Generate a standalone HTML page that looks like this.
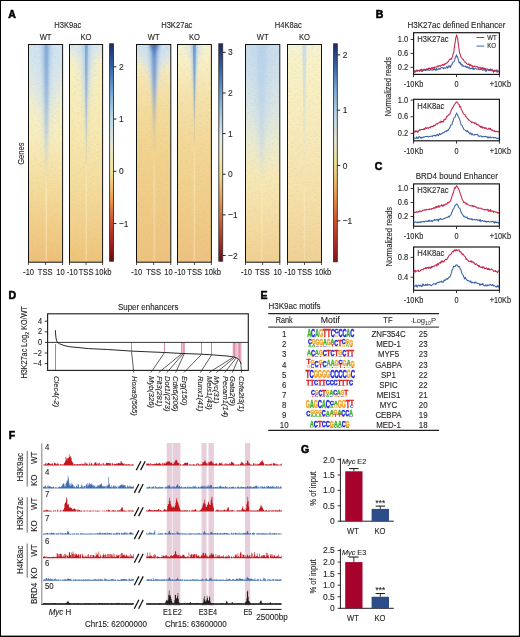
<!DOCTYPE html><html><head><meta charset="utf-8"><style>html,body{margin:0;padding:0;background:#fff;}svg{display:block;will-change:transform;} text{font-family:"Liberation Sans", sans-serif;}</style></head><body><svg width="520" height="637" viewBox="0 0 520 637" font-family='"Liberation Sans", sans-serif' fill="#231f20"><defs><filter id="noise" x="0" y="0" width="100%" height="100%"><feTurbulence type="fractalNoise" baseFrequency="0.35 0.9" numOctaves="2" seed="3" result="t"/><feColorMatrix type="matrix" values="0 0 0 0 0.5  0 0 0 0 0.4  0 0 0 0 0.3  1.6 0 0 0 -0.8" /></filter><filter id="b1" x="-50%" y="-10%" width="200%" height="120%"><feGaussianBlur stdDeviation="1.2"/></filter><filter id="b2" x="-50%" y="-10%" width="200%" height="120%"><feGaussianBlur stdDeviation="2.5"/></filter><filter id="b4" x="-50%" y="-10%" width="200%" height="120%"><feGaussianBlur stdDeviation="5"/></filter><linearGradient id="g_h9wt" gradientUnits="userSpaceOnUse" x1="0" y1="44.5" x2="0" y2="262.2"><stop offset="0" stop-color="#eef0d8" stop-opacity="1"/><stop offset="0.2" stop-color="#f5f1cc" stop-opacity="1"/><stop offset="0.42" stop-color="#f8eebe" stop-opacity="1"/><stop offset="0.62" stop-color="#f5dfa2" stop-opacity="1"/><stop offset="0.82" stop-color="#f2cf8a" stop-opacity="1"/><stop offset="1" stop-color="#eec079" stop-opacity="1"/></linearGradient><linearGradient id="bd_h9wt_0" gradientUnits="userSpaceOnUse" x1="0" y1="44.5" x2="0" y2="118"><stop offset="0" stop-color="#d2e4f2" stop-opacity="1.0"/><stop offset="1" stop-color="#d2e4f2" stop-opacity="0"/></linearGradient><linearGradient id="w_h9wt_1" gradientUnits="userSpaceOnUse" x1="0" y1="42.5" x2="0" y2="180"><stop offset="0" stop-color="#d0e3f1" stop-opacity="0.9"/><stop offset="0.7" stop-color="#d0e3f1" stop-opacity="0.27"/><stop offset="1" stop-color="#d0e3f1" stop-opacity="0.0"/></linearGradient><filter id="f_h9wt_1" x="-100%" y="-10%" width="300%" height="120%"><feGaussianBlur stdDeviation="3"/></filter><linearGradient id="w_h9wt_2" gradientUnits="userSpaceOnUse" x1="0" y1="42.5" x2="0" y2="190"><stop offset="0" stop-color="#abc9e7" stop-opacity="0.8"/><stop offset="0.7" stop-color="#abc9e7" stop-opacity="0.24"/><stop offset="1" stop-color="#abc9e7" stop-opacity="0.0"/></linearGradient><filter id="f_h9wt_2" x="-100%" y="-10%" width="300%" height="120%"><feGaussianBlur stdDeviation="1.6"/></filter><linearGradient id="w_h9wt_3" gradientUnits="userSpaceOnUse" x1="0" y1="42.5" x2="0" y2="175"><stop offset="0" stop-color="#6d9bd0" stop-opacity="0.85"/><stop offset="0.7" stop-color="#6d9bd0" stop-opacity="0.325"/><stop offset="1" stop-color="#6d9bd0" stop-opacity="0.1"/></linearGradient><filter id="f_h9wt_3" x="-100%" y="-10%" width="300%" height="120%"><feGaussianBlur stdDeviation="0.9"/></filter><linearGradient id="cl_h9wt" gradientUnits="userSpaceOnUse" x1="0" y1="170" x2="0" y2="262.2"><stop offset="0" stop-color="#fff8d8" stop-opacity="0"/><stop offset="0.3" stop-color="#fff8d8" stop-opacity="0.45"/><stop offset="1" stop-color="#fff8d8" stop-opacity="0.36000000000000004"/></linearGradient><linearGradient id="g_h9ko" gradientUnits="userSpaceOnUse" x1="0" y1="44.5" x2="0" y2="262.2"><stop offset="0" stop-color="#f3f2d2" stop-opacity="1"/><stop offset="0.1" stop-color="#f8f1c2" stop-opacity="1"/><stop offset="0.42" stop-color="#f7e8b0" stop-opacity="1"/><stop offset="0.65" stop-color="#f4dc9c" stop-opacity="1"/><stop offset="0.85" stop-color="#f1cf8a" stop-opacity="1"/><stop offset="1" stop-color="#eec37a" stop-opacity="1"/></linearGradient><linearGradient id="bd_h9ko_0" gradientUnits="userSpaceOnUse" x1="0" y1="44.5" x2="0" y2="62"><stop offset="0" stop-color="#d8e8f0" stop-opacity="0.9"/><stop offset="1" stop-color="#d8e8f0" stop-opacity="0"/></linearGradient><linearGradient id="w_h9ko_1" gradientUnits="userSpaceOnUse" x1="0" y1="42.5" x2="0" y2="140"><stop offset="0" stop-color="#d4e5f0" stop-opacity="0.85"/><stop offset="0.7" stop-color="#d4e5f0" stop-opacity="0.255"/><stop offset="1" stop-color="#d4e5f0" stop-opacity="0.0"/></linearGradient><filter id="f_h9ko_1" x="-100%" y="-10%" width="300%" height="120%"><feGaussianBlur stdDeviation="3"/></filter><linearGradient id="w_h9ko_2" gradientUnits="userSpaceOnUse" x1="0" y1="42.5" x2="0" y2="180"><stop offset="0" stop-color="#a8c8e6" stop-opacity="0.75"/><stop offset="0.7" stop-color="#a8c8e6" stop-opacity="0.22499999999999998"/><stop offset="1" stop-color="#a8c8e6" stop-opacity="0.0"/></linearGradient><filter id="f_h9ko_2" x="-100%" y="-10%" width="300%" height="120%"><feGaussianBlur stdDeviation="1.5"/></filter><linearGradient id="w_h9ko_3" gradientUnits="userSpaceOnUse" x1="0" y1="42.5" x2="0" y2="165"><stop offset="0" stop-color="#779fd2" stop-opacity="0.85"/><stop offset="0.7" stop-color="#779fd2" stop-opacity="0.325"/><stop offset="1" stop-color="#779fd2" stop-opacity="0.1"/></linearGradient><filter id="f_h9ko_3" x="-100%" y="-10%" width="300%" height="120%"><feGaussianBlur stdDeviation="0.7"/></filter><linearGradient id="cl_h9ko" gradientUnits="userSpaceOnUse" x1="0" y1="160" x2="0" y2="262.2"><stop offset="0" stop-color="#fff8d8" stop-opacity="0"/><stop offset="0.3" stop-color="#fff8d8" stop-opacity="0.4"/><stop offset="1" stop-color="#fff8d8" stop-opacity="0.32000000000000006"/></linearGradient><linearGradient id="g_h27wt" gradientUnits="userSpaceOnUse" x1="0" y1="44.5" x2="0" y2="262.2"><stop offset="0" stop-color="#e6ecdc" stop-opacity="1"/><stop offset="0.06" stop-color="#f2efcc" stop-opacity="1"/><stop offset="0.15" stop-color="#f6e6b4" stop-opacity="1"/><stop offset="0.3" stop-color="#f4dc9c" stop-opacity="1"/><stop offset="0.5" stop-color="#f2d38e" stop-opacity="1"/><stop offset="0.75" stop-color="#f0cb86" stop-opacity="1"/><stop offset="1" stop-color="#eec27c" stop-opacity="1"/></linearGradient><linearGradient id="bd_h27wt_0" gradientUnits="userSpaceOnUse" x1="0" y1="44.5" x2="0" y2="68"><stop offset="0" stop-color="#cde0f0" stop-opacity="1.0"/><stop offset="1" stop-color="#cde0f0" stop-opacity="0"/></linearGradient><linearGradient id="w_h27wt_1" gradientUnits="userSpaceOnUse" x1="0" y1="42.5" x2="0" y2="115"><stop offset="0" stop-color="#cfe2f0" stop-opacity="0.95"/><stop offset="0.7" stop-color="#cfe2f0" stop-opacity="0.285"/><stop offset="1" stop-color="#cfe2f0" stop-opacity="0.0"/></linearGradient><filter id="f_h27wt_1" x="-100%" y="-10%" width="300%" height="120%"><feGaussianBlur stdDeviation="2.5"/></filter><linearGradient id="w_h27wt_2" gradientUnits="userSpaceOnUse" x1="0" y1="42.5" x2="0" y2="140"><stop offset="0" stop-color="#9cbfe3" stop-opacity="0.9"/><stop offset="0.7" stop-color="#9cbfe3" stop-opacity="0.27"/><stop offset="1" stop-color="#9cbfe3" stop-opacity="0.0"/></linearGradient><filter id="f_h27wt_2" x="-100%" y="-10%" width="300%" height="120%"><feGaussianBlur stdDeviation="1.8"/></filter><linearGradient id="w_h27wt_3" gradientUnits="userSpaceOnUse" x1="0" y1="42.5" x2="0" y2="150"><stop offset="0" stop-color="#5a84c4" stop-opacity="0.85"/><stop offset="0.7" stop-color="#5a84c4" stop-opacity="0.36"/><stop offset="1" stop-color="#5a84c4" stop-opacity="0.15"/></linearGradient><filter id="f_h27wt_3" x="-100%" y="-10%" width="300%" height="120%"><feGaussianBlur stdDeviation="1.0"/></filter><linearGradient id="w_h27wt_4" gradientUnits="userSpaceOnUse" x1="0" y1="42.5" x2="0" y2="58"><stop offset="0" stop-color="#3d62a8" stop-opacity="0.9"/><stop offset="0.7" stop-color="#3d62a8" stop-opacity="0.27"/><stop offset="1" stop-color="#3d62a8" stop-opacity="0.0"/></linearGradient><filter id="f_h27wt_4" x="-100%" y="-10%" width="300%" height="120%"><feGaussianBlur stdDeviation="1.5"/></filter><linearGradient id="cl_h27wt" gradientUnits="userSpaceOnUse" x1="0" y1="150" x2="0" y2="262.2"><stop offset="0" stop-color="#fff8d8" stop-opacity="0"/><stop offset="0.3" stop-color="#fff8d8" stop-opacity="0.4"/><stop offset="1" stop-color="#fff8d8" stop-opacity="0.32000000000000006"/></linearGradient><linearGradient id="g_h27ko" gradientUnits="userSpaceOnUse" x1="0" y1="44.5" x2="0" y2="262.2"><stop offset="0" stop-color="#f4f1d2" stop-opacity="1"/><stop offset="0.08" stop-color="#f8f0c6" stop-opacity="1"/><stop offset="0.25" stop-color="#f5e2aa" stop-opacity="1"/><stop offset="0.45" stop-color="#f3d898" stop-opacity="1"/><stop offset="0.75" stop-color="#f1cd88" stop-opacity="1"/><stop offset="1" stop-color="#eec280" stop-opacity="1"/></linearGradient><linearGradient id="w_h27ko_0" gradientUnits="userSpaceOnUse" x1="0" y1="42.5" x2="0" y2="90"><stop offset="0" stop-color="#d4e4ee" stop-opacity="0.8"/><stop offset="0.7" stop-color="#d4e4ee" stop-opacity="0.24"/><stop offset="1" stop-color="#d4e4ee" stop-opacity="0.0"/></linearGradient><filter id="f_h27ko_0" x="-100%" y="-10%" width="300%" height="120%"><feGaussianBlur stdDeviation="2.5"/></filter><linearGradient id="w_h27ko_1" gradientUnits="userSpaceOnUse" x1="0" y1="42.5" x2="0" y2="140"><stop offset="0" stop-color="#a3c4e6" stop-opacity="0.85"/><stop offset="0.7" stop-color="#a3c4e6" stop-opacity="0.255"/><stop offset="1" stop-color="#a3c4e6" stop-opacity="0.0"/></linearGradient><filter id="f_h27ko_1" x="-100%" y="-10%" width="300%" height="120%"><feGaussianBlur stdDeviation="1.0"/></filter><linearGradient id="w_h27ko_2" gradientUnits="userSpaceOnUse" x1="0" y1="42.5" x2="0" y2="145"><stop offset="0" stop-color="#6593cc" stop-opacity="0.95"/><stop offset="0.7" stop-color="#6593cc" stop-opacity="0.355"/><stop offset="1" stop-color="#6593cc" stop-opacity="0.1"/></linearGradient><filter id="f_h27ko_2" x="-100%" y="-10%" width="300%" height="120%"><feGaussianBlur stdDeviation="0.5"/></filter><linearGradient id="cl_h27ko" gradientUnits="userSpaceOnUse" x1="0" y1="140" x2="0" y2="262.2"><stop offset="0" stop-color="#fff8d8" stop-opacity="0"/><stop offset="0.3" stop-color="#fff8d8" stop-opacity="0.4"/><stop offset="1" stop-color="#fff8d8" stop-opacity="0.32000000000000006"/></linearGradient><linearGradient id="g_h8wt" gradientUnits="userSpaceOnUse" x1="0" y1="44.5" x2="0" y2="262.2"><stop offset="0" stop-color="#e4ecdc" stop-opacity="1"/><stop offset="0.3" stop-color="#eeefd6" stop-opacity="1"/><stop offset="0.45" stop-color="#f6efc6" stop-opacity="1"/><stop offset="0.62" stop-color="#f6e8b6" stop-opacity="1"/><stop offset="0.82" stop-color="#f4dca2" stop-opacity="1"/><stop offset="1" stop-color="#f0d092" stop-opacity="1"/></linearGradient><linearGradient id="bd_h8wt_0" gradientUnits="userSpaceOnUse" x1="0" y1="44.5" x2="0" y2="175"><stop offset="0" stop-color="#c9ddf0" stop-opacity="1.0"/><stop offset="1" stop-color="#c9ddf0" stop-opacity="0"/></linearGradient><linearGradient id="w_h8wt_1" gradientUnits="userSpaceOnUse" x1="0" y1="42.5" x2="0" y2="178"><stop offset="0" stop-color="#c4dbef" stop-opacity="0.6"/><stop offset="0.7" stop-color="#c4dbef" stop-opacity="0.39"/><stop offset="1" stop-color="#c4dbef" stop-opacity="0.3"/></linearGradient><filter id="f_h8wt_1" x="-100%" y="-10%" width="300%" height="120%"><feGaussianBlur stdDeviation="3"/></filter><linearGradient id="w_h8wt_2" gradientUnits="userSpaceOnUse" x1="0" y1="42.5" x2="0" y2="178"><stop offset="0" stop-color="#b2cfe9" stop-opacity="0.7"/><stop offset="0.7" stop-color="#b2cfe9" stop-opacity="0.35"/><stop offset="1" stop-color="#b2cfe9" stop-opacity="0.2"/></linearGradient><filter id="f_h8wt_2" x="-100%" y="-10%" width="300%" height="120%"><feGaussianBlur stdDeviation="1.5"/></filter><linearGradient id="cl_h8wt" gradientUnits="userSpaceOnUse" x1="0" y1="178" x2="0" y2="262.2"><stop offset="0" stop-color="#fff8d8" stop-opacity="0"/><stop offset="0.3" stop-color="#fff8d8" stop-opacity="0.3"/><stop offset="1" stop-color="#fff8d8" stop-opacity="0.24"/></linearGradient><linearGradient id="g_h8ko" gradientUnits="userSpaceOnUse" x1="0" y1="44.5" x2="0" y2="262.2"><stop offset="0" stop-color="#f5f3d8" stop-opacity="1"/><stop offset="0.08" stop-color="#f8f2c8" stop-opacity="1"/><stop offset="0.45" stop-color="#f7e9b8" stop-opacity="1"/><stop offset="0.75" stop-color="#f4dea6" stop-opacity="1"/><stop offset="1" stop-color="#f0d194" stop-opacity="1"/></linearGradient><linearGradient id="w_h8ko_0" gradientUnits="userSpaceOnUse" x1="0" y1="42.5" x2="0" y2="175"><stop offset="0" stop-color="#c2dbef" stop-opacity="0.9"/><stop offset="0.7" stop-color="#c2dbef" stop-opacity="0.27"/><stop offset="1" stop-color="#c2dbef" stop-opacity="0.0"/></linearGradient><filter id="f_h8ko_0" x="-100%" y="-10%" width="300%" height="120%"><feGaussianBlur stdDeviation="0.6"/></filter><linearGradient id="cl_h8ko" gradientUnits="userSpaceOnUse" x1="0" y1="175" x2="0" y2="262.2"><stop offset="0" stop-color="#fff8d8" stop-opacity="0"/><stop offset="0.3" stop-color="#fff8d8" stop-opacity="0.3"/><stop offset="1" stop-color="#fff8d8" stop-opacity="0.24"/></linearGradient><linearGradient id="cb1" gradientUnits="userSpaceOnUse" x1="0" y1="43.8" x2="0" y2="261.2"><stop offset="0.0" stop-color="#1b2a6b" stop-opacity="1"/><stop offset="0.1058" stop-color="#3563ab" stop-opacity="1"/><stop offset="0.226" stop-color="#74a9d8" stop-opacity="1"/><stop offset="0.3462" stop-color="#bcdbe8" stop-opacity="1"/><stop offset="0.4663" stop-color="#e4e7d2" stop-opacity="1"/><stop offset="0.5865" stop-color="#f3e39a" stop-opacity="1"/><stop offset="0.7067" stop-color="#eba553" stop-opacity="1"/><stop offset="0.8269" stop-color="#c8482c" stop-opacity="1"/><stop offset="0.9231" stop-color="#a01c1c" stop-opacity="1"/><stop offset="1.0" stop-color="#680812" stop-opacity="1"/></linearGradient><linearGradient id="cb2" gradientUnits="userSpaceOnUse" x1="0" y1="43.8" x2="0" y2="261.2"><stop offset="0.0019" stop-color="#1b2a6b" stop-opacity="1"/><stop offset="0.114" stop-color="#3563ab" stop-opacity="1"/><stop offset="0.2262" stop-color="#6d9fd2" stop-opacity="1"/><stop offset="0.3383" stop-color="#a8cde6" stop-opacity="1"/><stop offset="0.4318" stop-color="#e2ecec" stop-opacity="1"/><stop offset="0.5252" stop-color="#f0eab0" stop-opacity="1"/><stop offset="0.6" stop-color="#efd986" stop-opacity="1"/><stop offset="0.7121" stop-color="#e8a050" stop-opacity="1"/><stop offset="0.8243" stop-color="#d05a30" stop-opacity="1"/><stop offset="0.9178" stop-color="#b02a20" stop-opacity="1"/><stop offset="1" stop-color="#6a0a14" stop-opacity="1"/></linearGradient><linearGradient id="cb3" gradientUnits="userSpaceOnUse" x1="0" y1="43.8" x2="0" y2="261.8"><stop offset="0.0" stop-color="#1b2a6b" stop-opacity="1"/><stop offset="0.1015" stop-color="#3563ab" stop-opacity="1"/><stop offset="0.203" stop-color="#74a9d8" stop-opacity="1"/><stop offset="0.3299" stop-color="#bcdbe8" stop-opacity="1"/><stop offset="0.4442" stop-color="#e4e7d2" stop-opacity="1"/><stop offset="0.5584" stop-color="#f1de90" stop-opacity="1"/><stop offset="0.6853" stop-color="#eba04e" stop-opacity="1"/><stop offset="0.8122" stop-color="#d4502c" stop-opacity="1"/><stop offset="0.9137" stop-color="#b42a22" stop-opacity="1"/><stop offset="1.0" stop-color="#84101c" stop-opacity="1"/></linearGradient></defs><rect x="0" y="0" width="520" height="637" fill="#000"/>
<rect x="1" y="1" width="517.9" height="634.6" fill="#fff"/>
<text x="8.20" y="17.90" font-size="10.50" font-weight="bold" fill="#000" stroke="#000" stroke-width="0.55" >A</text>
<clipPath id="c_h9wt"><rect x="28.5" y="44.5" width="34.1" height="217.7"/></clipPath>
<g clip-path="url(#c_h9wt)">
<rect x="28.50" y="44.50" width="34.10" height="217.70" fill="url(#g_h9wt)" />
<rect x="28.50" y="44.50" width="34.10" height="73.50" fill="url(#bd_h9wt_0)" />
<path d="M29.30,42.50 L30.15,48.23 L30.99,53.96 L31.82,59.69 L32.64,65.42 L33.46,71.15 L34.26,76.88 L35.06,82.60 L35.85,88.33 L36.63,94.06 L37.40,99.79 L38.15,105.52 L38.90,111.25 L39.63,116.98 L40.35,122.71 L41.06,128.44 L41.75,134.17 L42.42,139.90 L43.08,145.62 L43.71,151.35 L44.32,157.08 L44.90,162.81 L45.44,168.54 L45.92,174.27 L45.95,180.00 L46.65,180.00 L46.68,174.27 L47.16,168.54 L47.70,162.81 L48.28,157.08 L48.89,151.35 L49.52,145.62 L50.18,139.90 L50.85,134.17 L51.54,128.44 L52.25,122.71 L52.97,116.98 L53.70,111.25 L54.45,105.52 L55.20,99.79 L55.97,94.06 L56.75,88.33 L57.54,82.60 L58.34,76.88 L59.14,71.15 L59.96,65.42 L60.78,59.69 L61.61,53.96 L62.45,48.23 L63.30,42.50 Z" fill="url(#w_h9wt_1)" filter="url(#f_h9wt_1)"/>
<path d="M40.80,42.50 L41.03,48.65 L41.26,54.79 L41.49,60.94 L41.72,67.08 L41.95,73.23 L42.17,79.38 L42.40,85.52 L42.63,91.67 L42.86,97.81 L43.09,103.96 L43.32,110.10 L43.55,116.25 L43.78,122.40 L44.01,128.54 L44.24,134.69 L44.47,140.83 L44.70,146.98 L44.92,153.12 L45.15,159.27 L45.38,165.42 L45.61,171.56 L45.84,177.71 L45.95,183.85 L45.95,190.00 L46.65,190.00 L46.65,183.85 L46.76,177.71 L46.99,171.56 L47.22,165.42 L47.45,159.27 L47.67,153.12 L47.90,146.98 L48.13,140.83 L48.36,134.69 L48.59,128.54 L48.82,122.40 L49.05,116.25 L49.28,110.10 L49.51,103.96 L49.74,97.81 L49.97,91.67 L50.20,85.52 L50.42,79.38 L50.65,73.23 L50.88,67.08 L51.11,60.94 L51.34,54.79 L51.57,48.65 L51.80,42.50 Z" fill="url(#w_h9wt_2)" filter="url(#f_h9wt_2)"/>
<path d="M44.40,42.50 L44.45,48.02 L44.50,53.54 L44.55,59.06 L44.60,64.58 L44.65,70.10 L44.70,75.62 L44.76,81.15 L44.81,86.67 L44.87,92.19 L44.92,97.71 L44.98,103.23 L45.05,108.75 L45.11,114.27 L45.18,119.79 L45.25,125.31 L45.32,130.83 L45.39,136.35 L45.47,141.88 L45.56,147.40 L45.65,152.92 L45.75,158.44 L45.87,163.96 L45.95,169.48 L45.95,175.00 L46.65,175.00 L46.65,169.48 L46.73,163.96 L46.85,158.44 L46.95,152.92 L47.04,147.40 L47.13,141.88 L47.21,136.35 L47.28,130.83 L47.35,125.31 L47.42,119.79 L47.49,114.27 L47.55,108.75 L47.62,103.23 L47.68,97.71 L47.73,92.19 L47.79,86.67 L47.84,81.15 L47.90,75.62 L47.95,70.10 L48.00,64.58 L48.05,59.06 L48.10,53.54 L48.15,48.02 L48.20,42.50 Z" fill="url(#w_h9wt_3)" filter="url(#f_h9wt_3)"/>
<rect x="28.5" y="44.5" width="34.1" height="217.7" filter="url(#noise)" opacity="0.3"/>
<rect x="45.60" y="170.00" width="1.40" height="92.20" fill="url(#cl_h9wt)" />
</g>
<rect x="28.50" y="44.50" width="34.10" height="217.70" fill="none" stroke="#111" stroke-width="1" />
<clipPath id="c_h9ko"><rect x="69.5" y="44.5" width="33.099999999999994" height="217.7"/></clipPath>
<g clip-path="url(#c_h9ko)">
<rect x="69.50" y="44.50" width="33.10" height="217.70" fill="url(#g_h9ko)" />
<rect x="69.50" y="44.50" width="33.10" height="17.50" fill="url(#bd_h9ko_0)" />
<path d="M74.30,42.50 L74.95,46.56 L75.58,50.62 L76.21,54.69 L76.83,58.75 L77.44,62.81 L78.04,66.88 L78.64,70.94 L79.22,75.00 L79.79,79.06 L80.35,83.12 L80.89,87.19 L81.43,91.25 L81.95,95.31 L82.45,99.38 L82.95,103.44 L83.42,107.50 L83.88,111.56 L84.32,115.62 L84.74,119.69 L85.13,123.75 L85.50,127.81 L85.83,131.88 L85.95,135.94 L85.95,140.00 L86.65,140.00 L86.65,135.94 L86.77,131.88 L87.10,127.81 L87.47,123.75 L87.86,119.69 L88.28,115.62 L88.72,111.56 L89.18,107.50 L89.65,103.44 L90.15,99.38 L90.65,95.31 L91.17,91.25 L91.71,87.19 L92.25,83.12 L92.81,79.06 L93.38,75.00 L93.96,70.94 L94.56,66.88 L95.16,62.81 L95.77,58.75 L96.39,54.69 L97.02,50.62 L97.65,46.56 L98.30,42.50 Z" fill="url(#w_h9ko_1)" filter="url(#f_h9ko_1)"/>
<path d="M82.10,42.50 L82.27,48.23 L82.45,53.96 L82.62,59.69 L82.80,65.42 L82.97,71.15 L83.15,76.88 L83.33,82.60 L83.50,88.33 L83.67,94.06 L83.85,99.79 L84.02,105.52 L84.20,111.25 L84.38,116.98 L84.55,122.71 L84.72,128.44 L84.90,134.17 L85.08,139.90 L85.25,145.62 L85.42,151.35 L85.60,157.08 L85.77,162.81 L85.95,168.54 L85.95,174.27 L85.95,180.00 L86.65,180.00 L86.65,174.27 L86.65,168.54 L86.83,162.81 L87.00,157.08 L87.17,151.35 L87.35,145.62 L87.52,139.90 L87.70,134.17 L87.88,128.44 L88.05,122.71 L88.22,116.98 L88.40,111.25 L88.58,105.52 L88.75,99.79 L88.92,94.06 L89.10,88.33 L89.27,82.60 L89.45,76.88 L89.62,71.15 L89.80,65.42 L89.97,59.69 L90.15,53.96 L90.33,48.23 L90.50,42.50 Z" fill="url(#w_h9ko_2)" filter="url(#f_h9ko_2)"/>
<path d="M84.90,42.50 L84.94,47.60 L84.97,52.71 L85.01,57.81 L85.05,62.92 L85.08,68.02 L85.12,73.12 L85.16,78.23 L85.20,83.33 L85.24,88.44 L85.29,93.54 L85.33,98.65 L85.38,103.75 L85.42,108.85 L85.47,113.96 L85.52,119.06 L85.58,124.17 L85.63,129.27 L85.69,134.38 L85.75,139.48 L85.82,144.58 L85.90,149.69 L85.95,154.79 L85.95,159.90 L85.95,165.00 L86.65,165.00 L86.65,159.90 L86.65,154.79 L86.70,149.69 L86.78,144.58 L86.85,139.48 L86.91,134.38 L86.97,129.27 L87.02,124.17 L87.08,119.06 L87.13,113.96 L87.18,108.85 L87.22,103.75 L87.27,98.65 L87.31,93.54 L87.36,88.44 L87.40,83.33 L87.44,78.23 L87.48,73.12 L87.52,68.02 L87.55,62.92 L87.59,57.81 L87.63,52.71 L87.66,47.60 L87.70,42.50 Z" fill="url(#w_h9ko_3)" filter="url(#f_h9ko_3)"/>
<rect x="69.5" y="44.5" width="33.099999999999994" height="217.7" filter="url(#noise)" opacity="0.3"/>
<rect x="85.60" y="160.00" width="1.40" height="102.20" fill="url(#cl_h9ko)" />
</g>
<rect x="69.50" y="44.50" width="33.10" height="217.70" fill="none" stroke="#111" stroke-width="1" />
<clipPath id="c_h27wt"><rect x="136.5" y="44.5" width="34.30000000000001" height="217.7"/></clipPath>
<g clip-path="url(#c_h27wt)">
<rect x="136.50" y="44.50" width="34.30" height="217.70" fill="url(#g_h27wt)" />
<rect x="136.50" y="44.50" width="34.30" height="23.50" fill="url(#bd_h27wt_0)" />
<path d="M137.20,42.50 L138.32,45.52 L139.41,48.54 L140.47,51.56 L141.50,54.58 L142.50,57.60 L143.47,60.62 L144.41,63.65 L145.31,66.67 L146.19,69.69 L147.02,72.71 L147.83,75.73 L148.59,78.75 L149.32,81.77 L150.01,84.79 L150.66,87.81 L151.27,90.83 L151.83,93.85 L152.35,96.88 L152.82,99.90 L153.23,102.92 L153.59,105.94 L153.85,108.96 L153.85,111.98 L153.85,115.00 L154.55,115.00 L154.55,111.98 L154.55,108.96 L154.81,105.94 L155.17,102.92 L155.58,99.90 L156.05,96.88 L156.57,93.85 L157.13,90.83 L157.74,87.81 L158.39,84.79 L159.08,81.77 L159.81,78.75 L160.57,75.73 L161.38,72.71 L162.21,69.69 L163.09,66.67 L163.99,63.65 L164.93,60.62 L165.90,57.60 L166.90,54.58 L167.93,51.56 L168.99,48.54 L170.08,45.52 L171.20,42.50 Z" fill="url(#w_h27wt_1)" filter="url(#f_h27wt_1)"/>
<path d="M148.20,42.50 L148.52,46.56 L148.84,50.62 L149.16,54.69 L149.47,58.75 L149.77,62.81 L150.07,66.88 L150.37,70.94 L150.66,75.00 L150.94,79.06 L151.22,83.12 L151.50,87.19 L151.76,91.25 L152.02,95.31 L152.28,99.38 L152.52,103.44 L152.76,107.50 L152.99,111.56 L153.21,115.62 L153.42,119.69 L153.62,123.75 L153.80,127.81 L153.85,131.88 L153.85,135.94 L153.85,140.00 L154.55,140.00 L154.55,135.94 L154.55,131.88 L154.60,127.81 L154.78,123.75 L154.98,119.69 L155.19,115.62 L155.41,111.56 L155.64,107.50 L155.88,103.44 L156.12,99.38 L156.38,95.31 L156.64,91.25 L156.90,87.19 L157.18,83.12 L157.46,79.06 L157.74,75.00 L158.03,70.94 L158.33,66.88 L158.63,62.81 L158.93,58.75 L159.24,54.69 L159.56,50.62 L159.88,46.56 L160.20,42.50 Z" fill="url(#w_h27wt_2)" filter="url(#f_h27wt_2)"/>
<path d="M152.00,42.50 L152.06,46.98 L152.13,51.46 L152.20,55.94 L152.26,60.42 L152.33,64.90 L152.40,69.38 L152.47,73.85 L152.54,78.33 L152.62,82.81 L152.69,87.29 L152.77,91.77 L152.85,96.25 L152.93,100.73 L153.01,105.21 L153.09,109.69 L153.18,114.17 L153.27,118.65 L153.37,123.12 L153.47,127.60 L153.57,132.08 L153.69,136.56 L153.81,141.04 L153.85,145.52 L153.85,150.00 L154.55,150.00 L154.55,145.52 L154.59,141.04 L154.71,136.56 L154.83,132.08 L154.93,127.60 L155.03,123.12 L155.13,118.65 L155.22,114.17 L155.31,109.69 L155.39,105.21 L155.47,100.73 L155.55,96.25 L155.63,91.77 L155.71,87.29 L155.78,82.81 L155.86,78.33 L155.93,73.85 L156.00,69.38 L156.07,64.90 L156.14,60.42 L156.20,55.94 L156.27,51.46 L156.34,46.98 L156.40,42.50 Z" fill="url(#w_h27wt_3)" filter="url(#f_h27wt_3)"/>
<path d="M149.20,42.50 L149.41,43.15 L149.62,43.79 L149.82,44.44 L150.03,45.08 L150.24,45.73 L150.45,46.38 L150.66,47.02 L150.87,47.67 L151.07,48.31 L151.28,48.96 L151.49,49.60 L151.70,50.25 L151.91,50.90 L152.12,51.54 L152.32,52.19 L152.53,52.83 L152.74,53.48 L152.95,54.12 L153.16,54.77 L153.37,55.42 L153.57,56.06 L153.78,56.71 L153.85,57.35 L153.85,58.00 L154.55,58.00 L154.55,57.35 L154.62,56.71 L154.82,56.06 L155.03,55.42 L155.24,54.77 L155.45,54.12 L155.66,53.48 L155.87,52.83 L156.07,52.19 L156.28,51.54 L156.49,50.90 L156.70,50.25 L156.91,49.60 L157.12,48.96 L157.32,48.31 L157.53,47.67 L157.74,47.02 L157.95,46.38 L158.16,45.73 L158.37,45.08 L158.57,44.44 L158.78,43.79 L158.99,43.15 L159.20,42.50 Z" fill="url(#w_h27wt_4)" filter="url(#f_h27wt_4)"/>
<rect x="136.5" y="44.5" width="34.30000000000001" height="217.7" filter="url(#noise)" opacity="0.3"/>
<rect x="153.50" y="150.00" width="1.40" height="112.20" fill="url(#cl_h27wt)" />
</g>
<rect x="136.50" y="44.50" width="34.30" height="217.70" fill="none" stroke="#111" stroke-width="1" />
<clipPath id="c_h27ko"><rect x="177.5" y="44.5" width="33.900000000000006" height="217.7"/></clipPath>
<g clip-path="url(#c_h27ko)">
<rect x="177.50" y="44.50" width="33.90" height="217.70" fill="url(#g_h27ko)" />
<path d="M186.40,42.50 L186.83,44.48 L187.26,46.46 L187.67,48.44 L188.09,50.42 L188.50,52.40 L188.90,54.38 L189.29,56.35 L189.68,58.33 L190.06,60.31 L190.43,62.29 L190.79,64.27 L191.15,66.25 L191.50,68.23 L191.84,70.21 L192.16,72.19 L192.48,74.17 L192.79,76.15 L193.08,78.12 L193.36,80.10 L193.62,82.08 L193.86,84.06 L194.05,86.04 L194.05,88.02 L194.05,90.00 L194.75,90.00 L194.75,88.02 L194.75,86.04 L194.94,84.06 L195.18,82.08 L195.44,80.10 L195.72,78.12 L196.01,76.15 L196.32,74.17 L196.64,72.19 L196.96,70.21 L197.30,68.23 L197.65,66.25 L198.01,64.27 L198.37,62.29 L198.74,60.31 L199.12,58.33 L199.51,56.35 L199.90,54.38 L200.30,52.40 L200.71,50.42 L201.13,48.44 L201.54,46.46 L201.97,44.48 L202.40,42.50 Z" fill="url(#w_h27ko_0)" filter="url(#f_h27ko_0)"/>
<path d="M191.20,42.50 L191.33,46.56 L191.47,50.62 L191.60,54.69 L191.73,58.75 L191.87,62.81 L192.00,66.88 L192.13,70.94 L192.27,75.00 L192.40,79.06 L192.53,83.12 L192.67,87.19 L192.80,91.25 L192.93,95.31 L193.07,99.38 L193.20,103.44 L193.33,107.50 L193.47,111.56 L193.60,115.62 L193.73,119.69 L193.87,123.75 L194.00,127.81 L194.05,131.88 L194.05,135.94 L194.05,140.00 L194.75,140.00 L194.75,135.94 L194.75,131.88 L194.80,127.81 L194.93,123.75 L195.07,119.69 L195.20,115.62 L195.33,111.56 L195.47,107.50 L195.60,103.44 L195.73,99.38 L195.87,95.31 L196.00,91.25 L196.13,87.19 L196.27,83.12 L196.40,79.06 L196.53,75.00 L196.67,70.94 L196.80,66.88 L196.93,62.81 L197.07,58.75 L197.20,54.69 L197.33,50.62 L197.47,46.56 L197.60,42.50 Z" fill="url(#w_h27ko_1)" filter="url(#f_h27ko_1)"/>
<path d="M193.00,42.50 L193.05,46.77 L193.09,51.04 L193.14,55.31 L193.19,59.58 L193.24,63.85 L193.29,68.12 L193.34,72.40 L193.39,76.67 L193.44,80.94 L193.49,85.21 L193.54,89.48 L193.60,93.75 L193.65,98.02 L193.71,102.29 L193.76,106.56 L193.82,110.83 L193.88,115.10 L193.94,119.38 L194.00,123.65 L194.05,127.92 L194.05,132.19 L194.05,136.46 L194.05,140.73 L194.05,145.00 L194.75,145.00 L194.75,140.73 L194.75,136.46 L194.75,132.19 L194.75,127.92 L194.80,123.65 L194.86,119.38 L194.92,115.10 L194.98,110.83 L195.04,106.56 L195.09,102.29 L195.15,98.02 L195.20,93.75 L195.26,89.48 L195.31,85.21 L195.36,80.94 L195.41,76.67 L195.46,72.40 L195.51,68.12 L195.56,63.85 L195.61,59.58 L195.66,55.31 L195.71,51.04 L195.75,46.77 L195.80,42.50 Z" fill="url(#w_h27ko_2)" filter="url(#f_h27ko_2)"/>
<rect x="177.5" y="44.5" width="33.900000000000006" height="217.7" filter="url(#noise)" opacity="0.3"/>
<rect x="193.70" y="140.00" width="1.40" height="122.20" fill="url(#cl_h27ko)" />
</g>
<rect x="177.50" y="44.50" width="33.90" height="217.70" fill="none" stroke="#111" stroke-width="1" />
<clipPath id="c_h8wt"><rect x="245.5" y="44.5" width="34.30000000000001" height="217.7"/></clipPath>
<g clip-path="url(#c_h8wt)">
<rect x="245.50" y="44.50" width="34.30" height="217.70" fill="url(#g_h8wt)" />
<rect x="245.50" y="44.50" width="34.30" height="130.50" fill="url(#bd_h8wt_0)" />
<path d="M247.80,42.50 L248.33,48.15 L248.85,53.79 L249.39,59.44 L249.92,65.08 L250.45,70.73 L250.99,76.38 L251.54,82.02 L252.08,87.67 L252.63,93.31 L253.18,98.96 L253.74,104.60 L254.30,110.25 L254.86,115.90 L255.43,121.54 L256.01,127.19 L256.59,132.83 L257.18,138.48 L257.78,144.12 L258.39,149.77 L259.01,155.42 L259.65,161.06 L260.30,166.71 L261.00,172.35 L261.45,178.00 L262.15,178.00 L262.60,172.35 L263.30,166.71 L263.95,161.06 L264.59,155.42 L265.21,149.77 L265.82,144.12 L266.42,138.48 L267.01,132.83 L267.59,127.19 L268.17,121.54 L268.74,115.90 L269.30,110.25 L269.86,104.60 L270.42,98.96 L270.97,93.31 L271.52,87.67 L272.06,82.02 L272.61,76.38 L273.15,70.73 L273.68,65.08 L274.21,59.44 L274.75,53.79 L275.27,48.15 L275.80,42.50 Z" fill="url(#w_h8wt_1)" filter="url(#f_h8wt_1)"/>
<path d="M256.80,42.50 L256.97,48.15 L257.14,53.79 L257.31,59.44 L257.48,65.08 L257.65,70.73 L257.83,76.38 L258.01,82.02 L258.19,87.67 L258.37,93.31 L258.55,98.96 L258.74,104.60 L258.93,110.25 L259.12,115.90 L259.32,121.54 L259.52,127.19 L259.72,132.83 L259.93,138.48 L260.15,144.12 L260.37,149.77 L260.61,155.42 L260.85,161.06 L261.12,166.71 L261.41,172.35 L261.45,178.00 L262.15,178.00 L262.19,172.35 L262.48,166.71 L262.75,161.06 L262.99,155.42 L263.23,149.77 L263.45,144.12 L263.67,138.48 L263.88,132.83 L264.08,127.19 L264.28,121.54 L264.48,115.90 L264.67,110.25 L264.86,104.60 L265.05,98.96 L265.23,93.31 L265.41,87.67 L265.59,82.02 L265.77,76.38 L265.95,70.73 L266.12,65.08 L266.29,59.44 L266.46,53.79 L266.63,48.15 L266.80,42.50 Z" fill="url(#w_h8wt_2)" filter="url(#f_h8wt_2)"/>
<rect x="245.5" y="44.5" width="34.30000000000001" height="217.7" filter="url(#noise)" opacity="0.3"/>
<rect x="261.10" y="178.00" width="1.40" height="84.20" fill="url(#cl_h8wt)" />
</g>
<rect x="245.50" y="44.50" width="34.30" height="217.70" fill="none" stroke="#111" stroke-width="1" />
<clipPath id="c_h8ko"><rect x="287.5" y="44.5" width="34.0" height="217.7"/></clipPath>
<g clip-path="url(#c_h8ko)">
<rect x="287.50" y="44.50" width="34.00" height="217.70" fill="url(#g_h8ko)" />
<path d="M302.40,42.50 L302.46,48.02 L302.52,53.54 L302.58,59.06 L302.64,64.58 L302.70,70.10 L302.76,75.62 L302.83,81.15 L302.89,86.67 L302.96,92.19 L303.03,97.71 L303.10,103.23 L303.17,108.75 L303.24,114.27 L303.32,119.79 L303.39,125.31 L303.47,130.83 L303.56,136.35 L303.64,141.88 L303.73,147.40 L303.83,152.92 L303.93,158.44 L304.05,163.96 L304.05,169.48 L304.05,175.00 L304.75,175.00 L304.75,169.48 L304.75,163.96 L304.87,158.44 L304.97,152.92 L305.07,147.40 L305.16,141.88 L305.24,136.35 L305.33,130.83 L305.41,125.31 L305.48,119.79 L305.56,114.27 L305.63,108.75 L305.70,103.23 L305.77,97.71 L305.84,92.19 L305.91,86.67 L305.97,81.15 L306.04,75.62 L306.10,70.10 L306.16,64.58 L306.22,59.06 L306.28,53.54 L306.34,48.02 L306.40,42.50 Z" fill="url(#w_h8ko_0)" filter="url(#f_h8ko_0)"/>
<rect x="287.5" y="44.5" width="34.0" height="217.7" filter="url(#noise)" opacity="0.3"/>
<rect x="303.70" y="175.00" width="1.40" height="87.20" fill="url(#cl_h8ko)" />
</g>
<rect x="287.50" y="44.50" width="34.00" height="217.70" fill="none" stroke="#111" stroke-width="1" />
<text x="67.70" y="27.80" font-size="8.51" textLength="27.04" lengthAdjust="spacingAndGlyphs" text-anchor="middle" stroke="#231f20" stroke-width="0.12" >H3K9ac</text>
<text x="176.80" y="27.80" font-size="8.51" textLength="31.26" lengthAdjust="spacingAndGlyphs" text-anchor="middle" stroke="#231f20" stroke-width="0.12" >H3K27ac</text>
<text x="288.30" y="27.80" font-size="8.51" textLength="27.04" lengthAdjust="spacingAndGlyphs" text-anchor="middle" stroke="#231f20" stroke-width="0.12" >H4K8ac</text>
<text x="45.55" y="39.60" font-size="8.51" textLength="11.82" lengthAdjust="spacingAndGlyphs" text-anchor="middle" stroke="#231f20" stroke-width="0.12" >WT</text>
<line x1="28.50" y1="262.20" x2="28.50" y2="265.00" stroke="#231f20" stroke-width="0.8" />
<line x1="45.55" y1="262.20" x2="45.55" y2="265.00" stroke="#231f20" stroke-width="0.8" />
<line x1="62.60" y1="262.20" x2="62.60" y2="265.00" stroke="#231f20" stroke-width="0.8" />
<text x="86.05" y="39.60" font-size="8.51" textLength="10.98" lengthAdjust="spacingAndGlyphs" text-anchor="middle" stroke="#231f20" stroke-width="0.12" >KO</text>
<line x1="69.50" y1="262.20" x2="69.50" y2="265.00" stroke="#231f20" stroke-width="0.8" />
<line x1="86.05" y1="262.20" x2="86.05" y2="265.00" stroke="#231f20" stroke-width="0.8" />
<line x1="102.60" y1="262.20" x2="102.60" y2="265.00" stroke="#231f20" stroke-width="0.8" />
<text x="153.65" y="39.60" font-size="8.51" textLength="11.82" lengthAdjust="spacingAndGlyphs" text-anchor="middle" stroke="#231f20" stroke-width="0.12" >WT</text>
<line x1="136.50" y1="262.20" x2="136.50" y2="265.00" stroke="#231f20" stroke-width="0.8" />
<line x1="153.65" y1="262.20" x2="153.65" y2="265.00" stroke="#231f20" stroke-width="0.8" />
<line x1="170.80" y1="262.20" x2="170.80" y2="265.00" stroke="#231f20" stroke-width="0.8" />
<text x="194.45" y="39.60" font-size="8.51" textLength="10.98" lengthAdjust="spacingAndGlyphs" text-anchor="middle" stroke="#231f20" stroke-width="0.12" >KO</text>
<line x1="177.50" y1="262.20" x2="177.50" y2="265.00" stroke="#231f20" stroke-width="0.8" />
<line x1="194.45" y1="262.20" x2="194.45" y2="265.00" stroke="#231f20" stroke-width="0.8" />
<line x1="211.40" y1="262.20" x2="211.40" y2="265.00" stroke="#231f20" stroke-width="0.8" />
<text x="262.65" y="39.60" font-size="8.51" textLength="11.82" lengthAdjust="spacingAndGlyphs" text-anchor="middle" stroke="#231f20" stroke-width="0.12" >WT</text>
<line x1="245.50" y1="262.20" x2="245.50" y2="265.00" stroke="#231f20" stroke-width="0.8" />
<line x1="262.65" y1="262.20" x2="262.65" y2="265.00" stroke="#231f20" stroke-width="0.8" />
<line x1="279.80" y1="262.20" x2="279.80" y2="265.00" stroke="#231f20" stroke-width="0.8" />
<text x="304.50" y="39.60" font-size="8.51" textLength="10.98" lengthAdjust="spacingAndGlyphs" text-anchor="middle" stroke="#231f20" stroke-width="0.12" >KO</text>
<line x1="287.50" y1="262.20" x2="287.50" y2="265.00" stroke="#231f20" stroke-width="0.8" />
<line x1="304.50" y1="262.20" x2="304.50" y2="265.00" stroke="#231f20" stroke-width="0.8" />
<line x1="321.50" y1="262.20" x2="321.50" y2="265.00" stroke="#231f20" stroke-width="0.8" />
<text x="28.60" y="274.90" font-size="8.51" textLength="10.98" lengthAdjust="spacingAndGlyphs" text-anchor="middle" stroke="#231f20" stroke-width="0.12" >-10</text>
<text x="45.20" y="274.90" font-size="8.51" textLength="14.78" lengthAdjust="spacingAndGlyphs" text-anchor="middle" stroke="#231f20" stroke-width="0.12" >TSS</text>
<text x="60.50" y="274.90" font-size="8.51" textLength="8.45" lengthAdjust="spacingAndGlyphs" text-anchor="middle" stroke="#231f20" stroke-width="0.12" >10</text>
<text x="72.20" y="274.90" font-size="8.51" textLength="10.98" lengthAdjust="spacingAndGlyphs" text-anchor="middle" stroke="#231f20" stroke-width="0.12" >-10</text>
<text x="86.10" y="274.90" font-size="8.51" textLength="14.78" lengthAdjust="spacingAndGlyphs" text-anchor="middle" stroke="#231f20" stroke-width="0.12" >TSS</text>
<text x="103.30" y="274.90" font-size="8.51" textLength="16.48" lengthAdjust="spacingAndGlyphs" text-anchor="middle" stroke="#231f20" stroke-width="0.12" >10kb</text>
<text x="136.80" y="274.90" font-size="8.51" textLength="10.98" lengthAdjust="spacingAndGlyphs" text-anchor="middle" stroke="#231f20" stroke-width="0.12" >-10</text>
<text x="153.60" y="274.90" font-size="8.51" textLength="14.78" lengthAdjust="spacingAndGlyphs" text-anchor="middle" stroke="#231f20" stroke-width="0.12" >TSS</text>
<text x="168.50" y="274.90" font-size="8.51" textLength="8.45" lengthAdjust="spacingAndGlyphs" text-anchor="middle" stroke="#231f20" stroke-width="0.12" >10</text>
<text x="180.10" y="274.90" font-size="8.51" textLength="10.98" lengthAdjust="spacingAndGlyphs" text-anchor="middle" stroke="#231f20" stroke-width="0.12" >-10</text>
<text x="194.70" y="274.90" font-size="8.51" textLength="14.78" lengthAdjust="spacingAndGlyphs" text-anchor="middle" stroke="#231f20" stroke-width="0.12" >TSS</text>
<text x="212.70" y="274.90" font-size="8.51" textLength="16.48" lengthAdjust="spacingAndGlyphs" text-anchor="middle" stroke="#231f20" stroke-width="0.12" >10kb</text>
<text x="246.40" y="274.90" font-size="8.51" textLength="10.98" lengthAdjust="spacingAndGlyphs" text-anchor="middle" stroke="#231f20" stroke-width="0.12" >-10</text>
<text x="262.50" y="274.90" font-size="8.51" textLength="14.78" lengthAdjust="spacingAndGlyphs" text-anchor="middle" stroke="#231f20" stroke-width="0.12" >TSS</text>
<text x="277.60" y="274.90" font-size="8.51" textLength="8.45" lengthAdjust="spacingAndGlyphs" text-anchor="middle" stroke="#231f20" stroke-width="0.12" >10</text>
<text x="290.10" y="274.90" font-size="8.51" textLength="10.98" lengthAdjust="spacingAndGlyphs" text-anchor="middle" stroke="#231f20" stroke-width="0.12" >-10</text>
<text x="304.80" y="274.90" font-size="8.51" textLength="14.78" lengthAdjust="spacingAndGlyphs" text-anchor="middle" stroke="#231f20" stroke-width="0.12" >TSS</text>
<text x="323.00" y="274.90" font-size="8.51" textLength="16.48" lengthAdjust="spacingAndGlyphs" text-anchor="middle" stroke="#231f20" stroke-width="0.12" >10kb</text>
<text x="24.20" y="153.60" font-size="8.51" textLength="22.39" lengthAdjust="spacingAndGlyphs" text-anchor="middle" stroke="#231f20" stroke-width="0.12" transform="rotate(-90 24.20 153.60)" >Genes</text>
<rect x="109.60" y="43.80" width="3.90" height="217.40" fill="url(#cb1)" stroke="#333" stroke-width="0.9" />
<line x1="113.50" y1="66.79" x2="116.40" y2="66.79" stroke="#231f20" stroke-width="1.0" />
<text x="118.90" y="69.79" font-size="9.41" textLength="4.67" lengthAdjust="spacingAndGlyphs" stroke="#231f20" stroke-width="0.12" >2</text>
<line x1="113.50" y1="119.05" x2="116.40" y2="119.05" stroke="#231f20" stroke-width="1.0" />
<text x="118.90" y="122.05" font-size="9.41" textLength="4.67" lengthAdjust="spacingAndGlyphs" stroke="#231f20" stroke-width="0.12" >1</text>
<line x1="113.50" y1="171.31" x2="116.40" y2="171.31" stroke="#231f20" stroke-width="1.0" />
<text x="118.90" y="174.31" font-size="9.41" textLength="4.67" lengthAdjust="spacingAndGlyphs" stroke="#231f20" stroke-width="0.12" >0</text>
<line x1="113.50" y1="223.57" x2="116.40" y2="223.57" stroke="#231f20" stroke-width="1.0" />
<text x="118.90" y="226.57" font-size="9.41" textLength="9.58" lengthAdjust="spacingAndGlyphs" stroke="#231f20" stroke-width="0.12" >−1</text>
<rect x="218.80" y="43.80" width="3.90" height="217.40" fill="url(#cb2)" stroke="#333" stroke-width="0.9" />
<line x1="222.70" y1="52.33" x2="225.60" y2="52.33" stroke="#231f20" stroke-width="1.0" />
<text x="228.10" y="55.33" font-size="9.41" textLength="4.67" lengthAdjust="spacingAndGlyphs" stroke="#231f20" stroke-width="0.12" >3</text>
<line x1="222.70" y1="92.97" x2="225.60" y2="92.97" stroke="#231f20" stroke-width="1.0" />
<text x="228.10" y="95.97" font-size="9.41" textLength="4.67" lengthAdjust="spacingAndGlyphs" stroke="#231f20" stroke-width="0.12" >2</text>
<line x1="222.70" y1="133.60" x2="225.60" y2="133.60" stroke="#231f20" stroke-width="1.0" />
<text x="228.10" y="136.60" font-size="9.41" textLength="4.67" lengthAdjust="spacingAndGlyphs" stroke="#231f20" stroke-width="0.12" >1</text>
<line x1="222.70" y1="174.24" x2="225.60" y2="174.24" stroke="#231f20" stroke-width="1.0" />
<text x="228.10" y="177.24" font-size="9.41" textLength="4.67" lengthAdjust="spacingAndGlyphs" stroke="#231f20" stroke-width="0.12" >0</text>
<line x1="222.70" y1="214.88" x2="225.60" y2="214.88" stroke="#231f20" stroke-width="1.0" />
<text x="228.10" y="217.88" font-size="9.41" textLength="9.58" lengthAdjust="spacingAndGlyphs" stroke="#231f20" stroke-width="0.12" >−1</text>
<line x1="222.70" y1="255.51" x2="225.60" y2="255.51" stroke="#231f20" stroke-width="1.0" />
<text x="228.10" y="258.51" font-size="9.41" textLength="9.58" lengthAdjust="spacingAndGlyphs" stroke="#231f20" stroke-width="0.12" >−2</text>
<rect x="333.60" y="43.80" width="3.70" height="218.00" fill="url(#cb3)" stroke="#333" stroke-width="0.9" />
<line x1="337.30" y1="54.87" x2="340.20" y2="54.87" stroke="#231f20" stroke-width="1.0" />
<text x="342.70" y="57.87" font-size="9.41" textLength="4.67" lengthAdjust="spacingAndGlyphs" stroke="#231f20" stroke-width="0.12" >2</text>
<line x1="337.30" y1="110.20" x2="340.20" y2="110.20" stroke="#231f20" stroke-width="1.0" />
<text x="342.70" y="113.20" font-size="9.41" textLength="4.67" lengthAdjust="spacingAndGlyphs" stroke="#231f20" stroke-width="0.12" >1</text>
<line x1="337.30" y1="165.53" x2="340.20" y2="165.53" stroke="#231f20" stroke-width="1.0" />
<text x="342.70" y="168.53" font-size="9.41" textLength="4.67" lengthAdjust="spacingAndGlyphs" stroke="#231f20" stroke-width="0.12" >0</text>
<line x1="337.30" y1="220.86" x2="340.20" y2="220.86" stroke="#231f20" stroke-width="1.0" />
<text x="342.70" y="223.86" font-size="9.41" textLength="9.58" lengthAdjust="spacingAndGlyphs" stroke="#231f20" stroke-width="0.12" >−1</text>
<text x="375.70" y="17.90" font-size="10.50" font-weight="bold" fill="#000" stroke="#000" stroke-width="0.55" >B</text>
<text x="407.50" y="28.00" font-size="8.96" textLength="97.85" lengthAdjust="spacingAndGlyphs" stroke="#231f20" stroke-width="0.12" >H3K27ac defined Enhancer</text>
<rect x="413.60" y="32.70" width="85.80" height="41.70" fill="none" stroke="#111" stroke-width="1.15" />
<line x1="410.60" y1="39.50" x2="413.60" y2="39.50" stroke="#231f20" stroke-width="0.9" />
<text x="408.30" y="42.20" font-size="8.40" textLength="10.43" lengthAdjust="spacingAndGlyphs" text-anchor="end" stroke="#231f20" stroke-width="0.12" >1.0</text>
<line x1="410.60" y1="53.46" x2="413.60" y2="53.46" stroke="#231f20" stroke-width="0.9" />
<text x="408.30" y="56.16" font-size="8.40" textLength="10.43" lengthAdjust="spacingAndGlyphs" text-anchor="end" stroke="#231f20" stroke-width="0.12" >0.6</text>
<line x1="410.60" y1="67.42" x2="413.60" y2="67.42" stroke="#231f20" stroke-width="0.9" />
<text x="408.30" y="70.12" font-size="8.40" textLength="10.43" lengthAdjust="spacingAndGlyphs" text-anchor="end" stroke="#231f20" stroke-width="0.12" >0.2</text>
<line x1="413.60" y1="74.40" x2="413.60" y2="77.20" stroke="#231f20" stroke-width="0.9" />
<line x1="456.50" y1="74.40" x2="456.50" y2="77.20" stroke="#231f20" stroke-width="0.9" />
<line x1="499.40" y1="74.40" x2="499.40" y2="77.20" stroke="#231f20" stroke-width="0.9" />
<text x="413.60" y="87.30" font-size="8.18" textLength="19.48" lengthAdjust="spacingAndGlyphs" text-anchor="middle" stroke="#231f20" stroke-width="0.12" >-10Kb</text>
<text x="456.50" y="87.30" font-size="8.18" textLength="4.06" lengthAdjust="spacingAndGlyphs" text-anchor="middle" stroke="#231f20" stroke-width="0.12" >0</text>
<text x="500.40" y="87.30" font-size="8.18" textLength="21.31" lengthAdjust="spacingAndGlyphs" text-anchor="middle" stroke="#231f20" stroke-width="0.12" >+10Kb</text>
<text x="417.20" y="41.90" font-size="8.51" textLength="31.26" lengthAdjust="spacingAndGlyphs" stroke="#231f20" stroke-width="0.12" >H3K27ac</text>
<polyline points="413.70,71.07 414.20,70.57 414.71,71.02 415.21,71.05 415.72,71.41 416.22,70.94 416.73,70.08 417.23,70.48 417.74,70.07 418.24,70.53 418.75,70.40 419.25,70.50 419.76,71.63 420.26,70.01 420.77,70.19 421.27,70.15 421.78,71.49 422.28,71.48 422.78,70.91 423.29,70.60 423.79,70.08 424.30,70.26 424.80,69.87 425.31,70.56 425.81,69.93 426.32,69.84 426.82,70.47 427.33,68.94 427.83,69.64 428.34,69.22 428.84,70.33 429.35,70.38 429.85,70.11 430.36,69.95 430.86,69.47 431.36,69.67 431.87,70.06 432.37,70.32 432.88,69.99 433.38,68.83 433.89,70.03 434.39,69.29 434.90,69.09 435.40,70.21 435.91,69.15 436.41,68.27 436.92,70.27 437.42,69.13 437.93,68.91 438.43,69.28 438.94,68.38 439.44,68.67 439.94,69.49 440.45,68.00 440.95,68.06 441.46,67.83 441.96,67.44 442.47,68.02 442.97,68.07 443.48,68.83 443.98,67.49 444.49,68.12 444.99,67.86 445.50,68.22 446.00,67.88 446.51,67.45 447.01,66.16 447.52,68.11 448.02,67.62 448.52,66.44 449.03,65.59 449.53,66.05 450.04,67.46 450.54,67.44 451.05,65.08 451.55,65.11 452.06,64.65 452.56,62.64 453.07,61.95 453.57,62.05 454.08,61.61 454.58,60.48 455.09,58.27 455.59,57.22 456.10,55.83 456.60,54.86 457.10,57.15 457.61,56.81 458.11,58.67 458.62,60.42 459.12,63.01 459.63,62.55 460.13,62.11 460.64,64.40 461.14,64.06 461.65,64.01 462.15,66.13 462.66,64.85 463.16,65.92 463.67,66.51 464.17,66.29 464.68,66.19 465.18,66.63 465.68,66.11 466.19,67.39 466.69,67.38 467.20,66.61 467.70,67.41 468.21,68.13 468.71,67.14 469.22,66.96 469.72,68.29 470.23,69.01 470.73,68.34 471.24,68.44 471.74,68.61 472.25,67.60 472.75,69.17 473.26,67.78 473.76,69.43 474.26,69.19 474.77,68.37 475.27,68.13 475.78,68.38 476.28,68.79 476.79,69.01 477.29,69.09 477.80,68.91 478.30,69.47 478.81,69.27 479.31,69.16 479.82,69.59 480.32,69.18 480.83,69.37 481.33,68.52 481.84,69.62 482.34,70.13 482.84,70.11 483.35,69.91 483.85,69.34 484.36,70.15 484.86,69.73 485.37,68.84 485.87,71.63 486.38,70.76 486.88,69.93 487.39,69.87 487.89,70.01 488.40,70.46 488.90,69.82 489.41,70.09 489.91,70.64 490.42,68.82 490.92,70.16 491.42,70.77 491.93,70.53 492.43,70.65 492.94,70.58 493.44,72.29 493.95,70.92 494.45,70.02 494.96,71.42 495.46,70.76 495.97,70.15 496.47,70.24 496.98,69.87 497.48,71.90 497.99,71.08 498.49,71.09 499.00,70.50" fill="none" stroke="#3d64a8" stroke-width="1.05" stroke-linejoin="round"/>
<polyline points="413.70,72.73 414.20,71.10 414.71,72.11 415.21,71.15 415.72,72.00 416.22,71.22 416.73,70.71 417.23,71.19 417.74,70.95 418.24,70.60 418.75,70.77 419.25,70.77 419.76,69.98 420.26,70.07 420.77,70.51 421.27,69.12 421.78,70.64 422.28,69.65 422.78,70.03 423.29,69.75 423.79,69.39 424.30,69.48 424.80,69.19 425.31,69.99 425.81,69.87 426.32,68.88 426.82,69.44 427.33,69.38 427.83,69.48 428.34,68.25 428.84,68.39 429.35,68.02 429.85,68.97 430.36,68.52 430.86,68.94 431.36,68.07 431.87,67.63 432.37,68.55 432.88,67.39 433.38,67.48 433.89,67.81 434.39,68.39 434.90,66.81 435.40,67.27 435.91,67.31 436.41,66.74 436.92,66.59 437.42,66.00 437.93,66.95 438.43,65.95 438.94,65.72 439.44,65.61 439.94,66.15 440.45,66.20 440.95,65.25 441.46,65.40 441.96,65.16 442.47,64.37 442.97,64.83 443.48,65.44 443.98,64.41 444.49,64.82 444.99,63.52 445.50,63.58 446.00,63.85 446.51,63.35 447.01,62.63 447.52,62.47 448.02,61.41 448.52,61.41 449.03,60.34 449.53,59.58 450.04,59.00 450.54,59.50 451.05,58.50 451.55,59.20 452.06,57.65 452.56,56.44 453.07,53.74 453.57,53.56 454.08,49.43 454.58,45.50 455.09,42.79 455.59,38.90 456.10,36.77 456.60,34.91 457.10,36.85 457.61,38.43 458.11,42.36 458.62,45.50 459.12,49.95 459.63,53.27 460.13,53.74 460.64,56.30 461.14,57.45 461.65,57.99 462.15,58.53 462.66,59.22 463.16,59.33 463.67,60.13 464.17,61.27 464.68,62.03 465.18,62.23 465.68,62.12 466.19,63.21 466.69,63.73 467.20,63.92 467.70,64.36 468.21,63.92 468.71,64.54 469.22,64.10 469.72,65.47 470.23,64.58 470.73,65.23 471.24,66.03 471.74,65.15 472.25,65.79 472.75,66.82 473.26,66.44 473.76,66.10 474.26,66.54 474.77,66.10 475.27,66.21 475.78,66.35 476.28,66.62 476.79,66.35 477.29,66.78 477.80,67.04 478.30,68.27 478.81,67.19 479.31,67.19 479.82,68.02 480.32,68.24 480.83,67.36 481.33,69.03 481.84,68.19 482.34,67.45 482.84,68.91 483.35,68.28 483.85,67.85 484.36,68.76 484.86,68.55 485.37,68.48 485.87,69.33 486.38,69.08 486.88,69.02 487.39,68.90 487.89,69.36 488.40,69.54 488.90,69.99 489.41,69.83 489.91,69.43 490.42,69.88 490.92,70.39 491.42,70.51 491.93,69.16 492.43,69.91 492.94,70.24 493.44,71.70 493.95,70.47 494.45,70.63 494.96,70.23 495.46,70.85 495.97,71.15 496.47,70.99 496.98,72.11 497.48,70.94 497.99,71.30 498.49,71.80 499.00,71.00" fill="none" stroke="#c4284c" stroke-width="1.05" stroke-linejoin="round"/>
<line x1="476.50" y1="37.50" x2="484.20" y2="37.50" stroke="#c4284c" stroke-width="1" />
<line x1="476.50" y1="46.10" x2="484.20" y2="46.10" stroke="#3d64a8" stroke-width="1" />
<text x="487.30" y="39.80" font-size="6.83" textLength="9.48" lengthAdjust="spacingAndGlyphs" stroke="#231f20" stroke-width="0.12" >WT</text>
<text x="487.30" y="48.40" font-size="6.83" textLength="8.81" lengthAdjust="spacingAndGlyphs" stroke="#231f20" stroke-width="0.12" >KO</text>
<rect x="413.60" y="99.30" width="85.80" height="41.50" fill="none" stroke="#111" stroke-width="1.15" />
<line x1="410.60" y1="100.10" x2="413.60" y2="100.10" stroke="#231f20" stroke-width="0.9" />
<text x="408.30" y="102.80" font-size="8.40" textLength="10.43" lengthAdjust="spacingAndGlyphs" text-anchor="end" stroke="#231f20" stroke-width="0.12" >1.0</text>
<line x1="410.60" y1="116.74" x2="413.60" y2="116.74" stroke="#231f20" stroke-width="0.9" />
<text x="408.30" y="119.44" font-size="8.40" textLength="10.43" lengthAdjust="spacingAndGlyphs" text-anchor="end" stroke="#231f20" stroke-width="0.12" >0.6</text>
<line x1="410.60" y1="133.38" x2="413.60" y2="133.38" stroke="#231f20" stroke-width="0.9" />
<text x="408.30" y="136.08" font-size="8.40" textLength="10.43" lengthAdjust="spacingAndGlyphs" text-anchor="end" stroke="#231f20" stroke-width="0.12" >0.2</text>
<line x1="413.60" y1="140.80" x2="413.60" y2="143.60" stroke="#231f20" stroke-width="0.9" />
<line x1="456.50" y1="140.80" x2="456.50" y2="143.60" stroke="#231f20" stroke-width="0.9" />
<line x1="499.40" y1="140.80" x2="499.40" y2="143.60" stroke="#231f20" stroke-width="0.9" />
<text x="413.60" y="154.20" font-size="8.18" textLength="19.48" lengthAdjust="spacingAndGlyphs" text-anchor="middle" stroke="#231f20" stroke-width="0.12" >-10Kb</text>
<text x="456.50" y="154.20" font-size="8.18" textLength="4.06" lengthAdjust="spacingAndGlyphs" text-anchor="middle" stroke="#231f20" stroke-width="0.12" >0</text>
<text x="500.40" y="154.20" font-size="8.18" textLength="21.31" lengthAdjust="spacingAndGlyphs" text-anchor="middle" stroke="#231f20" stroke-width="0.12" >+10Kb</text>
<text x="417.20" y="108.50" font-size="8.51" textLength="27.04" lengthAdjust="spacingAndGlyphs" stroke="#231f20" stroke-width="0.12" >H4K8ac</text>
<polyline points="413.70,138.86 414.20,138.47 414.71,137.96 415.21,137.97 415.72,138.22 416.22,138.46 416.73,136.87 417.23,137.36 417.74,138.42 418.24,138.43 418.75,136.85 419.25,137.15 419.76,136.67 420.26,137.10 420.77,137.87 421.27,137.24 421.78,138.38 422.28,137.60 422.78,137.19 423.29,136.83 423.79,137.38 424.30,137.01 424.80,136.65 425.31,136.63 425.81,136.43 426.32,136.59 426.82,136.80 427.33,136.19 427.83,136.50 428.34,136.89 428.84,136.75 429.35,136.39 429.85,136.41 430.36,136.24 430.86,136.29 431.36,136.14 431.87,136.21 432.37,136.68 432.88,135.74 433.38,135.31 433.89,135.49 434.39,135.67 434.90,135.21 435.40,135.77 435.91,136.08 436.41,134.96 436.92,135.30 437.42,134.32 437.93,135.09 438.43,135.72 438.94,134.80 439.44,133.38 439.94,134.25 440.45,134.65 440.95,134.26 441.46,133.55 441.96,133.44 442.47,133.40 442.97,132.51 443.48,132.62 443.98,132.68 444.49,132.04 444.99,131.18 445.50,131.19 446.00,130.85 446.51,131.62 447.01,130.90 447.52,130.26 448.02,130.62 448.52,129.43 449.03,128.94 449.53,127.90 450.04,127.49 450.54,125.16 451.05,124.97 451.55,125.05 452.06,124.29 452.56,121.64 453.07,121.27 453.57,118.96 454.08,117.87 454.58,117.62 455.09,117.13 455.59,115.26 456.10,114.13 456.60,113.06 457.10,113.92 457.61,115.34 458.11,116.12 458.62,117.35 459.12,118.25 459.63,119.37 460.13,121.22 460.64,122.60 461.14,124.86 461.65,125.26 462.15,125.59 462.66,127.16 463.16,127.60 463.67,129.36 464.17,129.58 464.68,129.68 465.18,130.19 465.68,130.65 466.19,130.94 466.69,131.78 467.20,130.45 467.70,131.42 468.21,131.46 468.71,132.78 469.22,132.76 469.72,133.88 470.23,132.86 470.73,133.02 471.24,134.63 471.74,133.84 472.25,133.57 472.75,134.84 473.26,134.97 473.76,134.70 474.26,134.60 474.77,135.11 475.27,134.53 475.78,134.57 476.28,134.52 476.79,134.64 477.29,134.39 477.80,134.71 478.30,136.09 478.81,135.83 479.31,136.24 479.82,136.37 480.32,135.99 480.83,136.05 481.33,135.90 481.84,137.02 482.34,136.91 482.84,136.33 483.35,136.45 483.85,136.55 484.36,136.47 484.86,136.86 485.37,136.18 485.87,136.40 486.38,136.68 486.88,137.03 487.39,136.84 487.89,138.18 488.40,137.37 488.90,136.93 489.41,137.77 489.91,136.99 490.42,137.08 490.92,137.92 491.42,137.42 491.93,137.53 492.43,137.21 492.94,137.20 493.44,137.59 493.95,138.06 494.45,137.77 494.96,137.80 495.46,137.45 495.97,137.73 496.47,138.29 496.98,138.65 497.48,138.21 497.99,138.43 498.49,138.66 499.00,138.19" fill="none" stroke="#3d64a8" stroke-width="1.05" stroke-linejoin="round"/>
<polyline points="413.70,132.08 414.20,131.80 414.71,132.18 415.21,130.71 415.72,131.92 416.22,131.09 416.73,131.45 417.23,130.81 417.74,132.41 418.24,131.44 418.75,130.78 419.25,130.44 419.76,129.40 420.26,130.23 420.77,129.57 421.27,129.65 421.78,129.38 422.28,129.42 422.78,129.57 423.29,129.07 423.79,129.70 424.30,128.41 424.80,129.35 425.31,128.57 425.81,127.50 426.32,128.54 426.82,128.30 427.33,127.63 427.83,128.10 428.34,128.43 428.84,127.81 429.35,127.52 429.85,127.31 430.36,127.88 430.86,126.43 431.36,126.26 431.87,126.86 432.37,126.49 432.88,126.58 433.38,125.40 433.89,126.18 434.39,125.20 434.90,125.49 435.40,125.30 435.91,124.30 436.41,123.70 436.92,124.08 437.42,124.13 437.93,123.12 438.43,123.28 438.94,122.85 439.44,122.01 439.94,121.98 440.45,122.60 440.95,121.02 441.46,121.99 441.96,121.46 442.47,122.04 442.97,121.41 443.48,121.84 443.98,119.55 444.49,119.17 444.99,119.81 445.50,119.27 446.00,118.62 446.51,116.52 447.01,116.67 447.52,115.85 448.02,115.42 448.52,114.85 449.03,114.95 449.53,113.98 450.04,113.91 450.54,112.17 451.05,110.76 451.55,109.43 452.06,108.66 452.56,108.10 453.07,106.99 453.57,106.72 454.08,104.86 454.58,104.28 455.09,103.69 455.59,102.91 456.10,102.24 456.60,101.82 457.10,102.06 457.61,102.52 458.11,103.37 458.62,104.38 459.12,104.60 459.63,106.83 460.13,107.07 460.64,106.26 461.14,109.47 461.65,109.93 462.15,110.83 462.66,112.06 463.16,112.99 463.67,114.11 464.17,114.23 464.68,114.76 465.18,114.88 465.68,116.76 466.19,116.88 466.69,117.11 467.20,118.33 467.70,119.04 468.21,118.89 468.71,120.18 469.22,120.13 469.72,120.59 470.23,121.24 470.73,121.46 471.24,121.90 471.74,122.70 472.25,122.18 472.75,122.12 473.26,122.81 473.76,122.82 474.26,122.63 474.77,123.69 475.27,123.20 475.78,122.87 476.28,124.35 476.79,124.29 477.29,124.74 477.80,124.19 478.30,125.09 478.81,125.09 479.31,126.17 479.82,126.11 480.32,126.37 480.83,127.51 481.33,126.15 481.84,126.64 482.34,128.17 482.84,127.12 483.35,127.73 483.85,127.59 484.36,127.76 484.86,128.78 485.37,128.22 485.87,127.46 486.38,128.60 486.88,128.94 487.39,129.24 487.89,129.31 488.40,128.68 488.90,128.15 489.41,128.94 489.91,129.20 490.42,128.38 490.92,129.93 491.42,130.19 491.93,129.77 492.43,129.94 492.94,130.89 493.44,131.15 493.95,130.59 494.45,130.78 494.96,131.72 495.46,131.32 495.97,131.64 496.47,131.28 496.98,131.70 497.48,131.80 497.99,132.05 498.49,131.44 499.00,131.36" fill="none" stroke="#c4284c" stroke-width="1.05" stroke-linejoin="round"/>
<text x="391.30" y="86.70" font-size="8.51" textLength="59.56" lengthAdjust="spacingAndGlyphs" text-anchor="middle" stroke="#231f20" stroke-width="0.12" transform="rotate(-90 391.30 86.70)" >Normalized reads</text>
<text x="374.70" y="169.50" font-size="10.50" font-weight="bold" fill="#000" stroke="#000" stroke-width="0.55" >C</text>
<text x="415.70" y="179.40" font-size="8.96" textLength="82.28" lengthAdjust="spacingAndGlyphs" stroke="#231f20" stroke-width="0.12" >BRD4 bound Enhancer</text>
<rect x="413.60" y="183.90" width="85.80" height="42.30" fill="none" stroke="#111" stroke-width="1.15" />
<line x1="410.60" y1="188.50" x2="413.60" y2="188.50" stroke="#231f20" stroke-width="0.9" />
<text x="408.30" y="191.20" font-size="8.40" textLength="10.43" lengthAdjust="spacingAndGlyphs" text-anchor="end" stroke="#231f20" stroke-width="0.12" >1.0</text>
<line x1="410.60" y1="202.50" x2="413.60" y2="202.50" stroke="#231f20" stroke-width="0.9" />
<text x="408.30" y="205.20" font-size="8.40" textLength="10.43" lengthAdjust="spacingAndGlyphs" text-anchor="end" stroke="#231f20" stroke-width="0.12" >0.6</text>
<line x1="410.60" y1="216.50" x2="413.60" y2="216.50" stroke="#231f20" stroke-width="0.9" />
<text x="408.30" y="219.20" font-size="8.40" textLength="10.43" lengthAdjust="spacingAndGlyphs" text-anchor="end" stroke="#231f20" stroke-width="0.12" >0.2</text>
<line x1="413.60" y1="226.20" x2="413.60" y2="229.00" stroke="#231f20" stroke-width="0.9" />
<line x1="456.50" y1="226.20" x2="456.50" y2="229.00" stroke="#231f20" stroke-width="0.9" />
<line x1="499.40" y1="226.20" x2="499.40" y2="229.00" stroke="#231f20" stroke-width="0.9" />
<text x="413.60" y="239.20" font-size="8.18" textLength="19.48" lengthAdjust="spacingAndGlyphs" text-anchor="middle" stroke="#231f20" stroke-width="0.12" >-10Kb</text>
<text x="456.50" y="239.20" font-size="8.18" textLength="4.06" lengthAdjust="spacingAndGlyphs" text-anchor="middle" stroke="#231f20" stroke-width="0.12" >0</text>
<text x="500.40" y="239.20" font-size="8.18" textLength="21.31" lengthAdjust="spacingAndGlyphs" text-anchor="middle" stroke="#231f20" stroke-width="0.12" >+10Kb</text>
<text x="417.20" y="193.10" font-size="8.51" textLength="31.26" lengthAdjust="spacingAndGlyphs" stroke="#231f20" stroke-width="0.12" >H3K27ac</text>
<polyline points="413.70,222.09 414.20,222.74 414.71,222.37 415.21,222.06 415.72,221.70 416.22,222.46 416.73,222.29 417.23,222.14 417.74,222.81 418.24,222.12 418.75,222.36 419.25,221.87 419.76,222.45 420.26,222.75 420.77,221.85 421.27,221.70 421.78,221.99 422.28,221.33 422.78,221.76 423.29,221.85 423.79,221.34 424.30,222.14 424.80,221.72 425.31,221.39 425.81,220.98 426.32,221.36 426.82,221.12 427.33,221.49 427.83,221.05 428.34,220.44 428.84,221.40 429.35,220.09 429.85,221.33 430.36,221.01 430.86,220.90 431.36,220.49 431.87,221.37 432.37,221.66 432.88,220.45 433.38,220.29 433.89,220.28 434.39,219.34 434.90,220.26 435.40,220.14 435.91,219.76 436.41,219.89 436.92,219.25 437.42,220.36 437.93,219.90 438.43,221.09 438.94,219.21 439.44,219.61 439.94,218.98 440.45,218.39 440.95,219.22 441.46,219.25 441.96,219.29 442.47,219.38 442.97,219.24 443.48,218.64 443.98,218.77 444.49,218.59 444.99,218.49 445.50,217.81 446.00,217.74 446.51,217.76 447.01,217.17 447.52,217.27 448.02,217.47 448.52,216.19 449.03,216.44 449.53,216.92 450.04,215.54 450.54,214.93 451.05,214.82 451.55,212.87 452.06,212.14 452.56,210.28 453.07,209.44 453.57,208.79 454.08,208.17 454.58,206.01 455.09,205.83 455.59,205.31 456.10,204.27 456.60,203.87 457.10,204.13 457.61,205.34 458.11,205.86 458.62,207.31 459.12,207.70 459.63,208.44 460.13,208.96 460.64,210.81 461.14,212.33 461.65,212.89 462.15,214.30 462.66,214.76 463.16,215.29 463.67,216.50 464.17,216.12 464.68,217.10 465.18,216.90 465.68,217.24 466.19,217.40 466.69,217.22 467.20,216.95 467.70,218.47 468.21,218.66 468.71,218.41 469.22,219.23 469.72,218.70 470.23,218.74 470.73,219.14 471.24,218.86 471.74,219.80 472.25,218.89 472.75,219.94 473.26,219.66 473.76,219.69 474.26,219.72 474.77,219.28 475.27,219.71 475.78,220.01 476.28,219.72 476.79,219.38 477.29,220.15 477.80,220.10 478.30,219.83 478.81,220.33 479.31,221.08 479.82,219.58 480.32,219.78 480.83,221.62 481.33,220.87 481.84,220.74 482.34,220.57 482.84,220.74 483.35,221.17 483.85,221.52 484.36,221.07 484.86,220.71 485.37,221.63 485.87,221.64 486.38,221.26 486.88,222.11 487.39,221.45 487.89,221.57 488.40,221.25 488.90,221.78 489.41,221.91 489.91,221.76 490.42,221.67 490.92,221.98 491.42,221.75 491.93,221.50 492.43,221.37 492.94,221.21 493.44,222.31 493.95,222.21 494.45,223.12 494.96,221.33 495.46,222.48 495.97,222.23 496.47,222.04 496.98,222.87 497.48,222.14 497.99,222.38 498.49,223.17 499.00,222.30" fill="none" stroke="#3d64a8" stroke-width="1.05" stroke-linejoin="round"/>
<polyline points="413.70,213.43 414.20,212.25 414.71,212.44 415.21,212.25 415.72,212.18 416.22,211.73 416.73,212.27 417.23,211.71 417.74,212.14 418.24,211.54 418.75,212.07 419.25,211.64 419.76,210.74 420.26,211.15 420.77,211.26 421.27,211.54 421.78,211.25 422.28,210.70 422.78,210.25 423.29,210.33 423.79,210.15 424.30,210.26 424.80,209.54 425.31,210.15 425.81,210.10 426.32,209.38 426.82,209.62 427.33,209.67 427.83,209.70 428.34,209.48 428.84,209.03 429.35,209.08 429.85,209.67 430.36,208.92 430.86,208.93 431.36,209.32 431.87,208.46 432.37,208.78 432.88,208.66 433.38,208.04 433.89,207.65 434.39,208.33 434.90,207.68 435.40,208.05 435.91,206.53 436.41,207.52 436.92,206.62 437.42,207.21 437.93,206.41 438.43,205.64 438.94,207.47 439.44,206.41 439.94,205.86 440.45,205.96 440.95,206.06 441.46,204.75 441.96,205.51 442.47,206.13 442.97,204.99 443.48,205.98 443.98,204.60 444.49,205.11 444.99,204.55 445.50,203.80 446.00,203.96 446.51,204.28 447.01,204.08 447.52,202.57 448.02,202.47 448.52,202.87 449.03,201.97 449.53,201.96 450.04,201.18 450.54,201.14 451.05,199.07 451.55,197.72 452.06,196.10 452.56,193.87 453.07,193.76 453.57,191.62 454.08,189.92 454.58,187.62 455.09,188.39 455.59,187.47 456.10,186.55 456.60,185.68 457.10,186.75 457.61,186.85 458.11,188.32 458.62,188.58 459.12,190.34 459.63,191.63 460.13,193.02 460.64,194.91 461.14,195.95 461.65,197.97 462.15,199.17 462.66,200.10 463.16,201.04 463.67,202.58 464.17,202.37 464.68,202.31 465.18,202.56 465.68,203.20 466.19,204.26 466.69,203.17 467.20,203.88 467.70,204.32 468.21,204.73 468.71,204.76 469.22,205.26 469.72,205.68 470.23,205.66 470.73,205.69 471.24,205.80 471.74,206.14 472.25,205.52 472.75,206.47 473.26,205.80 473.76,206.66 474.26,206.25 474.77,206.00 475.27,206.67 475.78,207.25 476.28,207.11 476.79,207.25 477.29,208.23 477.80,207.94 478.30,207.80 478.81,208.24 479.31,208.18 479.82,208.06 480.32,208.20 480.83,208.28 481.33,208.54 481.84,209.02 482.34,209.01 482.84,209.21 483.35,209.30 483.85,209.30 484.36,210.02 484.86,209.51 485.37,209.47 485.87,209.96 486.38,209.66 486.88,209.54 487.39,209.94 487.89,209.12 488.40,211.21 488.90,210.33 489.41,211.14 489.91,210.09 490.42,209.53 490.92,211.83 491.42,210.87 491.93,210.84 492.43,211.33 492.94,211.10 493.44,212.41 493.95,211.24 494.45,211.57 494.96,211.84 495.46,212.21 495.97,211.81 496.47,212.38 496.98,212.18 497.48,212.58 497.99,213.39 498.49,212.54 499.00,212.51" fill="none" stroke="#c4284c" stroke-width="1.05" stroke-linejoin="round"/>
<rect x="413.60" y="247.00" width="85.80" height="43.30" fill="none" stroke="#111" stroke-width="1.15" />
<line x1="410.60" y1="257.40" x2="413.60" y2="257.40" stroke="#231f20" stroke-width="0.9" />
<text x="408.30" y="260.10" font-size="8.40" textLength="10.43" lengthAdjust="spacingAndGlyphs" text-anchor="end" stroke="#231f20" stroke-width="0.12" >0.8</text>
<line x1="410.60" y1="277.20" x2="413.60" y2="277.20" stroke="#231f20" stroke-width="0.9" />
<text x="408.30" y="279.90" font-size="8.40" textLength="10.43" lengthAdjust="spacingAndGlyphs" text-anchor="end" stroke="#231f20" stroke-width="0.12" >0.4</text>
<line x1="413.60" y1="290.30" x2="413.60" y2="293.10" stroke="#231f20" stroke-width="0.9" />
<line x1="456.50" y1="290.30" x2="456.50" y2="293.10" stroke="#231f20" stroke-width="0.9" />
<line x1="499.40" y1="290.30" x2="499.40" y2="293.10" stroke="#231f20" stroke-width="0.9" />
<text x="413.60" y="303.20" font-size="8.18" textLength="19.48" lengthAdjust="spacingAndGlyphs" text-anchor="middle" stroke="#231f20" stroke-width="0.12" >-10Kb</text>
<text x="456.50" y="303.20" font-size="8.18" textLength="4.06" lengthAdjust="spacingAndGlyphs" text-anchor="middle" stroke="#231f20" stroke-width="0.12" >0</text>
<text x="500.40" y="303.20" font-size="8.18" textLength="21.31" lengthAdjust="spacingAndGlyphs" text-anchor="middle" stroke="#231f20" stroke-width="0.12" >+10Kb</text>
<text x="417.20" y="256.20" font-size="8.51" textLength="27.04" lengthAdjust="spacingAndGlyphs" stroke="#231f20" stroke-width="0.12" >H4K8ac</text>
<polyline points="413.70,286.88 414.20,286.35 414.71,285.93 415.21,286.17 415.72,285.48 416.22,284.99 416.73,286.66 417.23,287.21 417.74,285.51 418.24,285.05 418.75,285.35 419.25,285.35 419.76,286.14 420.26,286.13 420.77,285.11 421.27,286.11 421.78,286.58 422.28,286.03 422.78,283.88 423.29,284.15 423.79,285.64 424.30,285.60 424.80,284.96 425.31,285.48 425.81,284.20 426.32,284.97 426.82,285.52 427.33,284.05 427.83,285.12 428.34,284.60 428.84,284.70 429.35,284.85 429.85,284.44 430.36,284.99 430.86,285.61 431.36,285.74 431.87,285.09 432.37,284.69 432.88,284.14 433.38,283.98 433.89,283.55 434.39,283.68 434.90,284.08 435.40,283.89 435.91,284.58 436.41,283.28 436.92,282.74 437.42,282.57 437.93,282.81 438.43,282.70 438.94,281.91 439.44,282.33 439.94,281.77 440.45,281.75 440.95,281.87 441.46,281.12 441.96,282.15 442.47,281.95 442.97,282.15 443.48,281.98 443.98,280.35 444.49,279.93 444.99,280.61 445.50,279.90 446.00,279.14 446.51,278.94 447.01,278.30 447.52,279.39 448.02,278.69 448.52,277.75 449.03,276.94 449.53,277.32 450.04,276.95 450.54,275.41 451.05,274.14 451.55,272.69 452.06,269.76 452.56,269.64 453.07,268.12 453.57,266.05 454.08,266.39 454.58,266.56 455.09,266.73 455.59,265.73 456.10,264.68 456.60,265.05 457.10,264.89 457.61,265.92 458.11,266.06 458.62,266.88 459.12,266.84 459.63,266.56 460.13,268.99 460.64,269.30 461.14,270.51 461.65,272.52 462.15,273.93 462.66,274.73 463.16,275.26 463.67,277.01 464.17,277.60 464.68,278.94 465.18,277.16 465.68,278.60 466.19,279.04 466.69,280.09 467.20,279.87 467.70,280.89 468.21,280.58 468.71,280.69 469.22,281.25 469.72,281.35 470.23,282.17 470.73,280.88 471.24,282.20 471.74,282.98 472.25,282.10 472.75,282.55 473.26,282.81 473.76,282.55 474.26,282.29 474.77,283.30 475.27,282.82 475.78,282.04 476.28,282.63 476.79,283.27 477.29,283.25 477.80,283.54 478.30,283.64 478.81,283.32 479.31,283.94 479.82,285.44 480.32,284.14 480.83,284.77 481.33,283.95 481.84,284.79 482.34,284.42 482.84,283.29 483.35,285.26 483.85,285.33 484.36,285.54 484.86,286.16 485.37,285.89 485.87,284.61 486.38,285.25 486.88,286.04 487.39,285.86 487.89,284.67 488.40,285.56 488.90,285.38 489.41,285.03 489.91,284.49 490.42,284.21 490.92,284.82 491.42,285.42 491.93,285.46 492.43,284.57 492.94,284.86 493.44,285.96 493.95,285.57 494.45,285.73 494.96,285.93 495.46,286.32 495.97,286.86 496.47,286.44 496.98,287.09 497.48,285.49 497.99,285.94 498.49,287.01 499.00,285.50" fill="none" stroke="#3d64a8" stroke-width="1.05" stroke-linejoin="round"/>
<polyline points="413.70,272.89 414.20,270.59 414.71,271.12 415.21,270.29 415.72,272.15 416.22,270.99 416.73,270.94 417.23,270.94 417.74,270.83 418.24,270.17 418.75,271.53 419.25,271.23 419.76,271.16 420.26,270.50 420.77,270.37 421.27,269.63 421.78,269.52 422.28,269.49 422.78,269.74 423.29,269.44 423.79,268.45 424.30,268.40 424.80,268.64 425.31,268.75 425.81,267.49 426.32,268.63 426.82,267.76 427.33,267.34 427.83,268.08 428.34,267.33 428.84,268.39 429.35,267.04 429.85,267.45 430.36,268.41 430.86,266.93 431.36,267.71 431.87,266.25 432.37,267.22 432.88,266.71 433.38,266.22 433.89,266.36 434.39,265.76 434.90,265.98 435.40,264.98 435.91,265.11 436.41,264.70 436.92,266.18 437.42,263.57 437.93,263.96 438.43,264.76 438.94,263.37 439.44,262.89 439.94,262.27 440.45,263.31 440.95,261.52 441.46,262.31 441.96,260.60 442.47,261.92 442.97,261.27 443.48,261.74 443.98,262.06 444.49,260.51 444.99,260.24 445.50,259.38 446.00,259.22 446.51,259.44 447.01,259.41 447.52,258.11 448.02,257.43 448.52,256.85 449.03,255.39 449.53,254.99 450.04,254.88 450.54,254.24 451.05,254.10 451.55,253.36 452.06,252.34 452.56,251.48 453.07,251.82 453.57,251.87 454.08,249.98 454.58,250.54 455.09,249.70 455.59,251.07 456.10,250.07 456.60,249.71 457.10,250.73 457.61,250.40 458.11,249.92 458.62,249.97 459.12,249.88 459.63,251.49 460.13,252.24 460.64,251.74 461.14,252.23 461.65,253.37 462.15,254.79 462.66,253.87 463.16,254.24 463.67,254.86 464.17,256.03 464.68,256.18 465.18,256.56 465.68,258.06 466.19,259.52 466.69,258.90 467.20,259.44 467.70,260.28 468.21,260.25 468.71,261.51 469.22,261.45 469.72,261.71 470.23,261.33 470.73,260.89 471.24,262.17 471.74,261.00 472.25,261.53 472.75,262.20 473.26,262.56 473.76,262.11 474.26,263.54 474.77,263.77 475.27,264.61 475.78,263.98 476.28,263.75 476.79,264.51 477.29,264.86 477.80,265.50 478.30,265.55 478.81,266.76 479.31,265.53 479.82,266.64 480.32,267.27 480.83,267.27 481.33,267.50 481.84,266.67 482.34,266.70 482.84,268.27 483.35,267.02 483.85,267.11 484.36,268.07 484.86,268.70 485.37,268.36 485.87,268.41 486.38,267.95 486.88,268.49 487.39,269.62 487.89,268.42 488.40,269.61 488.90,268.32 489.41,269.73 489.91,269.59 490.42,269.85 490.92,269.83 491.42,268.91 491.93,269.34 492.43,269.65 492.94,269.98 493.44,271.25 493.95,270.80 494.45,270.97 494.96,271.37 495.46,270.63 495.97,271.50 496.47,271.61 496.98,271.93 497.48,272.64 497.99,271.16 498.49,270.81 499.00,271.58" fill="none" stroke="#c4284c" stroke-width="1.05" stroke-linejoin="round"/>
<text x="391.60" y="236.60" font-size="8.51" textLength="59.56" lengthAdjust="spacingAndGlyphs" text-anchor="middle" stroke="#231f20" stroke-width="0.12" transform="rotate(-90 391.60 236.60)" >Normalized reads</text>
<text x="8.60" y="298.90" font-size="10.50" font-weight="bold" fill="#000" stroke="#000" stroke-width="0.55" >D</text>
<text x="148.20" y="309.80" font-size="8.90" textLength="60.55" lengthAdjust="spacingAndGlyphs" text-anchor="middle" stroke="#231f20" stroke-width="0.12" >Super enhancers</text>
<line x1="131.50" y1="342.40" x2="131.50" y2="351.09" stroke="#c42a5a" stroke-width="0.6" />
<line x1="164.40" y1="342.40" x2="164.40" y2="352.50" stroke="#c42a5a" stroke-width="0.6" />
<line x1="181.70" y1="342.40" x2="181.70" y2="353.45" stroke="#c42a5a" stroke-width="0.6" />
<line x1="183.10" y1="342.40" x2="183.10" y2="353.51" stroke="#c42a5a" stroke-width="0.6" />
<line x1="184.20" y1="342.40" x2="184.20" y2="353.56" stroke="#c42a5a" stroke-width="0.6" />
<line x1="201.50" y1="342.40" x2="201.50" y2="354.20" stroke="#c42a5a" stroke-width="0.6" />
<line x1="211.50" y1="342.40" x2="211.50" y2="354.80" stroke="#c42a5a" stroke-width="0.6" />
<line x1="233.30" y1="342.40" x2="233.30" y2="356.85" stroke="#c42a5a" stroke-width="0.6" />
<line x1="234.60" y1="342.40" x2="234.60" y2="357.23" stroke="#c42a5a" stroke-width="0.6" />
<line x1="236.00" y1="342.40" x2="236.00" y2="357.75" stroke="#c42a5a" stroke-width="0.6" />
<line x1="238.10" y1="342.40" x2="238.10" y2="358.90" stroke="#c42a5a" stroke-width="0.6" />
<line x1="239.40" y1="342.40" x2="239.40" y2="360.20" stroke="#c42a5a" stroke-width="0.6" />
<line x1="240.80" y1="342.40" x2="240.80" y2="363.10" stroke="#c42a5a" stroke-width="0.6" />
<line x1="55.50" y1="344.00" x2="55.50" y2="371.00" stroke="#777" stroke-width="0.8" />
<rect x="47.60" y="313.80" width="200.70" height="56.60" fill="none" stroke="#222" stroke-width="1.15" />
<line x1="47.60" y1="342.40" x2="248.30" y2="342.40" stroke="#222" stroke-width="0.9" />
<polyline points="55.40,330.20 55.60,334.00 56.00,338.00 56.60,340.80 57.50,342.30 59.60,343.80 64.00,345.50 69.20,346.70 78.80,347.60 88.50,348.60 107.70,349.50 131.70,351.10 150.00,351.90 164.40,352.50 182.70,353.50 201.50,354.20 211.50,354.80 226.90,356.00 233.70,356.90 237.50,358.30 239.40,360.20 240.80,363.10 241.20,364.00" fill="none" stroke="#111" stroke-width="0.9"/>
<line x1="44.80" y1="321.20" x2="47.60" y2="321.20" stroke="#231f20" stroke-width="0.9" />
<text x="42.00" y="323.80" font-size="8.29" textLength="4.12" lengthAdjust="spacingAndGlyphs" text-anchor="end" stroke="#231f20" stroke-width="0.12" >4</text>
<line x1="44.80" y1="331.80" x2="47.60" y2="331.80" stroke="#231f20" stroke-width="0.9" />
<text x="42.00" y="334.40" font-size="8.29" textLength="4.12" lengthAdjust="spacingAndGlyphs" text-anchor="end" stroke="#231f20" stroke-width="0.12" >2</text>
<line x1="44.80" y1="342.40" x2="47.60" y2="342.40" stroke="#231f20" stroke-width="0.9" />
<text x="42.00" y="345.00" font-size="8.29" textLength="4.12" lengthAdjust="spacingAndGlyphs" text-anchor="end" stroke="#231f20" stroke-width="0.12" >0</text>
<line x1="44.80" y1="353.00" x2="47.60" y2="353.00" stroke="#231f20" stroke-width="0.9" />
<text x="42.00" y="355.60" font-size="8.29" textLength="8.44" lengthAdjust="spacingAndGlyphs" text-anchor="end" stroke="#231f20" stroke-width="0.12" >−2</text>
<line x1="44.80" y1="363.60" x2="47.60" y2="363.60" stroke="#231f20" stroke-width="0.9" />
<text x="42.00" y="366.20" font-size="8.29" textLength="8.44" lengthAdjust="spacingAndGlyphs" text-anchor="end" stroke="#231f20" stroke-width="0.12" >−4</text>
<text x="27.4" y="342.3" font-size="8.9" textLength="72.6" lengthAdjust="spacingAndGlyphs" text-anchor="middle" transform="rotate(-90 27.4 342.3)" fill="#231f20" stroke="#231f20" stroke-width="0.12">H3K27ac Log<tspan font-size="6.2" dy="1.9">2</tspan><tspan dy="-1.9"> KO/WT</tspan></text>
<line x1="131.50" y1="351.39" x2="133.80" y2="372.60" stroke="#1a1a1a" stroke-width="0.7" />
<line x1="164.40" y1="352.80" x2="150.90" y2="372.60" stroke="#1a1a1a" stroke-width="0.7" />
<line x1="181.70" y1="353.75" x2="158.70" y2="372.60" stroke="#1a1a1a" stroke-width="0.7" />
<line x1="183.10" y1="353.81" x2="166.80" y2="372.60" stroke="#1a1a1a" stroke-width="0.7" />
<line x1="184.20" y1="353.86" x2="175.60" y2="372.60" stroke="#1a1a1a" stroke-width="0.7" />
<line x1="201.50" y1="354.50" x2="183.90" y2="372.60" stroke="#1a1a1a" stroke-width="0.7" />
<line x1="211.50" y1="355.10" x2="200.30" y2="372.60" stroke="#1a1a1a" stroke-width="0.7" />
<line x1="233.30" y1="357.15" x2="209.00" y2="372.60" stroke="#1a1a1a" stroke-width="0.7" />
<line x1="234.60" y1="357.53" x2="216.30" y2="372.60" stroke="#1a1a1a" stroke-width="0.7" />
<line x1="236.00" y1="358.05" x2="224.80" y2="372.60" stroke="#1a1a1a" stroke-width="0.7" />
<line x1="238.10" y1="359.20" x2="232.30" y2="372.60" stroke="#1a1a1a" stroke-width="0.7" />
<line x1="240.80" y1="363.40" x2="241.60" y2="372.60" stroke="#1a1a1a" stroke-width="0.7" />
<text x="53.80" y="376.00" font-size="7.98" textLength="31.25" lengthAdjust="spacingAndGlyphs" font-style="italic" stroke="#231f20" stroke-width="0.12" transform="rotate(90 53.80 376.00)" >Clec4(-2)</text>
<text x="131.60" y="376.00" font-size="7.98" textLength="39.71" lengthAdjust="spacingAndGlyphs" font-style="italic" stroke="#231f20" stroke-width="0.12" transform="rotate(90 131.60 376.00)" >Hoxa9(565)</text>
<text x="148.70" y="376.00" font-size="7.98" textLength="32.10" lengthAdjust="spacingAndGlyphs" font-style="italic" stroke="#231f20" stroke-width="0.12" transform="rotate(90 148.70 376.00)" >Myb(326)</text>
<text x="156.50" y="376.00" font-size="7.98" textLength="30.41" lengthAdjust="spacingAndGlyphs" font-style="italic" stroke="#231f20" stroke-width="0.12" transform="rotate(90 156.50 376.00)" >Flt3(281)</text>
<text x="164.60" y="376.00" font-size="7.98" textLength="35.48" lengthAdjust="spacingAndGlyphs" font-style="italic" stroke="#231f20" stroke-width="0.12" transform="rotate(90 164.60 376.00)" >Dot1l(273)</text>
<text x="173.40" y="376.00" font-size="7.98" textLength="35.48" lengthAdjust="spacingAndGlyphs" font-style="italic" stroke="#231f20" stroke-width="0.12" transform="rotate(90 173.40 376.00)" >Cdk6(206)</text>
<text x="181.70" y="376.00" font-size="7.98" textLength="29.57" lengthAdjust="spacingAndGlyphs" font-style="italic" stroke="#231f20" stroke-width="0.12" transform="rotate(90 181.70 376.00)" >Erg(150)</text>
<text x="198.10" y="376.00" font-size="7.98" textLength="35.48" lengthAdjust="spacingAndGlyphs" font-style="italic" stroke="#231f20" stroke-width="0.12" transform="rotate(90 198.10 376.00)" >Runx1(41)</text>
<text x="206.80" y="376.00" font-size="7.98" textLength="33.79" lengthAdjust="spacingAndGlyphs" font-style="italic" stroke="#231f20" stroke-width="0.12" transform="rotate(90 206.80 376.00)" >Meis1(43)</text>
<text x="214.10" y="376.00" font-size="7.98" textLength="27.45" lengthAdjust="spacingAndGlyphs" font-style="italic" stroke="#231f20" stroke-width="0.12" transform="rotate(90 214.10 376.00)" >Myc(31)</text>
<text x="222.60" y="376.00" font-size="7.98" textLength="41.40" lengthAdjust="spacingAndGlyphs" font-style="italic" stroke="#231f20" stroke-width="0.12" transform="rotate(90 222.60 376.00)" >Pecam1(14)</text>
<text x="230.10" y="376.00" font-size="7.98" textLength="29.99" lengthAdjust="spacingAndGlyphs" font-style="italic" stroke="#231f20" stroke-width="0.12" transform="rotate(90 230.10 376.00)" >Gata2(9)</text>
<text x="239.40" y="376.00" font-size="7.98" textLength="35.91" lengthAdjust="spacingAndGlyphs" font-style="italic" stroke="#231f20" stroke-width="0.12" transform="rotate(90 239.40 376.00)" >Cbfa2t3(1)</text>
<text x="260.60" y="299.40" font-size="10.50" font-weight="bold" fill="#000" stroke="#000" stroke-width="0.55" >E</text>
<text x="268.50" y="308.90" font-size="8.96" textLength="52.02" lengthAdjust="spacingAndGlyphs" stroke="#231f20" stroke-width="0.12" >H3K9ac motifs</text>
<line x1="268.20" y1="313.70" x2="439.00" y2="313.70" stroke="#231f20" stroke-width="1.3" />
<line x1="268.20" y1="327.10" x2="439.00" y2="327.10" stroke="#231f20" stroke-width="1.0" />
<line x1="268.20" y1="430.40" x2="439.00" y2="430.40" stroke="#231f20" stroke-width="1.3" />
<text x="284.20" y="322.90" font-size="8.74" textLength="17.00" lengthAdjust="spacingAndGlyphs" text-anchor="middle" stroke="#231f20" stroke-width="0.12" >Rank</text>
<text x="330.30" y="322.90" font-size="8.74" textLength="19.00" lengthAdjust="spacingAndGlyphs" text-anchor="middle" stroke="#231f20" stroke-width="0.12" >Motif</text>
<text x="388.00" y="322.90" font-size="8.51" textLength="9.28" lengthAdjust="spacingAndGlyphs" text-anchor="middle" stroke="#231f20" stroke-width="0.12" >TF</text>
<text x="423.2" y="322.9" font-size="7.6" text-anchor="middle" fill="#231f20"><tspan font-size="6">-</tspan>Log<tspan font-size="5.2" dy="1.6">10</tspan><tspan dy="-1.6">P</tspan></text>
<text x="284.20" y="337.10" font-size="8.85" textLength="4.39" lengthAdjust="spacingAndGlyphs" text-anchor="middle" stroke="#231f20" stroke-width="0.12" >1</text>
<text x="388.50" y="337.10" font-size="8.85" textLength="34.24" lengthAdjust="spacingAndGlyphs" text-anchor="middle" stroke="#231f20" stroke-width="0.12" >ZNF354C</text>
<text x="423.20" y="337.10" font-size="8.85" textLength="8.79" lengthAdjust="spacingAndGlyphs" text-anchor="middle" stroke="#231f20" stroke-width="0.12" >25</text>
<text x="284.20" y="347.24" font-size="8.85" textLength="4.39" lengthAdjust="spacingAndGlyphs" text-anchor="middle" stroke="#231f20" stroke-width="0.12" >2</text>
<text x="388.50" y="347.24" font-size="8.85" textLength="24.58" lengthAdjust="spacingAndGlyphs" text-anchor="middle" stroke="#231f20" stroke-width="0.12" >MED-1</text>
<text x="423.20" y="347.24" font-size="8.85" textLength="8.79" lengthAdjust="spacingAndGlyphs" text-anchor="middle" stroke="#231f20" stroke-width="0.12" >23</text>
<text x="284.20" y="357.38" font-size="8.85" textLength="4.39" lengthAdjust="spacingAndGlyphs" text-anchor="middle" stroke="#231f20" stroke-width="0.12" >3</text>
<text x="388.50" y="357.38" font-size="8.85" textLength="21.07" lengthAdjust="spacingAndGlyphs" text-anchor="middle" stroke="#231f20" stroke-width="0.12" >MYF5</text>
<text x="423.20" y="357.38" font-size="8.85" textLength="8.79" lengthAdjust="spacingAndGlyphs" text-anchor="middle" stroke="#231f20" stroke-width="0.12" >23</text>
<text x="284.20" y="367.52" font-size="8.85" textLength="4.39" lengthAdjust="spacingAndGlyphs" text-anchor="middle" stroke="#231f20" stroke-width="0.12" >4</text>
<text x="388.50" y="367.52" font-size="8.85" textLength="26.64" lengthAdjust="spacingAndGlyphs" text-anchor="middle" stroke="#231f20" stroke-width="0.12" >GABPA</text>
<text x="423.20" y="367.52" font-size="8.85" textLength="8.79" lengthAdjust="spacingAndGlyphs" text-anchor="middle" stroke="#231f20" stroke-width="0.12" >23</text>
<text x="284.20" y="377.66" font-size="8.85" textLength="4.39" lengthAdjust="spacingAndGlyphs" text-anchor="middle" stroke="#231f20" stroke-width="0.12" >5</text>
<text x="388.50" y="377.66" font-size="8.85" textLength="14.93" lengthAdjust="spacingAndGlyphs" text-anchor="middle" stroke="#231f20" stroke-width="0.12" >SP1</text>
<text x="423.20" y="377.66" font-size="8.85" textLength="8.79" lengthAdjust="spacingAndGlyphs" text-anchor="middle" stroke="#231f20" stroke-width="0.12" >22</text>
<text x="284.20" y="387.80" font-size="8.85" textLength="4.39" lengthAdjust="spacingAndGlyphs" text-anchor="middle" stroke="#231f20" stroke-width="0.12" >6</text>
<text x="388.50" y="387.80" font-size="8.85" textLength="18.44" lengthAdjust="spacingAndGlyphs" text-anchor="middle" stroke="#231f20" stroke-width="0.12" >SPIC</text>
<text x="423.20" y="387.80" font-size="8.85" textLength="8.79" lengthAdjust="spacingAndGlyphs" text-anchor="middle" stroke="#231f20" stroke-width="0.12" >22</text>
<text x="284.20" y="397.94" font-size="8.85" textLength="4.39" lengthAdjust="spacingAndGlyphs" text-anchor="middle" stroke="#231f20" stroke-width="0.12" >7</text>
<text x="388.50" y="397.94" font-size="8.85" textLength="23.71" lengthAdjust="spacingAndGlyphs" text-anchor="middle" stroke="#231f20" stroke-width="0.12" >MEIS1</text>
<text x="423.20" y="397.94" font-size="8.85" textLength="8.79" lengthAdjust="spacingAndGlyphs" text-anchor="middle" stroke="#231f20" stroke-width="0.12" >21</text>
<text x="284.20" y="408.08" font-size="8.85" textLength="4.39" lengthAdjust="spacingAndGlyphs" text-anchor="middle" stroke="#231f20" stroke-width="0.12" >8</text>
<text x="388.50" y="408.08" font-size="8.85" textLength="17.56" lengthAdjust="spacingAndGlyphs" text-anchor="middle" stroke="#231f20" stroke-width="0.12" >MYC</text>
<text x="423.20" y="408.08" font-size="8.85" textLength="8.79" lengthAdjust="spacingAndGlyphs" text-anchor="middle" stroke="#231f20" stroke-width="0.12" >20</text>
<text x="284.20" y="418.22" font-size="8.85" textLength="4.39" lengthAdjust="spacingAndGlyphs" text-anchor="middle" stroke="#231f20" stroke-width="0.12" >9</text>
<text x="388.50" y="418.22" font-size="8.85" textLength="26.20" lengthAdjust="spacingAndGlyphs" text-anchor="middle" stroke="#231f20" stroke-width="0.12" >CEBPA</text>
<text x="423.20" y="418.22" font-size="8.85" textLength="8.79" lengthAdjust="spacingAndGlyphs" text-anchor="middle" stroke="#231f20" stroke-width="0.12" >19</text>
<text x="284.20" y="428.36" font-size="8.85" textLength="8.79" lengthAdjust="spacingAndGlyphs" text-anchor="middle" stroke="#231f20" stroke-width="0.12" >10</text>
<text x="388.50" y="428.36" font-size="8.85" textLength="24.58" lengthAdjust="spacingAndGlyphs" text-anchor="middle" stroke="#231f20" stroke-width="0.12" >MED-1</text>
<text x="423.20" y="428.36" font-size="8.85" textLength="8.79" lengthAdjust="spacingAndGlyphs" text-anchor="middle" stroke="#231f20" stroke-width="0.12" >18</text>
<text transform="translate(307.20,337.00) scale(0.532,1)" font-size="10.70" font-weight="bold" fill="#3fb030" stroke="#3fb030" stroke-width="0.35" vector-effect="non-scaling-stroke">A</text>
<text transform="translate(311.12,337.00) scale(0.532,1)" font-size="10.70" font-weight="bold" fill="#1c22e0" stroke="#1c22e0" stroke-width="0.35" vector-effect="non-scaling-stroke">C</text>
<text transform="translate(315.03,337.00) scale(0.532,1)" font-size="10.70" font-weight="bold" fill="#3fb030" stroke="#3fb030" stroke-width="0.35" vector-effect="non-scaling-stroke">A</text>
<text transform="translate(318.95,337.00) scale(0.494,1)" font-size="10.70" font-weight="bold" fill="#f0a326" stroke="#f0a326" stroke-width="0.35" vector-effect="non-scaling-stroke">G</text>
<text transform="translate(322.87,337.00) scale(0.629,1)" font-size="10.70" font-weight="bold" fill="#d42a2a" stroke="#d42a2a" stroke-width="0.35" vector-effect="non-scaling-stroke">T</text>
<text transform="translate(326.78,337.00) scale(0.629,1)" font-size="10.70" font-weight="bold" fill="#d42a2a" stroke="#d42a2a" stroke-width="0.35" vector-effect="non-scaling-stroke">T</text>
<text transform="translate(330.70,337.00) scale(0.532,1)" font-size="10.70" font-weight="bold" fill="#1c22e0" stroke="#1c22e0" stroke-width="0.35" vector-effect="non-scaling-stroke">C</text>
<text transform="translate(334.62,333.49) scale(0.968,1)" font-size="5.88" font-weight="bold" fill="#1c22e0" stroke="#1c22e0" stroke-width="0.35" vector-effect="non-scaling-stroke">C</text>
<text transform="translate(334.62,337.00) scale(1.046,1)" font-size="4.81" font-weight="bold" fill="#f0a326" opacity="0.9">G</text>
<text transform="translate(338.53,337.00) scale(0.532,1)" font-size="10.70" font-weight="bold" fill="#1c22e0" stroke="#1c22e0" stroke-width="0.35" vector-effect="non-scaling-stroke">C</text>
<text transform="translate(342.45,337.00) scale(0.532,1)" font-size="10.70" font-weight="bold" fill="#1c22e0" stroke="#1c22e0" stroke-width="0.35" vector-effect="non-scaling-stroke">C</text>
<text transform="translate(346.37,337.00) scale(0.532,1)" font-size="10.70" font-weight="bold" fill="#3fb030" stroke="#3fb030" stroke-width="0.35" vector-effect="non-scaling-stroke">A</text>
<text transform="translate(350.28,337.00) scale(0.532,1)" font-size="10.70" font-weight="bold" fill="#1c22e0" stroke="#1c22e0" stroke-width="0.35" vector-effect="non-scaling-stroke">C</text>
<text transform="translate(308.00,344.46) scale(0.728,1)" font-size="7.49" font-weight="bold" fill="#1c22e0" stroke="#1c22e0" stroke-width="0.35" vector-effect="non-scaling-stroke">C</text>
<text transform="translate(308.00,346.80) scale(1.618,1)" font-size="3.21" font-weight="bold" fill="#3fb030" opacity="0.9">A</text>
<text transform="translate(311.75,343.68) scale(0.788,1)" font-size="6.42" font-weight="bold" fill="#f0a326" stroke="#f0a326" stroke-width="0.35" vector-effect="non-scaling-stroke">G</text>
<text transform="translate(311.75,346.80) scale(1.214,1)" font-size="4.28" font-weight="bold" fill="#3fb030" opacity="0.9">A</text>
<text transform="translate(315.50,345.24) scale(0.591,1)" font-size="8.56" font-weight="bold" fill="#f0a326" stroke="#f0a326" stroke-width="0.35" vector-effect="non-scaling-stroke">G</text>
<text transform="translate(315.50,346.80) scale(2.427,1)" font-size="2.14" font-weight="bold" fill="#1c22e0" opacity="0.9">C</text>
<text transform="translate(319.25,345.24) scale(0.591,1)" font-size="8.56" font-weight="bold" fill="#f0a326" stroke="#f0a326" stroke-width="0.35" vector-effect="non-scaling-stroke">G</text>
<text transform="translate(319.25,346.80) scale(2.868,1)" font-size="2.14" font-weight="bold" fill="#d42a2a" opacity="0.9">T</text>
<text transform="translate(323.00,345.24) scale(0.637,1)" font-size="8.56" font-weight="bold" fill="#3fb030" stroke="#3fb030" stroke-width="0.35" vector-effect="non-scaling-stroke">A</text>
<text transform="translate(323.00,346.80) scale(2.427,1)" font-size="2.14" font-weight="bold" fill="#1c22e0" opacity="0.9">C</text>
<text transform="translate(326.75,345.24) scale(0.591,1)" font-size="8.56" font-weight="bold" fill="#f0a326" stroke="#f0a326" stroke-width="0.35" vector-effect="non-scaling-stroke">G</text>
<text transform="translate(326.75,346.80) scale(2.427,1)" font-size="2.14" font-weight="bold" fill="#3fb030" opacity="0.9">A</text>
<text transform="translate(330.50,343.68) scale(0.850,1)" font-size="6.42" font-weight="bold" fill="#3fb030" stroke="#3fb030" stroke-width="0.35" vector-effect="non-scaling-stroke">A</text>
<text transform="translate(330.50,346.80) scale(1.434,1)" font-size="4.28" font-weight="bold" fill="#d42a2a" opacity="0.9">T</text>
<text transform="translate(334.25,346.02) scale(0.566,1)" font-size="9.63" font-weight="bold" fill="#1c22e0" stroke="#1c22e0" stroke-width="0.35" vector-effect="non-scaling-stroke">C</text>
<text transform="translate(334.25,346.80) scale(4.854,1)" font-size="1.07" font-weight="bold" fill="#3fb030" opacity="0.9">A</text>
<text transform="translate(338.00,346.02) scale(0.669,1)" font-size="9.63" font-weight="bold" fill="#d42a2a" stroke="#d42a2a" stroke-width="0.35" vector-effect="non-scaling-stroke">T</text>
<text transform="translate(338.00,346.80) scale(4.505,1)" font-size="1.07" font-weight="bold" fill="#f0a326" opacity="0.9">G</text>
<text transform="translate(341.75,344.46) scale(0.728,1)" font-size="7.49" font-weight="bold" fill="#1c22e0" stroke="#1c22e0" stroke-width="0.35" vector-effect="non-scaling-stroke">C</text>
<text transform="translate(341.75,346.80) scale(1.502,1)" font-size="3.21" font-weight="bold" fill="#f0a326" opacity="0.9">G</text>
<text transform="translate(345.50,342.90) scale(0.946,1)" font-size="5.35" font-weight="bold" fill="#f0a326" stroke="#f0a326" stroke-width="0.35" vector-effect="non-scaling-stroke">G</text>
<text transform="translate(345.50,346.80) scale(0.971,1)" font-size="5.35" font-weight="bold" fill="#3fb030" opacity="0.9">A</text>
<text transform="translate(349.25,346.02) scale(0.526,1)" font-size="9.63" font-weight="bold" fill="#f0a326" stroke="#f0a326" stroke-width="0.35" vector-effect="non-scaling-stroke">G</text>
<text transform="translate(349.25,346.80) scale(5.736,1)" font-size="1.07" font-weight="bold" fill="#d42a2a" opacity="0.9">T</text>
<text transform="translate(307.00,355.20) scale(0.741,1)" font-size="7.68" font-weight="bold" fill="#3fb030" stroke="#3fb030" stroke-width="0.35" vector-effect="non-scaling-stroke">A</text>
<text transform="translate(307.00,356.60) scale(2.621,1)" font-size="1.92" font-weight="bold" fill="#f0a326" opacity="0.9">G</text>
<text transform="translate(310.92,355.90) scale(0.659,1)" font-size="8.64" font-weight="bold" fill="#1c22e0" stroke="#1c22e0" stroke-width="0.35" vector-effect="non-scaling-stroke">C</text>
<text transform="translate(310.92,356.60) scale(6.676,1)" font-size="0.96" font-weight="bold" fill="#d42a2a" opacity="0.9">T</text>
<text transform="translate(314.83,355.20) scale(0.741,1)" font-size="7.68" font-weight="bold" fill="#3fb030" stroke="#3fb030" stroke-width="0.35" vector-effect="non-scaling-stroke">A</text>
<text transform="translate(314.83,356.60) scale(2.825,1)" font-size="1.92" font-weight="bold" fill="#1c22e0" opacity="0.9">C</text>
<text transform="translate(318.75,355.20) scale(0.688,1)" font-size="7.68" font-weight="bold" fill="#f0a326" stroke="#f0a326" stroke-width="0.35" vector-effect="non-scaling-stroke">G</text>
<text transform="translate(318.75,356.60) scale(3.338,1)" font-size="1.92" font-weight="bold" fill="#d42a2a" opacity="0.9">T</text>
<text transform="translate(322.67,355.90) scale(0.659,1)" font-size="8.64" font-weight="bold" fill="#1c22e0" stroke="#1c22e0" stroke-width="0.35" vector-effect="non-scaling-stroke">C</text>
<text transform="translate(322.67,356.60) scale(5.243,1)" font-size="0.96" font-weight="bold" fill="#f0a326" opacity="0.9">G</text>
<text transform="translate(326.58,355.90) scale(0.779,1)" font-size="8.64" font-weight="bold" fill="#d42a2a" stroke="#d42a2a" stroke-width="0.35" vector-effect="non-scaling-stroke">T</text>
<text transform="translate(326.58,356.60) scale(5.243,1)" font-size="0.96" font-weight="bold" fill="#f0a326" opacity="0.9">G</text>
<text transform="translate(330.50,355.90) scale(0.659,1)" font-size="8.64" font-weight="bold" fill="#1c22e0" stroke="#1c22e0" stroke-width="0.35" vector-effect="non-scaling-stroke">C</text>
<text transform="translate(330.50,356.60) scale(5.649,1)" font-size="0.96" font-weight="bold" fill="#3fb030" opacity="0.9">A</text>
<text transform="translate(334.42,355.90) scale(0.779,1)" font-size="8.64" font-weight="bold" fill="#d42a2a" stroke="#d42a2a" stroke-width="0.35" vector-effect="non-scaling-stroke">T</text>
<text transform="translate(334.42,356.60) scale(5.243,1)" font-size="0.96" font-weight="bold" fill="#f0a326" opacity="0.9">G</text>
<text transform="translate(338.33,355.20) scale(0.688,1)" font-size="7.68" font-weight="bold" fill="#f0a326" stroke="#f0a326" stroke-width="0.35" vector-effect="non-scaling-stroke">G</text>
<text transform="translate(338.33,356.60) scale(2.825,1)" font-size="1.92" font-weight="bold" fill="#1c22e0" opacity="0.9">C</text>
<text transform="translate(342.25,355.90) scale(0.659,1)" font-size="8.64" font-weight="bold" fill="#1c22e0" stroke="#1c22e0" stroke-width="0.35" vector-effect="non-scaling-stroke">C</text>
<text transform="translate(342.25,356.60) scale(6.676,1)" font-size="0.96" font-weight="bold" fill="#d42a2a" opacity="0.9">T</text>
<text transform="translate(346.17,355.90) scale(0.779,1)" font-size="8.64" font-weight="bold" fill="#d42a2a" stroke="#d42a2a" stroke-width="0.35" vector-effect="non-scaling-stroke">T</text>
<text transform="translate(346.17,356.60) scale(5.649,1)" font-size="0.96" font-weight="bold" fill="#1c22e0" opacity="0.9">C</text>
<text transform="translate(350.08,355.90) scale(0.779,1)" font-size="8.64" font-weight="bold" fill="#d42a2a" stroke="#d42a2a" stroke-width="0.35" vector-effect="non-scaling-stroke">T</text>
<text transform="translate(350.08,356.60) scale(5.649,1)" font-size="0.96" font-weight="bold" fill="#1c22e0" opacity="0.9">C</text>
<text transform="translate(306.50,364.30) scale(1.044,1)" font-size="6.58" font-weight="bold" fill="#d42a2a" stroke="#d42a2a" stroke-width="0.35" vector-effect="non-scaling-stroke">T</text>
<text transform="translate(306.50,367.50) scale(1.171,1)" font-size="4.39" font-weight="bold" fill="#f0a326" opacity="0.9">G</text>
<text transform="translate(310.50,363.50) scale(0.984,1)" font-size="5.49" font-weight="bold" fill="#f0a326" stroke="#f0a326" stroke-width="0.35" vector-effect="non-scaling-stroke">G</text>
<text transform="translate(310.50,367.50) scale(1.010,1)" font-size="5.49" font-weight="bold" fill="#1c22e0" opacity="0.9">C</text>
<text transform="translate(314.50,366.70) scale(0.589,1)" font-size="9.88" font-weight="bold" fill="#1c22e0" stroke="#1c22e0" stroke-width="0.35" vector-effect="non-scaling-stroke">C</text>
<text transform="translate(314.50,367.50) scale(5.048,1)" font-size="1.10" font-weight="bold" fill="#3fb030" opacity="0.9">A</text>
<text transform="translate(318.50,363.50) scale(0.984,1)" font-size="5.49" font-weight="bold" fill="#f0a326" stroke="#f0a326" stroke-width="0.35" vector-effect="non-scaling-stroke">G</text>
<text transform="translate(318.50,367.50) scale(1.193,1)" font-size="5.49" font-weight="bold" fill="#d42a2a" opacity="0.9">T</text>
<text transform="translate(322.50,366.70) scale(0.589,1)" font-size="9.88" font-weight="bold" fill="#1c22e0" stroke="#1c22e0" stroke-width="0.35" vector-effect="non-scaling-stroke">C</text>
<text transform="translate(322.50,367.50) scale(5.048,1)" font-size="1.10" font-weight="bold" fill="#3fb030" opacity="0.9">A</text>
<text transform="translate(326.50,365.90) scale(0.663,1)" font-size="8.78" font-weight="bold" fill="#3fb030" stroke="#3fb030" stroke-width="0.35" vector-effect="non-scaling-stroke">A</text>
<text transform="translate(326.50,367.50) scale(2.343,1)" font-size="2.19" font-weight="bold" fill="#f0a326" opacity="0.9">G</text>
<text transform="translate(330.50,365.90) scale(0.663,1)" font-size="8.78" font-weight="bold" fill="#3fb030" stroke="#3fb030" stroke-width="0.35" vector-effect="non-scaling-stroke">A</text>
<text transform="translate(330.50,367.50) scale(2.983,1)" font-size="2.19" font-weight="bold" fill="#d42a2a" opacity="0.9">T</text>
<text transform="translate(334.50,365.90) scale(0.615,1)" font-size="8.78" font-weight="bold" fill="#f0a326" stroke="#f0a326" stroke-width="0.35" vector-effect="non-scaling-stroke">G</text>
<text transform="translate(334.50,367.50) scale(2.524,1)" font-size="2.19" font-weight="bold" fill="#3fb030" opacity="0.9">A</text>
<text transform="translate(338.50,363.50) scale(1.060,1)" font-size="5.49" font-weight="bold" fill="#1c22e0" stroke="#1c22e0" stroke-width="0.35" vector-effect="non-scaling-stroke">C</text>
<text transform="translate(338.50,367.50) scale(1.193,1)" font-size="5.49" font-weight="bold" fill="#d42a2a" opacity="0.9">T</text>
<text transform="translate(342.50,365.90) scale(0.615,1)" font-size="8.78" font-weight="bold" fill="#f0a326" stroke="#f0a326" stroke-width="0.35" vector-effect="non-scaling-stroke">G</text>
<text transform="translate(342.50,367.50) scale(2.983,1)" font-size="2.19" font-weight="bold" fill="#d42a2a" opacity="0.9">T</text>
<text transform="translate(346.50,365.90) scale(0.663,1)" font-size="8.78" font-weight="bold" fill="#3fb030" stroke="#3fb030" stroke-width="0.35" vector-effect="non-scaling-stroke">A</text>
<text transform="translate(346.50,367.50) scale(2.343,1)" font-size="2.19" font-weight="bold" fill="#f0a326" opacity="0.9">G</text>
<text transform="translate(350.50,366.70) scale(0.547,1)" font-size="9.88" font-weight="bold" fill="#f0a326" stroke="#f0a326" stroke-width="0.35" vector-effect="non-scaling-stroke">G</text>
<text transform="translate(350.50,367.50) scale(5.966,1)" font-size="1.10" font-weight="bold" fill="#d42a2a" opacity="0.9">T</text>
<text transform="translate(305.50,377.70) scale(0.677,1)" font-size="10.43" font-weight="bold" fill="#d42a2a" stroke="#d42a2a" stroke-width="0.35" vector-effect="non-scaling-stroke">T</text>
<text transform="translate(309.61,377.70) scale(0.573,1)" font-size="10.43" font-weight="bold" fill="#1c22e0" stroke="#1c22e0" stroke-width="0.35" vector-effect="non-scaling-stroke">C</text>
<text transform="translate(313.72,377.70) scale(0.532,1)" font-size="10.43" font-weight="bold" fill="#f0a326" stroke="#f0a326" stroke-width="0.35" vector-effect="non-scaling-stroke">G</text>
<text transform="translate(317.82,377.70) scale(0.532,1)" font-size="10.43" font-weight="bold" fill="#f0a326" stroke="#f0a326" stroke-width="0.35" vector-effect="non-scaling-stroke">G</text>
<text transform="translate(321.93,377.70) scale(0.532,1)" font-size="10.43" font-weight="bold" fill="#f0a326" stroke="#f0a326" stroke-width="0.35" vector-effect="non-scaling-stroke">G</text>
<text transform="translate(326.04,377.70) scale(0.532,1)" font-size="10.43" font-weight="bold" fill="#f0a326" stroke="#f0a326" stroke-width="0.35" vector-effect="non-scaling-stroke">G</text>
<text transform="translate(330.15,377.70) scale(0.573,1)" font-size="10.43" font-weight="bold" fill="#1c22e0" stroke="#1c22e0" stroke-width="0.35" vector-effect="non-scaling-stroke">C</text>
<text transform="translate(334.26,377.70) scale(0.573,1)" font-size="10.43" font-weight="bold" fill="#1c22e0" stroke="#1c22e0" stroke-width="0.35" vector-effect="non-scaling-stroke">C</text>
<text transform="translate(338.37,377.70) scale(0.573,1)" font-size="10.43" font-weight="bold" fill="#1c22e0" stroke="#1c22e0" stroke-width="0.35" vector-effect="non-scaling-stroke">C</text>
<text transform="translate(342.48,377.70) scale(0.573,1)" font-size="10.43" font-weight="bold" fill="#1c22e0" stroke="#1c22e0" stroke-width="0.35" vector-effect="non-scaling-stroke">C</text>
<text transform="translate(346.58,377.70) scale(0.532,1)" font-size="10.43" font-weight="bold" fill="#f0a326" stroke="#f0a326" stroke-width="0.35" vector-effect="non-scaling-stroke">G</text>
<text transform="translate(350.69,377.70) scale(0.573,1)" font-size="10.43" font-weight="bold" fill="#1c22e0" stroke="#1c22e0" stroke-width="0.35" vector-effect="non-scaling-stroke">C</text>
<text transform="translate(306.30,385.36) scale(0.910,1)" font-size="7.35" font-weight="bold" fill="#d42a2a" stroke="#d42a2a" stroke-width="0.35" vector-effect="non-scaling-stroke">T</text>
<text transform="translate(306.30,386.30) scale(4.158,1)" font-size="1.30" font-weight="bold" fill="#3fb030" opacity="0.9">A</text>
<text transform="translate(310.19,385.36) scale(0.910,1)" font-size="7.35" font-weight="bold" fill="#d42a2a" stroke="#d42a2a" stroke-width="0.35" vector-effect="non-scaling-stroke">T</text>
<text transform="translate(310.19,386.30) scale(4.158,1)" font-size="1.30" font-weight="bold" fill="#1c22e0" opacity="0.9">C</text>
<text transform="translate(314.08,385.36) scale(0.770,1)" font-size="7.35" font-weight="bold" fill="#1c22e0" stroke="#1c22e0" stroke-width="0.35" vector-effect="non-scaling-stroke">C</text>
<text transform="translate(314.08,386.30) scale(3.859,1)" font-size="1.30" font-weight="bold" fill="#f0a326" opacity="0.9">G</text>
<text transform="translate(317.98,385.36) scale(0.910,1)" font-size="7.35" font-weight="bold" fill="#d42a2a" stroke="#d42a2a" stroke-width="0.35" vector-effect="non-scaling-stroke">T</text>
<text transform="translate(317.98,386.30) scale(4.158,1)" font-size="1.30" font-weight="bold" fill="#1c22e0" opacity="0.9">C</text>
<text transform="translate(321.87,385.36) scale(0.910,1)" font-size="7.35" font-weight="bold" fill="#d42a2a" stroke="#d42a2a" stroke-width="0.35" vector-effect="non-scaling-stroke">T</text>
<text transform="translate(321.87,386.30) scale(4.158,1)" font-size="1.30" font-weight="bold" fill="#1c22e0" opacity="0.9">C</text>
<text transform="translate(325.76,385.36) scale(0.770,1)" font-size="7.35" font-weight="bold" fill="#1c22e0" stroke="#1c22e0" stroke-width="0.35" vector-effect="non-scaling-stroke">C</text>
<text transform="translate(325.76,386.30) scale(4.158,1)" font-size="1.30" font-weight="bold" fill="#3fb030" opacity="0.9">A</text>
<text transform="translate(329.65,385.36) scale(0.770,1)" font-size="7.35" font-weight="bold" fill="#1c22e0" stroke="#1c22e0" stroke-width="0.35" vector-effect="non-scaling-stroke">C</text>
<text transform="translate(329.65,386.30) scale(4.158,1)" font-size="1.30" font-weight="bold" fill="#3fb030" opacity="0.9">A</text>
<text transform="translate(333.54,385.36) scale(0.770,1)" font-size="7.35" font-weight="bold" fill="#1c22e0" stroke="#1c22e0" stroke-width="0.35" vector-effect="non-scaling-stroke">C</text>
<text transform="translate(333.54,386.30) scale(4.158,1)" font-size="1.30" font-weight="bold" fill="#3fb030" opacity="0.9">A</text>
<text transform="translate(337.43,385.36) scale(0.910,1)" font-size="7.35" font-weight="bold" fill="#d42a2a" stroke="#d42a2a" stroke-width="0.35" vector-effect="non-scaling-stroke">T</text>
<text transform="translate(337.43,386.30) scale(4.158,1)" font-size="1.30" font-weight="bold" fill="#1c22e0" opacity="0.9">C</text>
<text transform="translate(341.32,385.36) scale(0.910,1)" font-size="7.35" font-weight="bold" fill="#d42a2a" stroke="#d42a2a" stroke-width="0.35" vector-effect="non-scaling-stroke">T</text>
<text transform="translate(341.32,386.30) scale(4.158,1)" font-size="1.30" font-weight="bold" fill="#1c22e0" opacity="0.9">C</text>
<text transform="translate(345.22,385.36) scale(0.910,1)" font-size="7.35" font-weight="bold" fill="#d42a2a" stroke="#d42a2a" stroke-width="0.35" vector-effect="non-scaling-stroke">T</text>
<text transform="translate(345.22,386.30) scale(3.859,1)" font-size="1.30" font-weight="bold" fill="#f0a326" opacity="0.9">G</text>
<text transform="translate(349.11,385.36) scale(0.770,1)" font-size="7.35" font-weight="bold" fill="#1c22e0" stroke="#1c22e0" stroke-width="0.35" vector-effect="non-scaling-stroke">C</text>
<text transform="translate(349.11,386.30) scale(4.913,1)" font-size="1.30" font-weight="bold" fill="#d42a2a" opacity="0.9">T</text>
<text transform="translate(311.00,395.30) scale(0.699,1)" font-size="7.68" font-weight="bold" fill="#1c22e0" stroke="#1c22e0" stroke-width="0.35" vector-effect="non-scaling-stroke">C</text>
<text transform="translate(311.00,396.70) scale(3.145,1)" font-size="1.92" font-weight="bold" fill="#d42a2a" opacity="0.9">T</text>
<text transform="translate(314.69,393.90) scale(0.864,1)" font-size="5.76" font-weight="bold" fill="#f0a326" stroke="#f0a326" stroke-width="0.35" vector-effect="non-scaling-stroke">G</text>
<text transform="translate(314.69,396.70) scale(1.331,1)" font-size="3.84" font-weight="bold" fill="#1c22e0" opacity="0.9">C</text>
<text transform="translate(318.38,396.00) scale(0.621,1)" font-size="8.64" font-weight="bold" fill="#1c22e0" stroke="#1c22e0" stroke-width="0.35" vector-effect="non-scaling-stroke">C</text>
<text transform="translate(318.38,396.70) scale(6.289,1)" font-size="0.96" font-weight="bold" fill="#d42a2a" opacity="0.9">T</text>
<text transform="translate(322.07,396.00) scale(0.734,1)" font-size="8.64" font-weight="bold" fill="#d42a2a" stroke="#d42a2a" stroke-width="0.35" vector-effect="non-scaling-stroke">T</text>
<text transform="translate(322.07,396.70) scale(5.323,1)" font-size="0.96" font-weight="bold" fill="#1c22e0" opacity="0.9">C</text>
<text transform="translate(325.76,393.90) scale(0.864,1)" font-size="5.76" font-weight="bold" fill="#f0a326" stroke="#f0a326" stroke-width="0.35" vector-effect="non-scaling-stroke">G</text>
<text transform="translate(325.76,396.70) scale(1.331,1)" font-size="3.84" font-weight="bold" fill="#3fb030" opacity="0.9">A</text>
<text transform="translate(329.45,395.30) scale(0.699,1)" font-size="7.68" font-weight="bold" fill="#3fb030" stroke="#3fb030" stroke-width="0.35" vector-effect="non-scaling-stroke">A</text>
<text transform="translate(329.45,396.70) scale(2.661,1)" font-size="1.92" font-weight="bold" fill="#1c22e0" opacity="0.9">C</text>
<text transform="translate(333.14,394.60) scale(0.798,1)" font-size="6.72" font-weight="bold" fill="#1c22e0" stroke="#1c22e0" stroke-width="0.35" vector-effect="non-scaling-stroke">C</text>
<text transform="translate(333.14,396.70) scale(1.646,1)" font-size="2.88" font-weight="bold" fill="#f0a326" opacity="0.9">G</text>
<text transform="translate(336.83,395.30) scale(0.699,1)" font-size="7.68" font-weight="bold" fill="#3fb030" stroke="#3fb030" stroke-width="0.35" vector-effect="non-scaling-stroke">A</text>
<text transform="translate(336.83,396.70) scale(3.145,1)" font-size="1.92" font-weight="bold" fill="#d42a2a" opacity="0.9">T</text>
<text transform="translate(340.52,395.30) scale(0.648,1)" font-size="7.68" font-weight="bold" fill="#f0a326" stroke="#f0a326" stroke-width="0.35" vector-effect="non-scaling-stroke">G</text>
<text transform="translate(340.52,396.70) scale(2.661,1)" font-size="1.92" font-weight="bold" fill="#1c22e0" opacity="0.9">C</text>
<text transform="translate(344.21,395.30) scale(0.825,1)" font-size="7.68" font-weight="bold" fill="#d42a2a" stroke="#d42a2a" stroke-width="0.35" vector-effect="non-scaling-stroke">T</text>
<text transform="translate(344.21,396.70) scale(2.470,1)" font-size="1.92" font-weight="bold" fill="#f0a326" opacity="0.9">G</text>
<text transform="translate(305.80,407.70) scale(0.517,1)" font-size="10.43" font-weight="bold" fill="#f0a326" stroke="#f0a326" stroke-width="0.35" vector-effect="non-scaling-stroke">G</text>
<text transform="translate(309.79,407.70) scale(0.557,1)" font-size="10.43" font-weight="bold" fill="#3fb030" stroke="#3fb030" stroke-width="0.35" vector-effect="non-scaling-stroke">A</text>
<text transform="translate(313.78,407.70) scale(0.517,1)" font-size="10.43" font-weight="bold" fill="#f0a326" stroke="#f0a326" stroke-width="0.35" vector-effect="non-scaling-stroke">G</text>
<text transform="translate(317.77,407.70) scale(0.557,1)" font-size="10.43" font-weight="bold" fill="#1c22e0" stroke="#1c22e0" stroke-width="0.35" vector-effect="non-scaling-stroke">C</text>
<text transform="translate(321.77,407.70) scale(0.557,1)" font-size="10.43" font-weight="bold" fill="#3fb030" stroke="#3fb030" stroke-width="0.35" vector-effect="non-scaling-stroke">A</text>
<text transform="translate(325.76,407.70) scale(0.557,1)" font-size="10.43" font-weight="bold" fill="#1c22e0" stroke="#1c22e0" stroke-width="0.35" vector-effect="non-scaling-stroke">C</text>
<text transform="translate(329.75,404.66) scale(0.928,1)" font-size="6.26" font-weight="bold" fill="#1c22e0" stroke="#1c22e0" stroke-width="0.35" vector-effect="non-scaling-stroke">C</text>
<text transform="translate(329.75,407.70) scale(1.326,1)" font-size="4.17" font-weight="bold" fill="#3fb030" opacity="0.9">A</text>
<text transform="translate(333.74,404.66) scale(0.928,1)" font-size="6.26" font-weight="bold" fill="#3fb030" stroke="#3fb030" stroke-width="0.35" vector-effect="non-scaling-stroke">A</text>
<text transform="translate(333.74,407.70) scale(1.230,1)" font-size="4.17" font-weight="bold" fill="#f0a326" opacity="0.9">G</text>
<text transform="translate(337.73,407.70) scale(0.517,1)" font-size="10.43" font-weight="bold" fill="#f0a326" stroke="#f0a326" stroke-width="0.35" vector-effect="non-scaling-stroke">G</text>
<text transform="translate(341.73,407.70) scale(0.517,1)" font-size="10.43" font-weight="bold" fill="#f0a326" stroke="#f0a326" stroke-width="0.35" vector-effect="non-scaling-stroke">G</text>
<text transform="translate(345.72,407.70) scale(0.658,1)" font-size="10.43" font-weight="bold" fill="#d42a2a" stroke="#d42a2a" stroke-width="0.35" vector-effect="non-scaling-stroke">T</text>
<text transform="translate(349.71,405.42) scale(0.940,1)" font-size="7.30" font-weight="bold" fill="#d42a2a" stroke="#d42a2a" stroke-width="0.35" vector-effect="non-scaling-stroke">T</text>
<text transform="translate(349.71,407.70) scale(1.768,1)" font-size="3.13" font-weight="bold" fill="#1c22e0" opacity="0.9">C</text>
<text transform="translate(306.30,415.50) scale(0.737,1)" font-size="7.68" font-weight="bold" fill="#1c22e0" stroke="#1c22e0" stroke-width="0.35" vector-effect="non-scaling-stroke">C</text>
<text transform="translate(306.30,416.90) scale(2.807,1)" font-size="1.92" font-weight="bold" fill="#3fb030" opacity="0.9">A</text>
<text transform="translate(310.19,414.10) scale(0.912,1)" font-size="5.76" font-weight="bold" fill="#f0a326" stroke="#f0a326" stroke-width="0.35" vector-effect="non-scaling-stroke">G</text>
<text transform="translate(310.19,416.90) scale(1.403,1)" font-size="3.84" font-weight="bold" fill="#3fb030" opacity="0.9">A</text>
<text transform="translate(314.08,414.10) scale(0.912,1)" font-size="5.76" font-weight="bold" fill="#f0a326" stroke="#f0a326" stroke-width="0.35" vector-effect="non-scaling-stroke">G</text>
<text transform="translate(314.08,416.90) scale(1.403,1)" font-size="3.84" font-weight="bold" fill="#3fb030" opacity="0.9">A</text>
<text transform="translate(317.98,414.10) scale(0.912,1)" font-size="5.76" font-weight="bold" fill="#f0a326" stroke="#f0a326" stroke-width="0.35" vector-effect="non-scaling-stroke">G</text>
<text transform="translate(317.98,416.90) scale(1.403,1)" font-size="3.84" font-weight="bold" fill="#3fb030" opacity="0.9">A</text>
<text transform="translate(321.87,416.20) scale(0.655,1)" font-size="8.64" font-weight="bold" fill="#1c22e0" stroke="#1c22e0" stroke-width="0.35" vector-effect="non-scaling-stroke">C</text>
<text transform="translate(321.87,416.90) scale(6.633,1)" font-size="0.96" font-weight="bold" fill="#d42a2a" opacity="0.9">T</text>
<text transform="translate(325.76,415.50) scale(0.737,1)" font-size="7.68" font-weight="bold" fill="#3fb030" stroke="#3fb030" stroke-width="0.35" vector-effect="non-scaling-stroke">A</text>
<text transform="translate(325.76,416.90) scale(2.807,1)" font-size="1.92" font-weight="bold" fill="#1c22e0" opacity="0.9">C</text>
<text transform="translate(329.65,414.80) scale(0.842,1)" font-size="6.72" font-weight="bold" fill="#3fb030" stroke="#3fb030" stroke-width="0.35" vector-effect="non-scaling-stroke">A</text>
<text transform="translate(329.65,416.90) scale(1.736,1)" font-size="2.88" font-weight="bold" fill="#f0a326" opacity="0.9">G</text>
<text transform="translate(333.54,414.10) scale(0.912,1)" font-size="5.76" font-weight="bold" fill="#f0a326" stroke="#f0a326" stroke-width="0.35" vector-effect="non-scaling-stroke">G</text>
<text transform="translate(333.54,416.90) scale(1.658,1)" font-size="3.84" font-weight="bold" fill="#d42a2a" opacity="0.9">T</text>
<text transform="translate(337.43,414.80) scale(0.842,1)" font-size="6.72" font-weight="bold" fill="#3fb030" stroke="#3fb030" stroke-width="0.35" vector-effect="non-scaling-stroke">A</text>
<text transform="translate(337.43,416.90) scale(2.211,1)" font-size="2.88" font-weight="bold" fill="#d42a2a" opacity="0.9">T</text>
<text transform="translate(341.32,416.20) scale(0.655,1)" font-size="8.64" font-weight="bold" fill="#1c22e0" stroke="#1c22e0" stroke-width="0.35" vector-effect="non-scaling-stroke">C</text>
<text transform="translate(341.32,416.90) scale(6.633,1)" font-size="0.96" font-weight="bold" fill="#d42a2a" opacity="0.9">T</text>
<text transform="translate(345.22,416.20) scale(0.655,1)" font-size="8.64" font-weight="bold" fill="#1c22e0" stroke="#1c22e0" stroke-width="0.35" vector-effect="non-scaling-stroke">C</text>
<text transform="translate(345.22,416.90) scale(5.613,1)" font-size="0.96" font-weight="bold" fill="#3fb030" opacity="0.9">A</text>
<text transform="translate(349.11,416.20) scale(0.655,1)" font-size="8.64" font-weight="bold" fill="#3fb030" stroke="#3fb030" stroke-width="0.35" vector-effect="non-scaling-stroke">A</text>
<text transform="translate(349.11,416.90) scale(5.613,1)" font-size="0.96" font-weight="bold" fill="#1c22e0" opacity="0.9">C</text>
<text transform="translate(309.80,427.14) scale(0.617,1)" font-size="9.38" font-weight="bold" fill="#3fb030" stroke="#3fb030" stroke-width="0.35" vector-effect="non-scaling-stroke">A</text>
<text transform="translate(309.80,427.90) scale(4.907,1)" font-size="1.04" font-weight="bold" fill="#f0a326" opacity="0.9">G</text>
<text transform="translate(313.78,427.14) scale(0.617,1)" font-size="9.38" font-weight="bold" fill="#1c22e0" stroke="#1c22e0" stroke-width="0.35" vector-effect="non-scaling-stroke">C</text>
<text transform="translate(313.78,427.90) scale(6.248,1)" font-size="1.04" font-weight="bold" fill="#d42a2a" opacity="0.9">T</text>
<text transform="translate(317.76,427.14) scale(0.729,1)" font-size="9.38" font-weight="bold" fill="#d42a2a" stroke="#d42a2a" stroke-width="0.35" vector-effect="non-scaling-stroke">T</text>
<text transform="translate(317.76,427.90) scale(4.907,1)" font-size="1.04" font-weight="bold" fill="#f0a326" opacity="0.9">G</text>
<text transform="translate(321.74,427.14) scale(0.617,1)" font-size="9.38" font-weight="bold" fill="#1c22e0" stroke="#1c22e0" stroke-width="0.35" vector-effect="non-scaling-stroke">C</text>
<text transform="translate(321.74,427.90) scale(4.907,1)" font-size="1.04" font-weight="bold" fill="#f0a326" opacity="0.9">G</text>
<text transform="translate(325.72,427.14) scale(0.617,1)" font-size="9.38" font-weight="bold" fill="#1c22e0" stroke="#1c22e0" stroke-width="0.35" vector-effect="non-scaling-stroke">C</text>
<text transform="translate(325.72,427.90) scale(4.907,1)" font-size="1.04" font-weight="bold" fill="#f0a326" opacity="0.9">G</text>
<text transform="translate(329.70,427.14) scale(0.572,1)" font-size="9.38" font-weight="bold" fill="#f0a326" stroke="#f0a326" stroke-width="0.35" vector-effect="non-scaling-stroke">G</text>
<text transform="translate(329.70,427.90) scale(5.288,1)" font-size="1.04" font-weight="bold" fill="#1c22e0" opacity="0.9">C</text>
<text transform="translate(333.68,427.14) scale(0.617,1)" font-size="9.38" font-weight="bold" fill="#3fb030" stroke="#3fb030" stroke-width="0.35" vector-effect="non-scaling-stroke">A</text>
<text transform="translate(333.68,427.90) scale(6.248,1)" font-size="1.04" font-weight="bold" fill="#d42a2a" opacity="0.9">T</text>
<text transform="translate(337.66,427.14) scale(0.617,1)" font-size="9.38" font-weight="bold" fill="#3fb030" stroke="#3fb030" stroke-width="0.35" vector-effect="non-scaling-stroke">A</text>
<text transform="translate(337.66,427.90) scale(6.248,1)" font-size="1.04" font-weight="bold" fill="#d42a2a" opacity="0.9">T</text>
<text transform="translate(341.64,427.14) scale(0.617,1)" font-size="9.38" font-weight="bold" fill="#1c22e0" stroke="#1c22e0" stroke-width="0.35" vector-effect="non-scaling-stroke">C</text>
<text transform="translate(341.64,427.90) scale(5.288,1)" font-size="1.04" font-weight="bold" fill="#3fb030" opacity="0.9">A</text>
<text transform="translate(345.62,427.14) scale(0.572,1)" font-size="9.38" font-weight="bold" fill="#f0a326" stroke="#f0a326" stroke-width="0.35" vector-effect="non-scaling-stroke">G</text>
<text transform="translate(345.62,427.90) scale(5.288,1)" font-size="1.04" font-weight="bold" fill="#1c22e0" opacity="0.9">C</text>
<text x="8.70" y="439.30" font-size="10.50" font-weight="bold" fill="#000" stroke="#000" stroke-width="0.55" >F</text>
<rect x="166.70" y="443.00" width="5.20" height="163.00" fill="#e6cfdb" />
<rect x="172.90" y="443.00" width="7.50" height="163.00" fill="#e6cfdb" />
<rect x="201.50" y="443.00" width="5.10" height="163.00" fill="#e6cfdb" />
<rect x="208.50" y="443.00" width="5.40" height="163.00" fill="#e6cfdb" />
<rect x="245.00" y="443.00" width="5.20" height="163.00" fill="#e6cfdb" />
<rect x="171.90" y="443.00" width="1.00" height="163.00" fill="#f1e4ec" />
<line x1="41.80" y1="443.20" x2="41.80" y2="604.40" stroke="#8a8a8a" stroke-width="1.1" />
<text x="44.90" y="449.60" font-size="8.74" textLength="4.34" lengthAdjust="spacingAndGlyphs" stroke="#231f20" stroke-width="0.12" >4</text>
<path d="M43.00,465.60h0.60v-1.08h-0.60ZM44.10,465.60h0.60v-1.08h-0.60ZM44.65,465.60h0.60v-1.34h-0.60ZM45.20,465.60h0.60v-2.14h-0.60ZM45.75,465.60h0.60v-2.67h-0.60ZM46.30,465.60h0.60v-0.90h-0.60ZM46.85,465.60h0.60v-1.82h-0.60ZM47.40,465.60h0.60v-2.22h-0.60ZM47.95,465.60h0.60v-2.77h-0.60ZM48.50,465.60h0.60v-2.52h-0.60ZM49.05,465.60h0.60v-2.39h-0.60ZM49.60,465.60h0.60v-2.17h-0.60ZM50.15,465.60h0.60v-1.55h-0.60ZM50.70,465.60h0.60v-0.91h-0.60ZM51.25,465.60h0.60v-1.54h-0.60ZM51.80,465.60h0.60v-2.60h-0.60ZM52.35,465.60h0.60v-2.01h-0.60ZM52.90,465.60h0.60v-0.92h-0.60ZM53.45,465.60h0.60v-0.90h-0.60ZM54.00,465.60h0.60v-3.09h-0.60ZM54.55,465.60h0.60v-2.68h-0.60ZM55.10,465.60h0.60v-2.42h-0.60ZM55.65,465.60h0.60v-1.47h-0.60ZM56.20,465.60h0.60v-1.44h-0.60ZM56.75,465.60h0.60v-2.09h-0.60ZM57.30,465.60h0.60v-2.46h-0.60ZM57.85,465.60h0.60v-1.17h-0.60ZM58.40,465.60h0.60v-1.95h-0.60ZM59.50,465.60h0.60v-0.97h-0.60ZM60.05,465.60h0.60v-1.58h-0.60ZM60.60,465.60h0.60v-1.40h-0.60ZM61.15,465.60h0.60v-1.37h-0.60ZM62.25,465.60h0.60v-1.46h-0.60ZM62.80,465.60h0.60v-1.40h-0.60ZM63.35,465.60h0.60v-1.17h-0.60ZM63.90,465.60h0.60v-2.53h-0.60ZM64.45,465.60h0.60v-3.04h-0.60ZM65.00,465.60h0.60v-4.23h-0.60ZM65.55,465.60h0.60v-8.91h-0.60ZM66.10,465.60h0.60v-7.40h-0.60ZM66.65,465.60h0.60v-5.39h-0.60ZM67.20,465.60h0.60v-7.26h-0.60ZM67.75,465.60h0.60v-7.15h-0.60ZM68.30,465.60h0.60v-7.92h-0.60ZM68.85,465.60h0.60v-11.45h-0.60ZM69.40,465.60h0.60v-8.54h-0.60ZM69.95,465.60h0.60v-8.38h-0.60ZM70.50,465.60h0.60v-9.58h-0.60ZM71.05,465.60h0.60v-7.35h-0.60ZM71.60,465.60h0.60v-4.40h-0.60ZM72.15,465.60h0.60v-3.70h-0.60ZM72.70,465.60h0.60v-2.55h-0.60ZM73.25,465.60h0.60v-1.18h-0.60ZM73.80,465.60h0.60v-1.08h-0.60ZM74.35,465.60h0.60v-1.60h-0.60ZM74.90,465.60h0.60v-1.45h-0.60ZM75.45,465.60h0.60v-1.07h-0.60ZM76.00,465.60h0.60v-1.53h-0.60ZM76.55,465.60h0.60v-0.90h-0.60ZM77.10,465.60h0.60v-1.52h-0.60ZM77.65,465.60h0.60v-1.43h-0.60ZM78.20,465.60h0.60v-1.42h-0.60ZM78.75,465.60h0.60v-1.09h-0.60ZM79.30,465.60h0.60v-1.69h-0.60ZM79.85,465.60h0.60v-1.37h-0.60ZM80.40,465.60h0.60v-1.63h-0.60ZM80.95,465.60h0.60v-0.92h-0.60ZM81.50,465.60h0.60v-2.09h-0.60ZM82.05,465.60h0.60v-1.37h-0.60ZM82.60,465.60h0.60v-1.88h-0.60ZM83.15,465.60h0.60v-1.29h-0.60ZM83.70,465.60h0.60v-1.39h-0.60ZM84.25,465.60h0.60v-2.76h-0.60ZM84.80,465.60h0.60v-0.90h-0.60ZM85.35,465.60h0.60v-3.11h-0.60ZM85.90,465.60h0.60v-1.51h-0.60ZM86.45,465.60h0.60v-2.90h-0.60ZM87.00,465.60h0.60v-1.03h-0.60ZM87.55,465.60h0.60v-1.90h-0.60ZM88.10,465.60h0.60v-0.92h-0.60ZM88.65,465.60h0.60v-0.96h-0.60ZM89.20,465.60h0.60v-3.05h-0.60ZM89.75,465.60h0.60v-1.41h-0.60ZM90.30,465.60h0.60v-0.91h-0.60ZM90.85,465.60h0.60v-2.86h-0.60ZM91.40,465.60h0.60v-2.41h-0.60ZM91.95,465.60h0.60v-0.92h-0.60ZM92.50,465.60h0.60v-1.23h-0.60ZM93.05,465.60h0.60v-0.95h-0.60ZM93.60,465.60h0.60v-1.02h-0.60ZM94.15,465.60h0.60v-2.32h-0.60ZM94.70,465.60h0.60v-3.40h-0.60ZM95.25,465.60h0.60v-3.11h-0.60ZM95.80,465.60h0.60v-3.31h-0.60ZM96.35,465.60h0.60v-1.57h-0.60ZM96.90,465.60h0.60v-0.97h-0.60ZM97.45,465.60h0.60v-2.25h-0.60ZM98.00,465.60h0.60v-1.43h-0.60ZM98.55,465.60h0.60v-2.70h-0.60ZM99.10,465.60h0.60v-2.76h-0.60ZM99.65,465.60h0.60v-0.91h-0.60ZM100.20,465.60h0.60v-1.14h-0.60ZM100.75,465.60h0.60v-1.32h-0.60ZM101.30,465.60h0.60v-1.19h-0.60ZM101.85,465.60h0.60v-2.40h-0.60ZM102.95,465.60h0.60v-2.96h-0.60ZM103.50,465.60h0.60v-1.05h-0.60ZM104.05,465.60h0.60v-1.02h-0.60ZM104.60,465.60h0.60v-0.93h-0.60ZM105.15,465.60h0.60v-1.21h-0.60ZM105.70,465.60h0.60v-2.15h-0.60ZM106.25,465.60h0.60v-2.74h-0.60ZM106.80,465.60h0.60v-2.51h-0.60ZM107.35,465.60h0.60v-2.70h-0.60ZM107.90,465.60h0.60v-2.62h-0.60ZM108.45,465.60h0.60v-2.56h-0.60ZM109.00,465.60h0.60v-2.75h-0.60ZM109.55,465.60h0.60v-1.86h-0.60ZM110.10,465.60h0.60v-2.62h-0.60ZM110.65,465.60h0.60v-1.09h-0.60ZM111.75,465.60h0.60v-2.69h-0.60ZM112.30,465.60h0.60v-2.34h-0.60ZM113.40,465.60h0.60v-1.49h-0.60ZM113.95,465.60h0.60v-2.22h-0.60ZM114.50,465.60h0.60v-1.45h-0.60ZM115.05,465.60h0.60v-1.32h-0.60ZM115.60,465.60h0.60v-1.72h-0.60ZM116.15,465.60h0.60v-2.40h-0.60ZM116.70,465.60h0.60v-1.43h-0.60ZM117.25,465.60h0.60v-2.12h-0.60ZM117.80,465.60h0.60v-2.61h-0.60ZM118.35,465.60h0.60v-2.47h-0.60ZM118.90,465.60h0.60v-2.49h-0.60ZM119.45,465.60h0.60v-2.21h-0.60ZM120.00,465.60h0.60v-2.21h-0.60ZM120.55,465.60h0.60v-4.32h-0.60ZM121.10,465.60h0.60v-4.25h-0.60ZM121.65,465.60h0.60v-2.59h-0.60ZM122.20,465.60h0.60v-2.83h-0.60ZM122.75,465.60h0.60v-1.94h-0.60ZM123.30,465.60h0.60v-1.71h-0.60ZM123.85,465.60h0.60v-2.27h-0.60ZM124.40,465.60h0.60v-0.94h-0.60ZM124.95,465.60h0.60v-1.03h-0.60ZM125.50,465.60h0.60v-1.30h-0.60ZM126.05,465.60h0.60v-1.37h-0.60ZM126.60,465.60h0.60v-1.31h-0.60ZM127.15,465.60h0.60v-1.01h-0.60ZM127.70,465.60h0.60v-1.19h-0.60ZM128.25,465.60h0.60v-1.49h-0.60ZM128.80,465.60h0.60v-1.65h-0.60ZM129.35,465.60h0.60v-0.93h-0.60ZM129.90,465.60h0.60v-1.04h-0.60ZM130.45,465.60h0.60v-0.91h-0.60ZM131.00,465.60h0.60v-1.01h-0.60ZM131.55,465.60h0.60v-1.22h-0.60ZM132.10,465.60h0.60v-1.35h-0.60ZM132.65,465.60h0.60v-1.40h-0.60ZM133.20,465.60h0.60v-0.90h-0.60Z" fill="#c4161e"/>
<path d="M146.30,465.60h0.60v-1.64h-0.60ZM146.85,465.60h0.60v-2.61h-0.60ZM147.40,465.60h0.60v-1.48h-0.60ZM147.95,465.60h0.60v-1.71h-0.60ZM148.50,465.60h0.60v-2.58h-0.60ZM149.05,465.60h0.60v-1.19h-0.60ZM149.60,465.60h0.60v-1.84h-0.60ZM150.15,465.60h0.60v-2.55h-0.60ZM151.25,465.60h0.60v-1.71h-0.60ZM151.80,465.60h0.60v-1.84h-0.60ZM152.35,465.60h0.60v-1.35h-0.60ZM152.90,465.60h0.60v-1.27h-0.60ZM153.45,465.60h0.60v-1.29h-0.60ZM154.00,465.60h0.60v-1.74h-0.60ZM154.55,465.60h0.60v-1.76h-0.60ZM155.10,465.60h0.60v-1.54h-0.60ZM155.65,465.60h0.60v-2.12h-0.60ZM156.20,465.60h0.60v-2.85h-0.60ZM156.75,465.60h0.60v-1.50h-0.60ZM157.30,465.60h0.60v-1.75h-0.60ZM157.85,465.60h0.60v-2.05h-0.60ZM158.40,465.60h0.60v-2.17h-0.60ZM158.95,465.60h0.60v-2.37h-0.60ZM159.50,465.60h0.60v-2.84h-0.60ZM160.05,465.60h0.60v-1.84h-0.60ZM160.60,465.60h0.60v-1.82h-0.60ZM161.15,465.60h0.60v-1.00h-0.60ZM161.70,465.60h0.60v-0.94h-0.60ZM162.25,465.60h0.60v-2.84h-0.60ZM162.80,465.60h0.60v-2.49h-0.60ZM163.35,465.60h0.60v-1.13h-0.60ZM163.90,465.60h0.60v-1.87h-0.60ZM164.45,465.60h0.60v-2.93h-0.60ZM165.00,465.60h0.60v-1.48h-0.60ZM165.55,465.60h0.60v-3.06h-0.60ZM166.10,465.60h0.60v-2.94h-0.60ZM166.65,465.60h0.60v-4.03h-0.60ZM167.20,465.60h0.60v-3.52h-0.60ZM167.75,465.60h0.60v-4.51h-0.60ZM168.30,465.60h0.60v-3.62h-0.60ZM168.85,465.60h0.60v-4.67h-0.60ZM169.40,465.60h0.60v-3.90h-0.60ZM169.95,465.60h0.60v-3.14h-0.60ZM170.50,465.60h0.60v-2.33h-0.60ZM171.05,465.60h0.60v-3.01h-0.60ZM171.60,465.60h0.60v-3.11h-0.60ZM172.15,465.60h0.60v-1.00h-0.60ZM172.70,465.60h0.60v-1.50h-0.60ZM173.25,465.60h0.60v-1.74h-0.60ZM173.80,465.60h0.60v-3.44h-0.60ZM174.35,465.60h0.60v-3.20h-0.60ZM174.90,465.60h0.60v-4.82h-0.60ZM175.45,465.60h0.60v-5.46h-0.60ZM176.00,465.60h0.60v-5.43h-0.60ZM176.55,465.60h0.60v-5.65h-0.60ZM177.10,465.60h0.60v-3.75h-0.60ZM177.65,465.60h0.60v-2.68h-0.60ZM178.20,465.60h0.60v-2.41h-0.60ZM178.75,465.60h0.60v-2.72h-0.60ZM179.85,465.60h0.60v-1.17h-0.60ZM180.40,465.60h0.60v-1.63h-0.60ZM180.95,465.60h0.60v-0.95h-0.60ZM182.05,465.60h0.60v-0.99h-0.60ZM182.60,465.60h0.60v-0.90h-0.60ZM183.15,465.60h0.60v-1.58h-0.60ZM183.70,465.60h0.60v-1.42h-0.60ZM184.25,465.60h0.60v-2.69h-0.60ZM184.80,465.60h0.60v-3.03h-0.60ZM185.35,465.60h0.60v-2.76h-0.60ZM185.90,465.60h0.60v-2.60h-0.60ZM186.45,465.60h0.60v-2.69h-0.60ZM187.00,465.60h0.60v-3.42h-0.60ZM187.55,465.60h0.60v-2.78h-0.60ZM188.10,465.60h0.60v-0.91h-0.60ZM189.20,465.60h0.60v-1.74h-0.60ZM189.75,465.60h0.60v-1.31h-0.60ZM190.30,465.60h0.60v-0.90h-0.60ZM190.85,465.60h0.60v-0.92h-0.60ZM191.40,465.60h0.60v-0.98h-0.60ZM191.95,465.60h0.60v-1.02h-0.60ZM192.50,465.60h0.60v-0.93h-0.60ZM193.05,465.60h0.60v-1.58h-0.60ZM193.60,465.60h0.60v-1.22h-0.60ZM194.15,465.60h0.60v-0.99h-0.60ZM194.70,465.60h0.60v-0.90h-0.60ZM195.25,465.60h0.60v-0.92h-0.60ZM195.80,465.60h0.60v-1.02h-0.60ZM196.35,465.60h0.60v-1.85h-0.60ZM196.90,465.60h0.60v-2.49h-0.60ZM198.00,465.60h0.60v-2.09h-0.60ZM198.55,465.60h0.60v-1.04h-0.60ZM199.10,465.60h0.60v-0.90h-0.60ZM199.65,465.60h0.60v-1.58h-0.60ZM200.20,465.60h0.60v-0.97h-0.60ZM200.75,465.60h0.60v-0.98h-0.60ZM201.30,465.60h0.60v-1.37h-0.60ZM201.85,465.60h0.60v-1.70h-0.60ZM202.40,465.60h0.60v-3.43h-0.60ZM202.95,465.60h0.60v-3.04h-0.60ZM203.50,465.60h0.60v-3.61h-0.60ZM204.05,465.60h0.60v-5.12h-0.60ZM204.60,465.60h0.60v-3.53h-0.60ZM205.15,465.60h0.60v-5.04h-0.60ZM205.70,465.60h0.60v-2.55h-0.60ZM206.25,465.60h0.60v-2.14h-0.60ZM206.80,465.60h0.60v-2.99h-0.60ZM207.35,465.60h0.60v-1.21h-0.60ZM207.90,465.60h0.60v-1.19h-0.60ZM208.45,465.60h0.60v-3.85h-0.60ZM209.00,465.60h0.60v-3.19h-0.60ZM209.55,465.60h0.60v-3.68h-0.60ZM210.10,465.60h0.60v-3.83h-0.60ZM210.65,465.60h0.60v-4.32h-0.60ZM211.20,465.60h0.60v-4.43h-0.60ZM211.75,465.60h0.60v-4.03h-0.60ZM212.30,465.60h0.60v-2.37h-0.60ZM212.85,465.60h0.60v-3.02h-0.60ZM213.40,465.60h0.60v-1.81h-0.60ZM213.95,465.60h0.60v-1.40h-0.60ZM214.50,465.60h0.60v-1.38h-0.60ZM215.05,465.60h0.60v-2.05h-0.60ZM215.60,465.60h0.60v-1.89h-0.60ZM216.15,465.60h0.60v-2.05h-0.60ZM216.70,465.60h0.60v-2.28h-0.60ZM217.25,465.60h0.60v-0.91h-0.60ZM217.80,465.60h0.60v-0.90h-0.60ZM218.35,465.60h0.60v-1.33h-0.60ZM218.90,465.60h0.60v-2.77h-0.60ZM219.45,465.60h0.60v-2.38h-0.60ZM220.00,465.60h0.60v-2.10h-0.60ZM220.55,465.60h0.60v-2.80h-0.60ZM221.10,465.60h0.60v-1.87h-0.60ZM221.65,465.60h0.60v-3.02h-0.60ZM222.20,465.60h0.60v-1.02h-0.60ZM222.75,465.60h0.60v-0.90h-0.60ZM223.30,465.60h0.60v-1.00h-0.60ZM223.85,465.60h0.60v-0.96h-0.60ZM224.40,465.60h0.60v-1.82h-0.60ZM224.95,465.60h0.60v-0.97h-0.60ZM225.50,465.60h0.60v-2.28h-0.60ZM226.05,465.60h0.60v-1.31h-0.60ZM226.60,465.60h0.60v-2.28h-0.60ZM227.15,465.60h0.60v-1.14h-0.60ZM227.70,465.60h0.60v-1.56h-0.60ZM228.25,465.60h0.60v-1.47h-0.60ZM228.80,465.60h0.60v-0.90h-0.60ZM229.35,465.60h0.60v-2.90h-0.60ZM229.90,465.60h0.60v-1.92h-0.60ZM230.45,465.60h0.60v-1.98h-0.60ZM231.00,465.60h0.60v-3.49h-0.60ZM231.55,465.60h0.60v-3.98h-0.60ZM232.10,465.60h0.60v-3.04h-0.60ZM232.65,465.60h0.60v-3.12h-0.60ZM233.20,465.60h0.60v-2.50h-0.60ZM233.75,465.60h0.60v-1.28h-0.60ZM234.30,465.60h0.60v-1.09h-0.60ZM234.85,465.60h0.60v-1.00h-0.60ZM235.40,465.60h0.60v-0.90h-0.60ZM235.95,465.60h0.60v-1.04h-0.60ZM236.50,465.60h0.60v-1.05h-0.60ZM237.05,465.60h0.60v-1.01h-0.60ZM237.60,465.60h0.60v-0.91h-0.60ZM238.15,465.60h0.60v-1.54h-0.60ZM238.70,465.60h0.60v-0.91h-0.60ZM239.25,465.60h0.60v-0.90h-0.60ZM239.80,465.60h0.60v-1.52h-0.60ZM240.35,465.60h0.60v-2.19h-0.60ZM240.90,465.60h0.60v-2.96h-0.60ZM241.45,465.60h0.60v-3.94h-0.60ZM242.00,465.60h0.60v-3.39h-0.60ZM242.55,465.60h0.60v-2.44h-0.60ZM243.10,465.60h0.60v-2.40h-0.60ZM243.65,465.60h0.60v-1.39h-0.60ZM244.20,465.60h0.60v-1.10h-0.60ZM244.75,465.60h0.60v-0.90h-0.60ZM245.30,465.60h0.60v-2.60h-0.60ZM245.85,465.60h0.60v-0.92h-0.60ZM246.40,465.60h0.60v-2.54h-0.60ZM246.95,465.60h0.60v-4.79h-0.60ZM247.50,465.60h0.60v-5.08h-0.60ZM248.05,465.60h0.60v-3.51h-0.60ZM248.60,465.60h0.60v-1.98h-0.60ZM249.15,465.60h0.60v-2.39h-0.60ZM249.70,465.60h0.60v-1.42h-0.60ZM250.25,465.60h0.60v-1.00h-0.60ZM250.80,465.60h0.60v-0.90h-0.60ZM251.35,465.60h0.60v-0.98h-0.60ZM251.90,465.60h0.60v-0.96h-0.60ZM252.45,465.60h0.60v-0.90h-0.60ZM253.00,465.60h0.60v-2.64h-0.60ZM253.55,465.60h0.60v-1.28h-0.60ZM254.10,465.60h0.60v-0.93h-0.60ZM254.65,465.60h0.60v-2.25h-0.60ZM255.20,465.60h0.60v-1.21h-0.60ZM255.75,465.60h0.60v-1.02h-0.60ZM256.30,465.60h0.60v-0.99h-0.60ZM256.85,465.60h0.60v-2.03h-0.60ZM257.40,465.60h0.60v-0.93h-0.60ZM257.95,465.60h0.60v-1.55h-0.60ZM258.50,465.60h0.60v-1.27h-0.60ZM259.05,465.60h0.60v-1.83h-0.60ZM259.60,465.60h0.60v-2.66h-0.60ZM260.15,465.60h0.60v-3.70h-0.60ZM260.70,465.60h0.60v-3.31h-0.60ZM261.25,465.60h0.60v-4.92h-0.60ZM261.80,465.60h0.60v-4.22h-0.60ZM262.35,465.60h0.60v-5.27h-0.60ZM262.90,465.60h0.60v-3.58h-0.60ZM263.45,465.60h0.60v-2.23h-0.60ZM264.55,465.60h0.60v-1.75h-0.60ZM265.10,465.60h0.60v-0.93h-0.60ZM265.65,465.60h0.60v-1.48h-0.60ZM266.20,465.60h0.60v-1.03h-0.60ZM266.75,465.60h0.60v-1.63h-0.60ZM267.30,465.60h0.60v-0.99h-0.60ZM267.85,465.60h0.60v-1.19h-0.60ZM268.40,465.60h0.60v-1.06h-0.60ZM268.95,465.60h0.60v-1.18h-0.60ZM269.50,465.60h0.60v-1.50h-0.60ZM270.05,465.60h0.60v-1.63h-0.60ZM270.60,465.60h0.60v-1.10h-0.60ZM271.15,465.60h0.60v-2.10h-0.60ZM271.70,465.60h0.60v-1.14h-0.60ZM272.80,465.60h0.60v-1.99h-0.60ZM273.35,465.60h0.60v-2.70h-0.60ZM273.90,465.60h0.60v-2.27h-0.60ZM274.45,465.60h0.60v-1.78h-0.60ZM275.00,465.60h0.60v-1.99h-0.60ZM275.55,465.60h0.60v-1.12h-0.60ZM276.10,465.60h0.60v-1.00h-0.60ZM276.65,465.60h0.60v-1.84h-0.60ZM277.20,465.60h0.60v-1.00h-0.60ZM277.75,465.60h0.60v-1.29h-0.60ZM278.30,465.60h0.60v-0.95h-0.60ZM279.40,465.60h0.60v-1.04h-0.60ZM279.95,465.60h0.60v-0.97h-0.60ZM280.50,465.60h0.60v-1.56h-0.60ZM281.05,465.60h0.60v-2.10h-0.60Z" fill="#c4161e"/>
<line x1="136.30" y1="470.10" x2="140.90" y2="461.20" stroke="#111" stroke-width="1.25" />
<line x1="140.60" y1="470.10" x2="145.20" y2="461.20" stroke="#111" stroke-width="1.25" />
<text x="44.90" y="474.70" font-size="8.74" textLength="4.34" lengthAdjust="spacingAndGlyphs" stroke="#231f20" stroke-width="0.12" >4</text>
<path d="M43.00,488.40h0.60v-1.75h-0.60ZM43.55,488.40h0.60v-1.48h-0.60ZM44.10,488.40h0.60v-1.55h-0.60ZM44.65,488.40h0.60v-2.32h-0.60ZM45.20,488.40h0.60v-3.05h-0.60ZM45.75,488.40h0.60v-0.95h-0.60ZM46.30,488.40h0.60v-1.12h-0.60ZM46.85,488.40h0.60v-0.91h-0.60ZM47.40,488.40h0.60v-2.75h-0.60ZM47.95,488.40h0.60v-1.36h-0.60ZM48.50,488.40h0.60v-3.06h-0.60ZM49.05,488.40h0.60v-2.06h-0.60ZM49.60,488.40h0.60v-2.15h-0.60ZM50.15,488.40h0.60v-1.69h-0.60ZM50.70,488.40h0.60v-1.23h-0.60ZM51.25,488.40h0.60v-1.75h-0.60ZM51.80,488.40h0.60v-1.28h-0.60ZM52.35,488.40h0.60v-0.90h-0.60ZM52.90,488.40h0.60v-1.55h-0.60ZM53.45,488.40h0.60v-1.65h-0.60ZM54.55,488.40h0.60v-1.18h-0.60ZM55.10,488.40h0.60v-1.12h-0.60ZM55.65,488.40h0.60v-0.94h-0.60ZM56.20,488.40h0.60v-0.90h-0.60ZM56.75,488.40h0.60v-0.99h-0.60ZM57.85,488.40h0.60v-1.65h-0.60ZM58.40,488.40h0.60v-1.00h-0.60ZM58.95,488.40h0.60v-1.32h-0.60ZM59.50,488.40h0.60v-2.11h-0.60ZM60.05,488.40h0.60v-1.11h-0.60ZM60.60,488.40h0.60v-1.49h-0.60ZM61.15,488.40h0.60v-2.04h-0.60ZM61.70,488.40h0.60v-2.63h-0.60ZM62.25,488.40h0.60v-3.63h-0.60ZM62.80,488.40h0.60v-4.58h-0.60ZM63.35,488.40h0.60v-5.15h-0.60ZM63.90,488.40h0.60v-4.23h-0.60ZM64.45,488.40h0.60v-2.01h-0.60ZM65.00,488.40h0.60v-1.82h-0.60ZM65.55,488.40h0.60v-4.60h-0.60ZM66.10,488.40h0.60v-5.53h-0.60ZM66.65,488.40h0.60v-7.73h-0.60ZM67.20,488.40h0.60v-7.76h-0.60ZM67.75,488.40h0.60v-12.61h-0.60ZM68.30,488.40h0.60v-9.82h-0.60ZM68.85,488.40h0.60v-5.68h-0.60ZM69.40,488.40h0.60v-3.27h-0.60ZM69.95,488.40h0.60v-2.43h-0.60ZM70.50,488.40h0.60v-4.81h-0.60ZM71.05,488.40h0.60v-3.04h-0.60ZM71.60,488.40h0.60v-5.60h-0.60ZM72.15,488.40h0.60v-4.24h-0.60ZM72.70,488.40h0.60v-3.48h-0.60ZM73.25,488.40h0.60v-1.92h-0.60ZM73.80,488.40h0.60v-1.72h-0.60ZM74.35,488.40h0.60v-1.83h-0.60ZM74.90,488.40h0.60v-1.08h-0.60ZM75.45,488.40h0.60v-0.96h-0.60ZM76.00,488.40h0.60v-2.43h-0.60ZM76.55,488.40h0.60v-2.61h-0.60ZM77.10,488.40h0.60v-1.47h-0.60ZM77.65,488.40h0.60v-4.34h-0.60ZM78.20,488.40h0.60v-3.96h-0.60ZM78.75,488.40h0.60v-0.98h-0.60ZM79.30,488.40h0.60v-0.98h-0.60ZM79.85,488.40h0.60v-1.47h-0.60ZM80.40,488.40h0.60v-1.09h-0.60ZM80.95,488.40h0.60v-3.89h-0.60ZM81.50,488.40h0.60v-1.83h-0.60ZM82.05,488.40h0.60v-2.85h-0.60ZM82.60,488.40h0.60v-0.91h-0.60ZM83.15,488.40h0.60v-0.93h-0.60ZM83.70,488.40h0.60v-2.30h-0.60ZM84.25,488.40h0.60v-2.42h-0.60ZM84.80,488.40h0.60v-2.54h-0.60ZM85.90,488.40h0.60v-4.39h-0.60ZM86.45,488.40h0.60v-3.32h-0.60ZM87.00,488.40h0.60v-1.82h-0.60ZM87.55,488.40h0.60v-5.59h-0.60ZM88.10,488.40h0.60v-3.01h-0.60ZM88.65,488.40h0.60v-3.80h-0.60ZM89.20,488.40h0.60v-5.62h-0.60ZM89.75,488.40h0.60v-3.77h-0.60ZM90.30,488.40h0.60v-4.44h-0.60ZM90.85,488.40h0.60v-5.28h-0.60ZM91.40,488.40h0.60v-3.63h-0.60ZM91.95,488.40h0.60v-2.65h-0.60ZM92.50,488.40h0.60v-4.21h-0.60ZM93.05,488.40h0.60v-3.51h-0.60ZM93.60,488.40h0.60v-1.72h-0.60ZM94.15,488.40h0.60v-2.68h-0.60ZM94.70,488.40h0.60v-2.88h-0.60ZM95.25,488.40h0.60v-0.94h-0.60ZM95.80,488.40h0.60v-1.31h-0.60ZM96.35,488.40h0.60v-1.78h-0.60ZM96.90,488.40h0.60v-3.21h-0.60ZM97.45,488.40h0.60v-1.69h-0.60ZM98.00,488.40h0.60v-2.88h-0.60ZM98.55,488.40h0.60v-2.96h-0.60ZM99.10,488.40h0.60v-2.86h-0.60ZM99.65,488.40h0.60v-3.84h-0.60ZM100.20,488.40h0.60v-3.78h-0.60ZM100.75,488.40h0.60v-4.12h-0.60ZM101.30,488.40h0.60v-5.05h-0.60ZM101.85,488.40h0.60v-1.80h-0.60ZM102.40,488.40h0.60v-2.69h-0.60ZM102.95,488.40h0.60v-2.68h-0.60ZM103.50,488.40h0.60v-1.77h-0.60ZM104.05,488.40h0.60v-2.44h-0.60ZM104.60,488.40h0.60v-1.46h-0.60ZM105.15,488.40h0.60v-2.46h-0.60ZM106.25,488.40h0.60v-2.21h-0.60ZM106.80,488.40h0.60v-3.56h-0.60ZM107.35,488.40h0.60v-2.15h-0.60ZM107.90,488.40h0.60v-3.52h-0.60ZM108.45,488.40h0.60v-11.52h-0.60ZM109.00,488.40h0.60v-5.14h-0.60ZM109.55,488.40h0.60v-3.08h-0.60ZM110.10,488.40h0.60v-1.51h-0.60ZM110.65,488.40h0.60v-1.03h-0.60ZM111.20,488.40h0.60v-2.96h-0.60ZM111.75,488.40h0.60v-0.99h-0.60ZM112.30,488.40h0.60v-1.18h-0.60ZM112.85,488.40h0.60v-2.41h-0.60ZM113.40,488.40h0.60v-2.93h-0.60ZM113.95,488.40h0.60v-1.09h-0.60ZM114.50,488.40h0.60v-2.92h-0.60ZM115.05,488.40h0.60v-2.71h-0.60ZM115.60,488.40h0.60v-1.18h-0.60ZM116.15,488.40h0.60v-1.79h-0.60ZM116.70,488.40h0.60v-1.21h-0.60ZM117.80,488.40h0.60v-2.52h-0.60ZM118.35,488.40h0.60v-1.19h-0.60ZM118.90,488.40h0.60v-2.79h-0.60ZM119.45,488.40h0.60v-1.94h-0.60ZM120.00,488.40h0.60v-3.05h-0.60ZM120.55,488.40h0.60v-3.10h-0.60ZM121.10,488.40h0.60v-3.95h-0.60ZM121.65,488.40h0.60v-3.96h-0.60ZM122.20,488.40h0.60v-2.94h-0.60ZM122.75,488.40h0.60v-4.25h-0.60ZM123.30,488.40h0.60v-2.81h-0.60ZM123.85,488.40h0.60v-3.52h-0.60ZM124.40,488.40h0.60v-2.80h-0.60ZM124.95,488.40h0.60v-3.05h-0.60ZM125.50,488.40h0.60v-1.17h-0.60ZM126.05,488.40h0.60v-0.91h-0.60ZM126.60,488.40h0.60v-1.05h-0.60ZM127.15,488.40h0.60v-2.84h-0.60ZM127.70,488.40h0.60v-2.12h-0.60ZM128.25,488.40h0.60v-1.91h-0.60ZM128.80,488.40h0.60v-0.91h-0.60ZM129.35,488.40h0.60v-2.59h-0.60ZM129.90,488.40h0.60v-1.89h-0.60ZM130.45,488.40h0.60v-2.25h-0.60ZM131.00,488.40h0.60v-2.23h-0.60ZM131.55,488.40h0.60v-1.47h-0.60ZM132.10,488.40h0.60v-1.72h-0.60ZM132.65,488.40h0.60v-1.49h-0.60ZM133.20,488.40h0.60v-2.67h-0.60Z" fill="#3f6cb2"/>
<path d="M146.30,488.40h0.60v-0.91h-0.60ZM146.85,488.40h0.60v-1.35h-0.60ZM147.40,488.40h0.60v-0.99h-0.60ZM147.95,488.40h0.60v-0.99h-0.60ZM148.50,488.40h0.60v-1.77h-0.60ZM149.05,488.40h0.60v-1.49h-0.60ZM149.60,488.40h0.60v-2.35h-0.60ZM150.70,488.40h0.60v-1.51h-0.60ZM151.25,488.40h0.60v-0.94h-0.60ZM151.80,488.40h0.60v-0.95h-0.60ZM152.35,488.40h0.60v-1.71h-0.60ZM152.90,488.40h0.60v-1.72h-0.60ZM153.45,488.40h0.60v-2.05h-0.60ZM154.00,488.40h0.60v-0.93h-0.60ZM155.10,488.40h0.60v-2.32h-0.60ZM155.65,488.40h0.60v-1.70h-0.60ZM156.20,488.40h0.60v-0.90h-0.60ZM156.75,488.40h0.60v-1.14h-0.60ZM157.30,488.40h0.60v-0.90h-0.60ZM157.85,488.40h0.60v-0.91h-0.60ZM158.40,488.40h0.60v-1.52h-0.60ZM158.95,488.40h0.60v-1.93h-0.60ZM159.50,488.40h0.60v-0.96h-0.60ZM160.05,488.40h0.60v-1.38h-0.60ZM160.60,488.40h0.60v-0.91h-0.60ZM161.15,488.40h0.60v-1.64h-0.60ZM161.70,488.40h0.60v-1.24h-0.60ZM162.25,488.40h0.60v-1.33h-0.60ZM162.80,488.40h0.60v-1.13h-0.60ZM164.45,488.40h0.60v-1.05h-0.60ZM165.00,488.40h0.60v-1.68h-0.60ZM165.55,488.40h0.60v-0.95h-0.60ZM166.10,488.40h0.60v-1.86h-0.60ZM166.65,488.40h0.60v-0.98h-0.60ZM167.20,488.40h0.60v-2.73h-0.60ZM167.75,488.40h0.60v-1.83h-0.60ZM168.30,488.40h0.60v-2.76h-0.60ZM168.85,488.40h0.60v-3.16h-0.60ZM169.40,488.40h0.60v-2.81h-0.60ZM169.95,488.40h0.60v-1.86h-0.60ZM170.50,488.40h0.60v-0.93h-0.60ZM171.05,488.40h0.60v-1.20h-0.60ZM171.60,488.40h0.60v-0.93h-0.60ZM172.15,488.40h0.60v-2.03h-0.60ZM172.70,488.40h0.60v-0.90h-0.60ZM173.25,488.40h0.60v-1.98h-0.60ZM173.80,488.40h0.60v-1.68h-0.60ZM174.35,488.40h0.60v-2.02h-0.60ZM174.90,488.40h0.60v-0.90h-0.60ZM175.45,488.40h0.60v-1.31h-0.60ZM176.00,488.40h0.60v-2.53h-0.60ZM176.55,488.40h0.60v-2.56h-0.60ZM177.10,488.40h0.60v-4.26h-0.60ZM177.65,488.40h0.60v-3.61h-0.60ZM178.20,488.40h0.60v-1.47h-0.60ZM178.75,488.40h0.60v-2.33h-0.60ZM179.30,488.40h0.60v-2.38h-0.60ZM179.85,488.40h0.60v-0.93h-0.60ZM180.40,488.40h0.60v-1.34h-0.60ZM180.95,488.40h0.60v-1.29h-0.60ZM181.50,488.40h0.60v-2.09h-0.60ZM182.05,488.40h0.60v-0.92h-0.60ZM182.60,488.40h0.60v-1.02h-0.60ZM183.15,488.40h0.60v-0.96h-0.60ZM183.70,488.40h0.60v-1.63h-0.60ZM184.25,488.40h0.60v-0.90h-0.60ZM184.80,488.40h0.60v-1.30h-0.60ZM185.35,488.40h0.60v-1.45h-0.60ZM185.90,488.40h0.60v-0.90h-0.60ZM186.45,488.40h0.60v-0.93h-0.60ZM187.00,488.40h0.60v-1.79h-0.60ZM187.55,488.40h0.60v-1.05h-0.60ZM188.10,488.40h0.60v-0.91h-0.60ZM188.65,488.40h0.60v-1.68h-0.60ZM189.20,488.40h0.60v-1.67h-0.60ZM189.75,488.40h0.60v-0.90h-0.60ZM190.30,488.40h0.60v-1.55h-0.60ZM190.85,488.40h0.60v-0.96h-0.60ZM191.40,488.40h0.60v-1.52h-0.60ZM191.95,488.40h0.60v-0.90h-0.60ZM192.50,488.40h0.60v-2.07h-0.60ZM193.05,488.40h0.60v-1.07h-0.60ZM193.60,488.40h0.60v-2.32h-0.60ZM194.15,488.40h0.60v-2.22h-0.60ZM194.70,488.40h0.60v-1.25h-0.60ZM195.25,488.40h0.60v-2.57h-0.60ZM195.80,488.40h0.60v-0.90h-0.60ZM196.35,488.40h0.60v-1.40h-0.60ZM196.90,488.40h0.60v-0.99h-0.60ZM197.45,488.40h0.60v-0.95h-0.60ZM198.00,488.40h0.60v-1.48h-0.60ZM198.55,488.40h0.60v-1.94h-0.60ZM199.10,488.40h0.60v-0.94h-0.60ZM199.65,488.40h0.60v-1.06h-0.60ZM200.20,488.40h0.60v-1.09h-0.60ZM200.75,488.40h0.60v-2.12h-0.60ZM201.30,488.40h0.60v-1.90h-0.60ZM201.85,488.40h0.60v-2.98h-0.60ZM202.40,488.40h0.60v-1.55h-0.60ZM202.95,488.40h0.60v-2.15h-0.60ZM203.50,488.40h0.60v-1.77h-0.60ZM204.05,488.40h0.60v-2.60h-0.60ZM204.60,488.40h0.60v-0.97h-0.60ZM205.15,488.40h0.60v-2.48h-0.60ZM205.70,488.40h0.60v-0.96h-0.60ZM206.25,488.40h0.60v-1.71h-0.60ZM206.80,488.40h0.60v-2.84h-0.60ZM207.35,488.40h0.60v-1.53h-0.60ZM207.90,488.40h0.60v-1.04h-0.60ZM208.45,488.40h0.60v-3.41h-0.60ZM209.00,488.40h0.60v-2.25h-0.60ZM209.55,488.40h0.60v-2.49h-0.60ZM210.10,488.40h0.60v-3.64h-0.60ZM210.65,488.40h0.60v-3.27h-0.60ZM211.20,488.40h0.60v-3.48h-0.60ZM211.75,488.40h0.60v-1.77h-0.60ZM212.30,488.40h0.60v-0.99h-0.60ZM212.85,488.40h0.60v-1.33h-0.60ZM213.40,488.40h0.60v-1.10h-0.60ZM213.95,488.40h0.60v-0.91h-0.60ZM214.50,488.40h0.60v-1.11h-0.60ZM215.05,488.40h0.60v-1.31h-0.60ZM215.60,488.40h0.60v-1.51h-0.60ZM216.15,488.40h0.60v-1.74h-0.60ZM216.70,488.40h0.60v-1.01h-0.60ZM217.25,488.40h0.60v-1.57h-0.60ZM217.80,488.40h0.60v-1.20h-0.60ZM218.35,488.40h0.60v-0.92h-0.60ZM218.90,488.40h0.60v-2.03h-0.60ZM219.45,488.40h0.60v-1.77h-0.60ZM220.00,488.40h0.60v-2.17h-0.60ZM220.55,488.40h0.60v-2.89h-0.60ZM221.10,488.40h0.60v-1.06h-0.60ZM221.65,488.40h0.60v-1.88h-0.60ZM222.20,488.40h0.60v-1.09h-0.60ZM222.75,488.40h0.60v-1.32h-0.60ZM223.30,488.40h0.60v-1.54h-0.60ZM223.85,488.40h0.60v-1.24h-0.60ZM224.40,488.40h0.60v-0.97h-0.60ZM224.95,488.40h0.60v-2.03h-0.60ZM225.50,488.40h0.60v-2.43h-0.60ZM226.05,488.40h0.60v-1.06h-0.60ZM226.60,488.40h0.60v-1.75h-0.60ZM227.15,488.40h0.60v-0.90h-0.60ZM227.70,488.40h0.60v-0.90h-0.60ZM228.25,488.40h0.60v-0.90h-0.60ZM228.80,488.40h0.60v-0.90h-0.60ZM229.35,488.40h0.60v-1.45h-0.60ZM229.90,488.40h0.60v-1.02h-0.60ZM230.45,488.40h0.60v-0.90h-0.60ZM231.00,488.40h0.60v-1.32h-0.60ZM231.55,488.40h0.60v-1.44h-0.60ZM232.10,488.40h0.60v-1.30h-0.60ZM232.65,488.40h0.60v-1.70h-0.60ZM233.20,488.40h0.60v-1.98h-0.60ZM233.75,488.40h0.60v-1.00h-0.60ZM234.30,488.40h0.60v-0.93h-0.60ZM234.85,488.40h0.60v-0.95h-0.60ZM235.40,488.40h0.60v-1.06h-0.60ZM236.50,488.40h0.60v-1.13h-0.60ZM237.05,488.40h0.60v-1.73h-0.60ZM237.60,488.40h0.60v-1.07h-0.60ZM238.15,488.40h0.60v-2.24h-0.60ZM238.70,488.40h0.60v-1.16h-0.60ZM239.25,488.40h0.60v-0.91h-0.60ZM239.80,488.40h0.60v-0.97h-0.60ZM240.35,488.40h0.60v-1.43h-0.60ZM240.90,488.40h0.60v-1.21h-0.60ZM241.45,488.40h0.60v-2.10h-0.60ZM242.00,488.40h0.60v-1.04h-0.60ZM242.55,488.40h0.60v-1.14h-0.60ZM243.10,488.40h0.60v-1.34h-0.60ZM243.65,488.40h0.60v-1.62h-0.60ZM244.20,488.40h0.60v-0.90h-0.60ZM244.75,488.40h0.60v-0.94h-0.60ZM245.30,488.40h0.60v-1.77h-0.60ZM245.85,488.40h0.60v-0.92h-0.60ZM246.40,488.40h0.60v-1.24h-0.60ZM246.95,488.40h0.60v-1.97h-0.60ZM247.50,488.40h0.60v-2.39h-0.60ZM248.05,488.40h0.60v-1.54h-0.60ZM248.60,488.40h0.60v-0.92h-0.60ZM249.15,488.40h0.60v-2.27h-0.60ZM249.70,488.40h0.60v-1.11h-0.60ZM250.25,488.40h0.60v-1.97h-0.60ZM250.80,488.40h0.60v-2.25h-0.60ZM251.35,488.40h0.60v-1.07h-0.60ZM251.90,488.40h0.60v-1.18h-0.60ZM252.45,488.40h0.60v-1.21h-0.60ZM253.00,488.40h0.60v-1.69h-0.60ZM253.55,488.40h0.60v-1.63h-0.60ZM254.10,488.40h0.60v-2.02h-0.60ZM254.65,488.40h0.60v-1.23h-0.60ZM255.20,488.40h0.60v-2.64h-0.60ZM255.75,488.40h0.60v-2.63h-0.60ZM256.30,488.40h0.60v-3.01h-0.60ZM256.85,488.40h0.60v-2.26h-0.60ZM257.40,488.40h0.60v-0.95h-0.60ZM257.95,488.40h0.60v-2.27h-0.60ZM258.50,488.40h0.60v-0.96h-0.60ZM259.60,488.40h0.60v-1.38h-0.60ZM260.15,488.40h0.60v-2.06h-0.60ZM261.25,488.40h0.60v-2.13h-0.60ZM261.80,488.40h0.60v-1.02h-0.60ZM262.35,488.40h0.60v-2.34h-0.60ZM262.90,488.40h0.60v-1.38h-0.60ZM263.45,488.40h0.60v-1.09h-0.60ZM264.00,488.40h0.60v-2.16h-0.60ZM264.55,488.40h0.60v-1.30h-0.60ZM265.10,488.40h0.60v-1.22h-0.60ZM266.20,488.40h0.60v-1.98h-0.60ZM266.75,488.40h0.60v-1.48h-0.60ZM267.30,488.40h0.60v-1.94h-0.60ZM267.85,488.40h0.60v-2.40h-0.60ZM268.40,488.40h0.60v-2.35h-0.60ZM268.95,488.40h0.60v-1.15h-0.60ZM269.50,488.40h0.60v-1.69h-0.60ZM270.05,488.40h0.60v-2.47h-0.60ZM270.60,488.40h0.60v-1.50h-0.60ZM271.15,488.40h0.60v-1.24h-0.60ZM271.70,488.40h0.60v-2.67h-0.60ZM272.25,488.40h0.60v-1.54h-0.60ZM272.80,488.40h0.60v-2.35h-0.60ZM273.35,488.40h0.60v-1.09h-0.60ZM273.90,488.40h0.60v-0.93h-0.60ZM274.45,488.40h0.60v-1.95h-0.60ZM275.00,488.40h0.60v-0.98h-0.60ZM275.55,488.40h0.60v-1.02h-0.60ZM276.10,488.40h0.60v-2.05h-0.60ZM276.65,488.40h0.60v-2.48h-0.60ZM277.20,488.40h0.60v-0.91h-0.60ZM277.75,488.40h0.60v-0.95h-0.60ZM278.30,488.40h0.60v-2.11h-0.60ZM278.85,488.40h0.60v-0.97h-0.60ZM279.40,488.40h0.60v-1.02h-0.60ZM279.95,488.40h0.60v-1.15h-0.60ZM280.50,488.40h0.60v-2.62h-0.60ZM281.05,488.40h0.60v-1.37h-0.60Z" fill="#3f6cb2"/>
<line x1="134.30" y1="492.90" x2="138.90" y2="484.00" stroke="#111" stroke-width="1.25" />
<line x1="138.60" y1="492.90" x2="143.20" y2="484.00" stroke="#111" stroke-width="1.25" />
<text x="44.90" y="497.00" font-size="8.74" textLength="4.34" lengthAdjust="spacingAndGlyphs" stroke="#231f20" stroke-width="0.12" >7</text>
<path d="M43.00,511.60h0.60v-0.91h-0.60ZM43.55,511.60h0.60v-1.14h-0.60ZM44.10,511.60h0.60v-1.10h-0.60ZM44.65,511.60h0.60v-1.36h-0.60ZM45.20,511.60h0.60v-1.44h-0.60ZM45.75,511.60h0.60v-1.15h-0.60ZM46.30,511.60h0.60v-1.81h-0.60ZM46.85,511.60h0.60v-1.51h-0.60ZM47.40,511.60h0.60v-1.59h-0.60ZM47.95,511.60h0.60v-0.93h-0.60ZM48.50,511.60h0.60v-0.99h-0.60ZM49.05,511.60h0.60v-1.00h-0.60ZM49.60,511.60h0.60v-1.07h-0.60ZM50.15,511.60h0.60v-0.97h-0.60ZM50.70,511.60h0.60v-0.97h-0.60ZM51.25,511.60h0.60v-1.07h-0.60ZM52.90,511.60h0.60v-0.94h-0.60ZM53.45,511.60h0.60v-1.34h-0.60ZM54.55,511.60h0.60v-1.23h-0.60ZM55.10,511.60h0.60v-1.36h-0.60ZM56.75,511.60h0.60v-0.95h-0.60ZM57.30,511.60h0.60v-2.13h-0.60ZM57.85,511.60h0.60v-1.01h-0.60ZM59.50,511.60h0.60v-0.90h-0.60ZM60.05,511.60h0.60v-1.34h-0.60ZM60.60,511.60h0.60v-1.11h-0.60ZM61.70,511.60h0.60v-1.46h-0.60ZM62.80,511.60h0.60v-1.50h-0.60ZM63.35,511.60h0.60v-1.99h-0.60ZM63.90,511.60h0.60v-3.62h-0.60ZM64.45,511.60h0.60v-7.95h-0.60ZM65.00,511.60h0.60v-8.57h-0.60ZM65.55,511.60h0.60v-9.56h-0.60ZM66.10,511.60h0.60v-14.33h-0.60ZM66.65,511.60h0.60v-12.49h-0.60ZM67.20,511.60h0.60v-7.08h-0.60ZM67.75,511.60h0.60v-6.81h-0.60ZM68.30,511.60h0.60v-7.48h-0.60ZM68.85,511.60h0.60v-4.66h-0.60ZM69.40,511.60h0.60v-3.84h-0.60ZM69.95,511.60h0.60v-3.96h-0.60ZM70.50,511.60h0.60v-4.44h-0.60ZM71.05,511.60h0.60v-3.72h-0.60ZM71.60,511.60h0.60v-3.12h-0.60ZM72.15,511.60h0.60v-2.03h-0.60ZM72.70,511.60h0.60v-2.47h-0.60ZM73.25,511.60h0.60v-2.81h-0.60ZM73.80,511.60h0.60v-2.63h-0.60ZM74.35,511.60h0.60v-3.26h-0.60ZM74.90,511.60h0.60v-2.72h-0.60ZM75.45,511.60h0.60v-1.65h-0.60ZM76.55,511.60h0.60v-2.28h-0.60ZM77.10,511.60h0.60v-0.99h-0.60ZM77.65,511.60h0.60v-2.26h-0.60ZM78.20,511.60h0.60v-1.17h-0.60ZM78.75,511.60h0.60v-1.66h-0.60ZM79.30,511.60h0.60v-1.70h-0.60ZM79.85,511.60h0.60v-0.95h-0.60ZM80.40,511.60h0.60v-0.93h-0.60ZM80.95,511.60h0.60v-1.02h-0.60ZM81.50,511.60h0.60v-0.95h-0.60ZM82.60,511.60h0.60v-1.04h-0.60ZM83.70,511.60h0.60v-1.11h-0.60ZM84.25,511.60h0.60v-1.02h-0.60ZM84.80,511.60h0.60v-1.15h-0.60ZM86.45,511.60h0.60v-1.04h-0.60ZM87.00,511.60h0.60v-1.24h-0.60ZM88.65,511.60h0.60v-1.01h-0.60ZM89.20,511.60h0.60v-0.93h-0.60ZM89.75,511.60h0.60v-0.91h-0.60ZM90.30,511.60h0.60v-0.98h-0.60ZM90.85,511.60h0.60v-1.18h-0.60ZM91.95,511.60h0.60v-1.00h-0.60ZM93.05,511.60h0.60v-1.46h-0.60ZM94.70,511.60h0.60v-1.20h-0.60ZM95.25,511.60h0.60v-0.90h-0.60ZM96.35,511.60h0.60v-0.91h-0.60ZM96.90,511.60h0.60v-0.96h-0.60ZM97.45,511.60h0.60v-1.18h-0.60ZM98.00,511.60h0.60v-0.91h-0.60ZM98.55,511.60h0.60v-0.91h-0.60ZM99.65,511.60h0.60v-1.03h-0.60ZM101.85,511.60h0.60v-1.43h-0.60ZM103.50,511.60h0.60v-0.91h-0.60ZM104.05,511.60h0.60v-1.06h-0.60ZM105.15,511.60h0.60v-0.91h-0.60ZM106.25,511.60h0.60v-1.54h-0.60ZM107.35,511.60h0.60v-1.29h-0.60ZM107.90,511.60h0.60v-2.22h-0.60ZM108.45,511.60h0.60v-1.71h-0.60ZM109.00,511.60h0.60v-1.67h-0.60ZM109.55,511.60h0.60v-1.14h-0.60ZM110.10,511.60h0.60v-0.90h-0.60ZM111.20,511.60h0.60v-0.93h-0.60ZM111.75,511.60h0.60v-0.90h-0.60ZM112.30,511.60h0.60v-1.08h-0.60ZM112.85,511.60h0.60v-1.76h-0.60ZM113.40,511.60h0.60v-1.23h-0.60ZM113.95,511.60h0.60v-1.08h-0.60ZM114.50,511.60h0.60v-0.93h-0.60ZM115.05,511.60h0.60v-1.04h-0.60ZM115.60,511.60h0.60v-0.95h-0.60ZM116.70,511.60h0.60v-1.04h-0.60ZM117.25,511.60h0.60v-1.31h-0.60ZM117.80,511.60h0.60v-1.08h-0.60ZM118.35,511.60h0.60v-1.00h-0.60ZM118.90,511.60h0.60v-1.34h-0.60ZM119.45,511.60h0.60v-1.24h-0.60ZM120.00,511.60h0.60v-0.90h-0.60ZM120.55,511.60h0.60v-2.52h-0.60ZM121.10,511.60h0.60v-3.71h-0.60ZM121.65,511.60h0.60v-4.63h-0.60ZM122.20,511.60h0.60v-4.14h-0.60ZM122.75,511.60h0.60v-1.75h-0.60ZM123.30,511.60h0.60v-0.93h-0.60ZM123.85,511.60h0.60v-1.62h-0.60ZM124.40,511.60h0.60v-0.95h-0.60ZM124.95,511.60h0.60v-0.92h-0.60ZM125.50,511.60h0.60v-0.97h-0.60ZM126.05,511.60h0.60v-1.06h-0.60ZM127.15,511.60h0.60v-0.90h-0.60ZM128.25,511.60h0.60v-1.24h-0.60ZM128.80,511.60h0.60v-1.35h-0.60ZM129.35,511.60h0.60v-0.92h-0.60ZM129.90,511.60h0.60v-1.67h-0.60ZM131.00,511.60h0.60v-0.90h-0.60ZM131.55,511.60h0.60v-0.98h-0.60ZM132.10,511.60h0.60v-1.05h-0.60ZM132.65,511.60h0.60v-1.44h-0.60ZM133.20,511.60h0.60v-0.91h-0.60Z" fill="#c4161e"/>
<path d="M146.30,511.60h0.60v-1.33h-0.60ZM146.85,511.60h0.60v-0.90h-0.60ZM147.40,511.60h0.60v-1.20h-0.60ZM147.95,511.60h0.60v-1.42h-0.60ZM148.50,511.60h0.60v-1.50h-0.60ZM149.05,511.60h0.60v-2.55h-0.60ZM149.60,511.60h0.60v-1.73h-0.60ZM150.15,511.60h0.60v-1.26h-0.60ZM150.70,511.60h0.60v-1.59h-0.60ZM151.25,511.60h0.60v-1.35h-0.60ZM151.80,511.60h0.60v-1.29h-0.60ZM152.35,511.60h0.60v-1.27h-0.60ZM152.90,511.60h0.60v-1.32h-0.60ZM153.45,511.60h0.60v-1.01h-0.60ZM154.00,511.60h0.60v-1.71h-0.60ZM154.55,511.60h0.60v-1.67h-0.60ZM155.10,511.60h0.60v-1.72h-0.60ZM155.65,511.60h0.60v-1.14h-0.60ZM156.20,511.60h0.60v-1.47h-0.60ZM156.75,511.60h0.60v-1.58h-0.60ZM157.30,511.60h0.60v-1.68h-0.60ZM157.85,511.60h0.60v-2.19h-0.60ZM158.40,511.60h0.60v-2.72h-0.60ZM158.95,511.60h0.60v-0.90h-0.60ZM159.50,511.60h0.60v-2.11h-0.60ZM160.05,511.60h0.60v-1.56h-0.60ZM160.60,511.60h0.60v-1.39h-0.60ZM161.15,511.60h0.60v-1.00h-0.60ZM161.70,511.60h0.60v-0.90h-0.60ZM162.25,511.60h0.60v-0.94h-0.60ZM162.80,511.60h0.60v-1.11h-0.60ZM163.35,511.60h0.60v-1.39h-0.60ZM163.90,511.60h0.60v-2.39h-0.60ZM164.45,511.60h0.60v-2.40h-0.60ZM165.00,511.60h0.60v-2.28h-0.60ZM165.55,511.60h0.60v-1.26h-0.60ZM166.10,511.60h0.60v-1.06h-0.60ZM166.65,511.60h0.60v-2.21h-0.60ZM167.20,511.60h0.60v-5.41h-0.60ZM167.75,511.60h0.60v-7.40h-0.60ZM168.30,511.60h0.60v-7.63h-0.60ZM168.85,511.60h0.60v-10.82h-0.60ZM169.40,511.60h0.60v-13.96h-0.60ZM169.95,511.60h0.60v-10.74h-0.60ZM170.50,511.60h0.60v-7.53h-0.60ZM171.05,511.60h0.60v-5.84h-0.60ZM171.60,511.60h0.60v-4.16h-0.60ZM172.15,511.60h0.60v-4.21h-0.60ZM172.70,511.60h0.60v-5.32h-0.60ZM173.25,511.60h0.60v-4.78h-0.60ZM173.80,511.60h0.60v-3.86h-0.60ZM174.35,511.60h0.60v-4.58h-0.60ZM174.90,511.60h0.60v-6.17h-0.60ZM175.45,511.60h0.60v-8.91h-0.60ZM176.00,511.60h0.60v-11.92h-0.60ZM176.55,511.60h0.60v-13.72h-0.60ZM177.10,511.60h0.60v-10.18h-0.60ZM177.65,511.60h0.60v-9.22h-0.60ZM178.20,511.60h0.60v-7.18h-0.60ZM178.75,511.60h0.60v-5.38h-0.60ZM179.30,511.60h0.60v-3.92h-0.60ZM179.85,511.60h0.60v-1.98h-0.60ZM180.40,511.60h0.60v-1.11h-0.60ZM180.95,511.60h0.60v-1.28h-0.60ZM181.50,511.60h0.60v-0.94h-0.60ZM182.05,511.60h0.60v-1.45h-0.60ZM182.60,511.60h0.60v-0.90h-0.60ZM183.15,511.60h0.60v-1.05h-0.60ZM183.70,511.60h0.60v-1.25h-0.60ZM184.25,511.60h0.60v-1.21h-0.60ZM184.80,511.60h0.60v-1.57h-0.60ZM185.35,511.60h0.60v-1.13h-0.60ZM185.90,511.60h0.60v-1.34h-0.60ZM186.45,511.60h0.60v-0.90h-0.60ZM187.00,511.60h0.60v-1.34h-0.60ZM187.55,511.60h0.60v-1.23h-0.60ZM188.65,511.60h0.60v-1.18h-0.60ZM189.20,511.60h0.60v-1.28h-0.60ZM189.75,511.60h0.60v-1.37h-0.60ZM190.85,511.60h0.60v-0.94h-0.60ZM191.40,511.60h0.60v-1.04h-0.60ZM191.95,511.60h0.60v-1.00h-0.60ZM192.50,511.60h0.60v-1.91h-0.60ZM193.05,511.60h0.60v-1.60h-0.60ZM193.60,511.60h0.60v-0.90h-0.60ZM194.15,511.60h0.60v-1.71h-0.60ZM194.70,511.60h0.60v-2.37h-0.60ZM195.25,511.60h0.60v-2.56h-0.60ZM195.80,511.60h0.60v-1.48h-0.60ZM196.35,511.60h0.60v-0.91h-0.60ZM197.45,511.60h0.60v-1.11h-0.60ZM198.00,511.60h0.60v-0.96h-0.60ZM198.55,511.60h0.60v-0.93h-0.60ZM199.10,511.60h0.60v-1.00h-0.60ZM199.65,511.60h0.60v-0.92h-0.60ZM200.20,511.60h0.60v-1.52h-0.60ZM200.75,511.60h0.60v-2.24h-0.60ZM201.30,511.60h0.60v-3.07h-0.60ZM201.85,511.60h0.60v-4.07h-0.60ZM202.40,511.60h0.60v-6.15h-0.60ZM202.95,511.60h0.60v-7.86h-0.60ZM203.50,511.60h0.60v-9.01h-0.60ZM204.05,511.60h0.60v-12.13h-0.60ZM204.60,511.60h0.60v-8.27h-0.60ZM205.15,511.60h0.60v-7.28h-0.60ZM205.70,511.60h0.60v-4.69h-0.60ZM206.25,511.60h0.60v-4.60h-0.60ZM206.80,511.60h0.60v-6.18h-0.60ZM207.35,511.60h0.60v-7.18h-0.60ZM207.90,511.60h0.60v-10.18h-0.60ZM208.45,511.60h0.60v-9.13h-0.60ZM209.00,511.60h0.60v-7.09h-0.60ZM209.55,511.60h0.60v-7.09h-0.60ZM210.10,511.60h0.60v-6.67h-0.60ZM210.65,511.60h0.60v-11.38h-0.60ZM211.20,511.60h0.60v-13.31h-0.60ZM211.75,511.60h0.60v-15.14h-0.60ZM212.30,511.60h0.60v-8.30h-0.60ZM212.85,511.60h0.60v-5.35h-0.60ZM213.40,511.60h0.60v-3.34h-0.60ZM215.05,511.60h0.60v-0.90h-0.60ZM215.60,511.60h0.60v-1.03h-0.60ZM216.15,511.60h0.60v-1.35h-0.60ZM216.70,511.60h0.60v-2.11h-0.60ZM217.25,511.60h0.60v-1.91h-0.60ZM217.80,511.60h0.60v-1.78h-0.60ZM218.35,511.60h0.60v-1.34h-0.60ZM218.90,511.60h0.60v-0.96h-0.60ZM219.45,511.60h0.60v-1.41h-0.60ZM220.00,511.60h0.60v-1.26h-0.60ZM220.55,511.60h0.60v-1.03h-0.60ZM221.10,511.60h0.60v-1.36h-0.60ZM221.65,511.60h0.60v-1.16h-0.60ZM222.20,511.60h0.60v-0.92h-0.60ZM222.75,511.60h0.60v-1.59h-0.60ZM223.30,511.60h0.60v-1.22h-0.60ZM223.85,511.60h0.60v-1.79h-0.60ZM224.40,511.60h0.60v-2.18h-0.60ZM224.95,511.60h0.60v-1.25h-0.60ZM225.50,511.60h0.60v-1.17h-0.60ZM226.05,511.60h0.60v-1.04h-0.60ZM226.60,511.60h0.60v-2.08h-0.60ZM227.15,511.60h0.60v-3.13h-0.60ZM227.70,511.60h0.60v-4.49h-0.60ZM228.25,511.60h0.60v-4.20h-0.60ZM228.80,511.60h0.60v-1.67h-0.60ZM229.35,511.60h0.60v-0.90h-0.60ZM229.90,511.60h0.60v-1.14h-0.60ZM230.45,511.60h0.60v-1.22h-0.60ZM231.00,511.60h0.60v-1.35h-0.60ZM231.55,511.60h0.60v-1.36h-0.60ZM232.10,511.60h0.60v-1.67h-0.60ZM232.65,511.60h0.60v-1.00h-0.60ZM233.20,511.60h0.60v-1.01h-0.60ZM234.30,511.60h0.60v-1.04h-0.60ZM234.85,511.60h0.60v-1.12h-0.60ZM236.50,511.60h0.60v-1.35h-0.60ZM237.05,511.60h0.60v-1.37h-0.60ZM237.60,511.60h0.60v-1.03h-0.60ZM238.15,511.60h0.60v-0.99h-0.60ZM238.70,511.60h0.60v-0.99h-0.60ZM239.25,511.60h0.60v-1.41h-0.60ZM239.80,511.60h0.60v-1.06h-0.60ZM240.35,511.60h0.60v-1.13h-0.60ZM240.90,511.60h0.60v-0.98h-0.60ZM241.45,511.60h0.60v-2.32h-0.60ZM242.00,511.60h0.60v-3.94h-0.60ZM242.55,511.60h0.60v-5.45h-0.60ZM243.10,511.60h0.60v-2.64h-0.60ZM243.65,511.60h0.60v-1.66h-0.60ZM244.20,511.60h0.60v-2.14h-0.60ZM244.75,511.60h0.60v-1.62h-0.60ZM245.30,511.60h0.60v-1.38h-0.60ZM245.85,511.60h0.60v-3.38h-0.60ZM246.40,511.60h0.60v-7.33h-0.60ZM246.95,511.60h0.60v-9.83h-0.60ZM247.50,511.60h0.60v-14.82h-0.60ZM248.05,511.60h0.60v-10.62h-0.60ZM248.60,511.60h0.60v-5.12h-0.60ZM249.15,511.60h0.60v-1.19h-0.60ZM250.25,511.60h0.60v-1.47h-0.60ZM250.80,511.60h0.60v-1.22h-0.60ZM251.35,511.60h0.60v-0.99h-0.60ZM251.90,511.60h0.60v-1.03h-0.60ZM252.45,511.60h0.60v-1.05h-0.60ZM253.00,511.60h0.60v-1.06h-0.60ZM253.55,511.60h0.60v-0.91h-0.60ZM254.10,511.60h0.60v-0.93h-0.60ZM254.65,511.60h0.60v-1.35h-0.60ZM255.20,511.60h0.60v-0.91h-0.60ZM255.75,511.60h0.60v-1.01h-0.60ZM256.30,511.60h0.60v-1.08h-0.60ZM256.85,511.60h0.60v-1.20h-0.60ZM257.40,511.60h0.60v-1.67h-0.60ZM257.95,511.60h0.60v-0.90h-0.60ZM258.50,511.60h0.60v-1.77h-0.60ZM259.05,511.60h0.60v-2.48h-0.60ZM259.60,511.60h0.60v-3.51h-0.60ZM260.15,511.60h0.60v-4.86h-0.60ZM260.70,511.60h0.60v-6.82h-0.60ZM261.25,511.60h0.60v-5.45h-0.60ZM261.80,511.60h0.60v-4.78h-0.60ZM262.35,511.60h0.60v-3.70h-0.60ZM262.90,511.60h0.60v-1.99h-0.60ZM263.45,511.60h0.60v-1.77h-0.60ZM264.00,511.60h0.60v-0.90h-0.60ZM264.55,511.60h0.60v-0.96h-0.60ZM265.10,511.60h0.60v-1.09h-0.60ZM265.65,511.60h0.60v-1.33h-0.60ZM266.20,511.60h0.60v-1.58h-0.60ZM266.75,511.60h0.60v-0.95h-0.60ZM267.30,511.60h0.60v-0.90h-0.60ZM267.85,511.60h0.60v-0.94h-0.60ZM268.40,511.60h0.60v-1.45h-0.60ZM268.95,511.60h0.60v-1.13h-0.60ZM269.50,511.60h0.60v-1.21h-0.60ZM270.05,511.60h0.60v-1.24h-0.60ZM271.15,511.60h0.60v-1.27h-0.60ZM271.70,511.60h0.60v-0.95h-0.60ZM272.25,511.60h0.60v-1.32h-0.60ZM272.80,511.60h0.60v-1.46h-0.60ZM273.35,511.60h0.60v-0.90h-0.60ZM273.90,511.60h0.60v-1.53h-0.60ZM275.00,511.60h0.60v-1.41h-0.60ZM275.55,511.60h0.60v-1.37h-0.60ZM276.10,511.60h0.60v-1.12h-0.60ZM276.65,511.60h0.60v-1.31h-0.60ZM277.20,511.60h0.60v-1.06h-0.60ZM277.75,511.60h0.60v-1.30h-0.60ZM278.30,511.60h0.60v-0.93h-0.60ZM278.85,511.60h0.60v-1.35h-0.60ZM279.40,511.60h0.60v-2.29h-0.60ZM279.95,511.60h0.60v-1.03h-0.60ZM280.50,511.60h0.60v-0.90h-0.60ZM281.05,511.60h0.60v-1.97h-0.60Z" fill="#c4161e"/>
<line x1="134.30" y1="516.10" x2="138.90" y2="507.20" stroke="#111" stroke-width="1.25" />
<line x1="138.60" y1="516.10" x2="143.20" y2="507.20" stroke="#111" stroke-width="1.25" />
<text x="44.90" y="521.00" font-size="8.74" textLength="4.34" lengthAdjust="spacingAndGlyphs" stroke="#231f20" stroke-width="0.12" >7</text>
<path d="M43.00,534.60h0.60v-1.06h-0.60ZM43.55,534.60h0.60v-0.93h-0.60ZM44.10,534.60h0.60v-0.97h-0.60ZM44.65,534.60h0.60v-1.31h-0.60ZM45.20,534.60h0.60v-1.10h-0.60ZM45.75,534.60h0.60v-1.06h-0.60ZM46.30,534.60h0.60v-1.37h-0.60ZM46.85,534.60h0.60v-1.52h-0.60ZM47.40,534.60h0.60v-1.73h-0.60ZM47.95,534.60h0.60v-1.37h-0.60ZM49.05,534.60h0.60v-0.93h-0.60ZM49.60,534.60h0.60v-1.61h-0.60ZM50.15,534.60h0.60v-0.97h-0.60ZM50.70,534.60h0.60v-1.84h-0.60ZM51.25,534.60h0.60v-2.02h-0.60ZM51.80,534.60h0.60v-1.29h-0.60ZM52.35,534.60h0.60v-1.68h-0.60ZM52.90,534.60h0.60v-1.92h-0.60ZM53.45,534.60h0.60v-1.45h-0.60ZM54.00,534.60h0.60v-0.90h-0.60ZM54.55,534.60h0.60v-1.60h-0.60ZM55.65,534.60h0.60v-1.11h-0.60ZM56.20,534.60h0.60v-1.66h-0.60ZM56.75,534.60h0.60v-0.90h-0.60ZM57.30,534.60h0.60v-1.14h-0.60ZM57.85,534.60h0.60v-0.99h-0.60ZM58.40,534.60h0.60v-1.88h-0.60ZM58.95,534.60h0.60v-1.46h-0.60ZM60.05,534.60h0.60v-2.27h-0.60ZM61.15,534.60h0.60v-1.27h-0.60ZM61.70,534.60h0.60v-1.69h-0.60ZM62.25,534.60h0.60v-0.98h-0.60ZM62.80,534.60h0.60v-1.31h-0.60ZM63.35,534.60h0.60v-0.94h-0.60ZM63.90,534.60h0.60v-0.98h-0.60ZM64.45,534.60h0.60v-1.17h-0.60ZM65.00,534.60h0.60v-1.50h-0.60ZM65.55,534.60h0.60v-1.26h-0.60ZM66.10,534.60h0.60v-0.94h-0.60ZM66.65,534.60h0.60v-1.60h-0.60ZM67.20,534.60h0.60v-3.43h-0.60ZM67.75,534.60h0.60v-4.14h-0.60ZM68.30,534.60h0.60v-2.51h-0.60ZM68.85,534.60h0.60v-1.22h-0.60ZM69.40,534.60h0.60v-0.99h-0.60ZM69.95,534.60h0.60v-0.97h-0.60ZM70.50,534.60h0.60v-0.90h-0.60ZM71.60,534.60h0.60v-1.28h-0.60ZM72.15,534.60h0.60v-0.90h-0.60ZM72.70,534.60h0.60v-0.93h-0.60ZM73.25,534.60h0.60v-0.99h-0.60ZM73.80,534.60h0.60v-1.22h-0.60ZM74.35,534.60h0.60v-1.13h-0.60ZM75.45,534.60h0.60v-1.03h-0.60ZM76.00,534.60h0.60v-1.08h-0.60ZM76.55,534.60h0.60v-1.27h-0.60ZM77.10,534.60h0.60v-0.93h-0.60ZM77.65,534.60h0.60v-1.19h-0.60ZM78.20,534.60h0.60v-0.98h-0.60ZM78.75,534.60h0.60v-0.91h-0.60ZM79.85,534.60h0.60v-0.93h-0.60ZM80.40,534.60h0.60v-1.65h-0.60ZM80.95,534.60h0.60v-1.42h-0.60ZM81.50,534.60h0.60v-1.07h-0.60ZM82.05,534.60h0.60v-0.95h-0.60ZM82.60,534.60h0.60v-1.41h-0.60ZM83.15,534.60h0.60v-1.44h-0.60ZM83.70,534.60h0.60v-0.97h-0.60ZM84.25,534.60h0.60v-0.97h-0.60ZM84.80,534.60h0.60v-1.00h-0.60ZM85.35,534.60h0.60v-0.92h-0.60ZM85.90,534.60h0.60v-1.06h-0.60ZM86.45,534.60h0.60v-0.94h-0.60ZM87.00,534.60h0.60v-1.06h-0.60ZM87.55,534.60h0.60v-0.96h-0.60ZM88.10,534.60h0.60v-1.19h-0.60ZM88.65,534.60h0.60v-0.92h-0.60ZM89.20,534.60h0.60v-1.33h-0.60ZM90.30,534.60h0.60v-1.90h-0.60ZM90.85,534.60h0.60v-1.09h-0.60ZM91.40,534.60h0.60v-0.92h-0.60ZM91.95,534.60h0.60v-1.67h-0.60ZM93.05,534.60h0.60v-0.97h-0.60ZM93.60,534.60h0.60v-1.01h-0.60ZM94.15,534.60h0.60v-0.96h-0.60ZM94.70,534.60h0.60v-0.95h-0.60ZM95.25,534.60h0.60v-1.41h-0.60ZM96.35,534.60h0.60v-1.26h-0.60ZM96.90,534.60h0.60v-1.01h-0.60ZM97.45,534.60h0.60v-1.65h-0.60ZM98.00,534.60h0.60v-1.50h-0.60ZM98.55,534.60h0.60v-0.93h-0.60ZM99.10,534.60h0.60v-1.41h-0.60ZM99.65,534.60h0.60v-2.28h-0.60ZM100.20,534.60h0.60v-1.86h-0.60ZM100.75,534.60h0.60v-1.03h-0.60ZM101.30,534.60h0.60v-1.09h-0.60ZM101.85,534.60h0.60v-1.93h-0.60ZM102.40,534.60h0.60v-1.10h-0.60ZM102.95,534.60h0.60v-1.12h-0.60ZM103.50,534.60h0.60v-1.24h-0.60ZM104.05,534.60h0.60v-1.67h-0.60ZM104.60,534.60h0.60v-1.66h-0.60ZM105.15,534.60h0.60v-1.14h-0.60ZM105.70,534.60h0.60v-1.77h-0.60ZM106.25,534.60h0.60v-0.90h-0.60ZM106.80,534.60h0.60v-1.44h-0.60ZM107.35,534.60h0.60v-2.19h-0.60ZM107.90,534.60h0.60v-1.62h-0.60ZM108.45,534.60h0.60v-0.91h-0.60ZM109.00,534.60h0.60v-1.57h-0.60ZM109.55,534.60h0.60v-1.24h-0.60ZM110.10,534.60h0.60v-1.09h-0.60ZM110.65,534.60h0.60v-1.51h-0.60ZM111.20,534.60h0.60v-1.22h-0.60ZM111.75,534.60h0.60v-1.21h-0.60ZM112.85,534.60h0.60v-1.27h-0.60ZM113.40,534.60h0.60v-1.07h-0.60ZM113.95,534.60h0.60v-1.31h-0.60ZM114.50,534.60h0.60v-0.91h-0.60ZM115.05,534.60h0.60v-0.91h-0.60ZM115.60,534.60h0.60v-1.38h-0.60ZM116.15,534.60h0.60v-2.11h-0.60ZM116.70,534.60h0.60v-1.74h-0.60ZM117.25,534.60h0.60v-1.14h-0.60ZM117.80,534.60h0.60v-2.02h-0.60ZM118.35,534.60h0.60v-0.91h-0.60ZM118.90,534.60h0.60v-1.56h-0.60ZM119.45,534.60h0.60v-1.55h-0.60ZM120.55,534.60h0.60v-0.96h-0.60ZM121.10,534.60h0.60v-1.90h-0.60ZM121.65,534.60h0.60v-1.70h-0.60ZM122.20,534.60h0.60v-0.90h-0.60ZM122.75,534.60h0.60v-1.95h-0.60ZM123.30,534.60h0.60v-1.09h-0.60ZM123.85,534.60h0.60v-2.00h-0.60ZM124.40,534.60h0.60v-1.77h-0.60ZM124.95,534.60h0.60v-2.46h-0.60ZM125.50,534.60h0.60v-1.03h-0.60ZM126.05,534.60h0.60v-1.15h-0.60ZM126.60,534.60h0.60v-2.31h-0.60ZM127.15,534.60h0.60v-1.22h-0.60ZM127.70,534.60h0.60v-1.15h-0.60ZM128.80,534.60h0.60v-1.57h-0.60ZM129.35,534.60h0.60v-1.94h-0.60ZM129.90,534.60h0.60v-2.38h-0.60ZM130.45,534.60h0.60v-2.38h-0.60ZM131.00,534.60h0.60v-2.05h-0.60ZM131.55,534.60h0.60v-2.09h-0.60ZM132.10,534.60h0.60v-1.45h-0.60ZM132.65,534.60h0.60v-1.18h-0.60ZM133.20,534.60h0.60v-0.90h-0.60Z" fill="#3f6cb2"/>
<path d="M146.30,534.60h0.60v-1.77h-0.60ZM146.85,534.60h0.60v-0.96h-0.60ZM147.40,534.60h0.60v-0.90h-0.60ZM147.95,534.60h0.60v-1.35h-0.60ZM148.50,534.60h0.60v-0.92h-0.60ZM149.05,534.60h0.60v-2.33h-0.60ZM149.60,534.60h0.60v-1.17h-0.60ZM150.15,534.60h0.60v-1.82h-0.60ZM150.70,534.60h0.60v-2.00h-0.60ZM151.25,534.60h0.60v-1.47h-0.60ZM151.80,534.60h0.60v-1.16h-0.60ZM152.35,534.60h0.60v-1.24h-0.60ZM152.90,534.60h0.60v-1.43h-0.60ZM153.45,534.60h0.60v-0.99h-0.60ZM154.00,534.60h0.60v-2.72h-0.60ZM154.55,534.60h0.60v-4.32h-0.60ZM155.65,534.60h0.60v-0.97h-0.60ZM157.30,534.60h0.60v-0.92h-0.60ZM157.85,534.60h0.60v-1.29h-0.60ZM158.40,534.60h0.60v-1.17h-0.60ZM158.95,534.60h0.60v-0.95h-0.60ZM159.50,534.60h0.60v-1.12h-0.60ZM160.05,534.60h0.60v-1.26h-0.60ZM160.60,534.60h0.60v-1.32h-0.60ZM161.15,534.60h0.60v-1.19h-0.60ZM161.70,534.60h0.60v-1.28h-0.60ZM162.25,534.60h0.60v-0.98h-0.60ZM162.80,534.60h0.60v-1.04h-0.60ZM163.90,534.60h0.60v-1.41h-0.60ZM165.00,534.60h0.60v-1.74h-0.60ZM165.55,534.60h0.60v-1.91h-0.60ZM166.10,534.60h0.60v-1.22h-0.60ZM166.65,534.60h0.60v-1.49h-0.60ZM167.20,534.60h0.60v-0.92h-0.60ZM167.75,534.60h0.60v-1.33h-0.60ZM168.30,534.60h0.60v-2.35h-0.60ZM168.85,534.60h0.60v-3.80h-0.60ZM169.40,534.60h0.60v-3.56h-0.60ZM169.95,534.60h0.60v-1.93h-0.60ZM170.50,534.60h0.60v-1.41h-0.60ZM171.60,534.60h0.60v-1.45h-0.60ZM172.15,534.60h0.60v-1.67h-0.60ZM172.70,534.60h0.60v-0.99h-0.60ZM173.25,534.60h0.60v-1.29h-0.60ZM173.80,534.60h0.60v-0.91h-0.60ZM174.35,534.60h0.60v-1.18h-0.60ZM175.45,534.60h0.60v-1.66h-0.60ZM176.55,534.60h0.60v-2.24h-0.60ZM177.10,534.60h0.60v-2.74h-0.60ZM177.65,534.60h0.60v-2.14h-0.60ZM178.20,534.60h0.60v-1.94h-0.60ZM178.75,534.60h0.60v-0.90h-0.60ZM179.30,534.60h0.60v-1.49h-0.60ZM179.85,534.60h0.60v-1.15h-0.60ZM180.40,534.60h0.60v-1.28h-0.60ZM181.50,534.60h0.60v-1.83h-0.60ZM182.05,534.60h0.60v-0.94h-0.60ZM182.60,534.60h0.60v-1.65h-0.60ZM183.15,534.60h0.60v-0.97h-0.60ZM183.70,534.60h0.60v-0.91h-0.60ZM184.25,534.60h0.60v-0.93h-0.60ZM184.80,534.60h0.60v-1.56h-0.60ZM185.35,534.60h0.60v-1.14h-0.60ZM185.90,534.60h0.60v-1.02h-0.60ZM186.45,534.60h0.60v-0.91h-0.60ZM187.00,534.60h0.60v-0.91h-0.60ZM187.55,534.60h0.60v-0.91h-0.60ZM188.10,534.60h0.60v-0.99h-0.60ZM188.65,534.60h0.60v-1.01h-0.60ZM189.20,534.60h0.60v-1.16h-0.60ZM189.75,534.60h0.60v-1.61h-0.60ZM190.30,534.60h0.60v-1.08h-0.60ZM190.85,534.60h0.60v-0.97h-0.60ZM191.40,534.60h0.60v-1.34h-0.60ZM191.95,534.60h0.60v-1.49h-0.60ZM193.05,534.60h0.60v-1.04h-0.60ZM193.60,534.60h0.60v-0.91h-0.60ZM194.15,534.60h0.60v-1.02h-0.60ZM194.70,534.60h0.60v-0.90h-0.60ZM195.25,534.60h0.60v-0.98h-0.60ZM195.80,534.60h0.60v-1.41h-0.60ZM196.35,534.60h0.60v-0.93h-0.60ZM196.90,534.60h0.60v-1.00h-0.60ZM197.45,534.60h0.60v-1.20h-0.60ZM198.00,534.60h0.60v-1.50h-0.60ZM198.55,534.60h0.60v-0.91h-0.60ZM199.10,534.60h0.60v-1.42h-0.60ZM199.65,534.60h0.60v-1.32h-0.60ZM200.20,534.60h0.60v-0.91h-0.60ZM200.75,534.60h0.60v-0.90h-0.60ZM201.30,534.60h0.60v-0.91h-0.60ZM201.85,534.60h0.60v-1.19h-0.60ZM202.95,534.60h0.60v-1.58h-0.60ZM203.50,534.60h0.60v-2.43h-0.60ZM204.05,534.60h0.60v-3.72h-0.60ZM204.60,534.60h0.60v-2.81h-0.60ZM205.15,534.60h0.60v-1.39h-0.60ZM205.70,534.60h0.60v-1.03h-0.60ZM206.25,534.60h0.60v-1.03h-0.60ZM206.80,534.60h0.60v-1.20h-0.60ZM207.35,534.60h0.60v-1.31h-0.60ZM207.90,534.60h0.60v-1.15h-0.60ZM208.45,534.60h0.60v-1.03h-0.60ZM209.00,534.60h0.60v-1.00h-0.60ZM209.55,534.60h0.60v-0.96h-0.60ZM210.10,534.60h0.60v-1.80h-0.60ZM210.65,534.60h0.60v-2.89h-0.60ZM211.20,534.60h0.60v-2.38h-0.60ZM211.75,534.60h0.60v-2.49h-0.60ZM212.30,534.60h0.60v-1.35h-0.60ZM212.85,534.60h0.60v-1.11h-0.60ZM213.40,534.60h0.60v-0.92h-0.60ZM213.95,534.60h0.60v-1.26h-0.60ZM214.50,534.60h0.60v-1.47h-0.60ZM215.05,534.60h0.60v-1.70h-0.60ZM215.60,534.60h0.60v-1.24h-0.60ZM216.15,534.60h0.60v-0.90h-0.60ZM216.70,534.60h0.60v-1.59h-0.60ZM217.25,534.60h0.60v-1.72h-0.60ZM217.80,534.60h0.60v-1.40h-0.60ZM218.35,534.60h0.60v-0.92h-0.60ZM218.90,534.60h0.60v-1.01h-0.60ZM219.45,534.60h0.60v-1.10h-0.60ZM220.00,534.60h0.60v-1.89h-0.60ZM220.55,534.60h0.60v-1.46h-0.60ZM221.10,534.60h0.60v-1.10h-0.60ZM221.65,534.60h0.60v-0.90h-0.60ZM222.20,534.60h0.60v-1.24h-0.60ZM222.75,534.60h0.60v-1.00h-0.60ZM223.30,534.60h0.60v-1.25h-0.60ZM223.85,534.60h0.60v-1.97h-0.60ZM224.40,534.60h0.60v-1.54h-0.60ZM224.95,534.60h0.60v-1.66h-0.60ZM225.50,534.60h0.60v-1.14h-0.60ZM226.05,534.60h0.60v-1.44h-0.60ZM226.60,534.60h0.60v-1.53h-0.60ZM227.15,534.60h0.60v-1.40h-0.60ZM227.70,534.60h0.60v-1.23h-0.60ZM228.25,534.60h0.60v-0.90h-0.60ZM228.80,534.60h0.60v-1.21h-0.60ZM229.35,534.60h0.60v-0.91h-0.60ZM229.90,534.60h0.60v-1.16h-0.60ZM231.00,534.60h0.60v-1.24h-0.60ZM231.55,534.60h0.60v-1.97h-0.60ZM232.10,534.60h0.60v-1.21h-0.60ZM232.65,534.60h0.60v-0.94h-0.60ZM233.20,534.60h0.60v-1.33h-0.60ZM233.75,534.60h0.60v-1.88h-0.60ZM234.85,534.60h0.60v-1.56h-0.60ZM235.40,534.60h0.60v-2.00h-0.60ZM235.95,534.60h0.60v-1.28h-0.60ZM236.50,534.60h0.60v-1.41h-0.60ZM237.05,534.60h0.60v-1.11h-0.60ZM237.60,534.60h0.60v-1.20h-0.60ZM238.15,534.60h0.60v-0.95h-0.60ZM238.70,534.60h0.60v-2.38h-0.60ZM239.25,534.60h0.60v-1.08h-0.60ZM239.80,534.60h0.60v-0.91h-0.60ZM240.35,534.60h0.60v-1.27h-0.60ZM240.90,534.60h0.60v-0.94h-0.60ZM241.45,534.60h0.60v-1.46h-0.60ZM242.00,534.60h0.60v-1.39h-0.60ZM242.55,534.60h0.60v-0.90h-0.60ZM243.10,534.60h0.60v-1.94h-0.60ZM243.65,534.60h0.60v-1.50h-0.60ZM244.20,534.60h0.60v-1.33h-0.60ZM244.75,534.60h0.60v-1.03h-0.60ZM245.30,534.60h0.60v-1.69h-0.60ZM245.85,534.60h0.60v-2.14h-0.60ZM246.40,534.60h0.60v-1.51h-0.60ZM246.95,534.60h0.60v-3.43h-0.60ZM247.50,534.60h0.60v-3.74h-0.60ZM248.05,534.60h0.60v-1.61h-0.60ZM248.60,534.60h0.60v-1.15h-0.60ZM249.15,534.60h0.60v-0.91h-0.60ZM249.70,534.60h0.60v-1.61h-0.60ZM250.25,534.60h0.60v-1.54h-0.60ZM250.80,534.60h0.60v-0.90h-0.60ZM251.90,534.60h0.60v-1.30h-0.60ZM252.45,534.60h0.60v-1.55h-0.60ZM253.00,534.60h0.60v-1.80h-0.60ZM253.55,534.60h0.60v-1.81h-0.60ZM254.10,534.60h0.60v-1.67h-0.60ZM254.65,534.60h0.60v-0.95h-0.60ZM256.30,534.60h0.60v-1.11h-0.60ZM256.85,534.60h0.60v-1.38h-0.60ZM257.40,534.60h0.60v-1.28h-0.60ZM257.95,534.60h0.60v-0.94h-0.60ZM258.50,534.60h0.60v-1.91h-0.60ZM259.05,534.60h0.60v-0.90h-0.60ZM259.60,534.60h0.60v-1.59h-0.60ZM260.15,534.60h0.60v-1.15h-0.60ZM260.70,534.60h0.60v-0.94h-0.60ZM261.25,534.60h0.60v-1.66h-0.60ZM261.80,534.60h0.60v-1.03h-0.60ZM262.35,534.60h0.60v-1.35h-0.60ZM262.90,534.60h0.60v-1.03h-0.60ZM263.45,534.60h0.60v-1.63h-0.60ZM264.00,534.60h0.60v-0.94h-0.60ZM264.55,534.60h0.60v-1.57h-0.60ZM265.10,534.60h0.60v-0.97h-0.60ZM265.65,534.60h0.60v-1.47h-0.60ZM266.20,534.60h0.60v-1.50h-0.60ZM266.75,534.60h0.60v-0.92h-0.60ZM267.30,534.60h0.60v-0.92h-0.60ZM267.85,534.60h0.60v-1.13h-0.60ZM268.40,534.60h0.60v-0.93h-0.60ZM268.95,534.60h0.60v-2.22h-0.60ZM269.50,534.60h0.60v-0.90h-0.60ZM270.05,534.60h0.60v-2.05h-0.60ZM270.60,534.60h0.60v-0.94h-0.60ZM271.15,534.60h0.60v-0.93h-0.60ZM271.70,534.60h0.60v-1.45h-0.60ZM272.25,534.60h0.60v-0.98h-0.60ZM272.80,534.60h0.60v-1.27h-0.60ZM273.35,534.60h0.60v-0.98h-0.60ZM273.90,534.60h0.60v-1.54h-0.60ZM274.45,534.60h0.60v-1.62h-0.60ZM275.00,534.60h0.60v-1.09h-0.60ZM275.55,534.60h0.60v-1.21h-0.60ZM276.10,534.60h0.60v-1.00h-0.60ZM276.65,534.60h0.60v-1.55h-0.60ZM277.20,534.60h0.60v-0.90h-0.60ZM278.30,534.60h0.60v-1.26h-0.60ZM278.85,534.60h0.60v-1.23h-0.60ZM279.40,534.60h0.60v-0.90h-0.60ZM280.50,534.60h0.60v-1.27h-0.60ZM281.05,534.60h0.60v-1.17h-0.60Z" fill="#3f6cb2"/>
<line x1="134.30" y1="539.10" x2="138.90" y2="530.20" stroke="#111" stroke-width="1.25" />
<line x1="138.60" y1="539.10" x2="143.20" y2="530.20" stroke="#111" stroke-width="1.25" />
<text x="44.90" y="543.60" font-size="8.74" textLength="4.34" lengthAdjust="spacingAndGlyphs" stroke="#231f20" stroke-width="0.12" >6</text>
<path d="M43.00,558.20h0.60v-1.11h-0.60ZM43.55,558.20h0.60v-1.70h-0.60ZM44.10,558.20h0.60v-2.26h-0.60ZM44.65,558.20h0.60v-1.55h-0.60ZM45.20,558.20h0.60v-1.67h-0.60ZM46.30,558.20h0.60v-1.74h-0.60ZM46.85,558.20h0.60v-0.98h-0.60ZM47.40,558.20h0.60v-1.33h-0.60ZM47.95,558.20h0.60v-1.18h-0.60ZM48.50,558.20h0.60v-0.92h-0.60ZM49.05,558.20h0.60v-1.45h-0.60ZM49.60,558.20h0.60v-1.21h-0.60ZM50.15,558.20h0.60v-0.95h-0.60ZM50.70,558.20h0.60v-0.93h-0.60ZM51.25,558.20h0.60v-1.32h-0.60ZM51.80,558.20h0.60v-1.08h-0.60ZM52.35,558.20h0.60v-1.29h-0.60ZM52.90,558.20h0.60v-1.57h-0.60ZM53.45,558.20h0.60v-1.56h-0.60ZM54.00,558.20h0.60v-1.45h-0.60ZM54.55,558.20h0.60v-0.98h-0.60ZM55.10,558.20h0.60v-1.56h-0.60ZM55.65,558.20h0.60v-0.98h-0.60ZM56.20,558.20h0.60v-1.45h-0.60ZM56.75,558.20h0.60v-5.05h-0.60ZM57.30,558.20h0.60v-4.50h-0.60ZM57.85,558.20h0.60v-1.52h-0.60ZM58.40,558.20h0.60v-4.07h-0.60ZM58.95,558.20h0.60v-1.72h-0.60ZM59.50,558.20h0.60v-4.27h-0.60ZM60.05,558.20h0.60v-4.13h-0.60ZM60.60,558.20h0.60v-5.03h-0.60ZM61.15,558.20h0.60v-3.62h-0.60ZM61.70,558.20h0.60v-1.64h-0.60ZM62.25,558.20h0.60v-1.60h-0.60ZM62.80,558.20h0.60v-1.14h-0.60ZM63.35,558.20h0.60v-2.88h-0.60ZM63.90,558.20h0.60v-1.19h-0.60ZM64.45,558.20h0.60v-4.46h-0.60ZM65.00,558.20h0.60v-2.67h-0.60ZM65.55,558.20h0.60v-4.01h-0.60ZM66.65,558.20h0.60v-3.34h-0.60ZM67.20,558.20h0.60v-2.29h-0.60ZM67.75,558.20h0.60v-2.63h-0.60ZM68.30,558.20h0.60v-1.32h-0.60ZM68.85,558.20h0.60v-5.65h-0.60ZM69.40,558.20h0.60v-6.12h-0.60ZM69.95,558.20h0.60v-2.71h-0.60ZM70.50,558.20h0.60v-3.28h-0.60ZM71.05,558.20h0.60v-5.70h-0.60ZM71.60,558.20h0.60v-0.95h-0.60ZM72.15,558.20h0.60v-4.33h-0.60ZM72.70,558.20h0.60v-6.75h-0.60ZM73.25,558.20h0.60v-3.97h-0.60ZM73.80,558.20h0.60v-1.20h-0.60ZM74.35,558.20h0.60v-4.37h-0.60ZM74.90,558.20h0.60v-2.81h-0.60ZM75.45,558.20h0.60v-4.61h-0.60ZM76.00,558.20h0.60v-3.93h-0.60ZM76.55,558.20h0.60v-3.89h-0.60ZM77.10,558.20h0.60v-2.08h-0.60ZM77.65,558.20h0.60v-3.28h-0.60ZM78.20,558.20h0.60v-4.24h-0.60ZM78.75,558.20h0.60v-3.38h-0.60ZM79.30,558.20h0.60v-0.95h-0.60ZM79.85,558.20h0.60v-2.90h-0.60ZM80.40,558.20h0.60v-4.20h-0.60ZM81.50,558.20h0.60v-1.06h-0.60ZM82.05,558.20h0.60v-4.46h-0.60ZM82.60,558.20h0.60v-2.71h-0.60ZM83.15,558.20h0.60v-1.24h-0.60ZM83.70,558.20h0.60v-2.50h-0.60ZM84.25,558.20h0.60v-1.07h-0.60ZM84.80,558.20h0.60v-0.95h-0.60ZM85.35,558.20h0.60v-2.53h-0.60ZM85.90,558.20h0.60v-1.77h-0.60ZM86.45,558.20h0.60v-1.62h-0.60ZM87.00,558.20h0.60v-1.00h-0.60ZM87.55,558.20h0.60v-3.08h-0.60ZM88.10,558.20h0.60v-4.21h-0.60ZM88.65,558.20h0.60v-0.92h-0.60ZM89.20,558.20h0.60v-1.74h-0.60ZM89.75,558.20h0.60v-0.98h-0.60ZM90.30,558.20h0.60v-3.22h-0.60ZM90.85,558.20h0.60v-3.36h-0.60ZM91.40,558.20h0.60v-0.94h-0.60ZM91.95,558.20h0.60v-1.18h-0.60ZM92.50,558.20h0.60v-2.97h-0.60ZM93.05,558.20h0.60v-3.16h-0.60ZM93.60,558.20h0.60v-3.02h-0.60ZM94.15,558.20h0.60v-0.94h-0.60ZM94.70,558.20h0.60v-2.36h-0.60ZM95.25,558.20h0.60v-1.41h-0.60ZM95.80,558.20h0.60v-5.44h-0.60ZM96.35,558.20h0.60v-2.63h-0.60ZM96.90,558.20h0.60v-3.56h-0.60ZM97.45,558.20h0.60v-4.37h-0.60ZM98.00,558.20h0.60v-1.72h-0.60ZM98.55,558.20h0.60v-6.70h-0.60ZM99.10,558.20h0.60v-1.10h-0.60ZM99.65,558.20h0.60v-1.63h-0.60ZM100.20,558.20h0.60v-3.69h-0.60ZM100.75,558.20h0.60v-2.00h-0.60ZM101.85,558.20h0.60v-1.16h-0.60ZM102.40,558.20h0.60v-2.96h-0.60ZM102.95,558.20h0.60v-3.17h-0.60ZM103.50,558.20h0.60v-4.84h-0.60ZM104.05,558.20h0.60v-3.08h-0.60ZM104.60,558.20h0.60v-0.92h-0.60ZM105.15,558.20h0.60v-4.01h-0.60ZM105.70,558.20h0.60v-3.57h-0.60ZM106.25,558.20h0.60v-1.14h-0.60ZM106.80,558.20h0.60v-1.15h-0.60ZM107.35,558.20h0.60v-4.11h-0.60ZM107.90,558.20h0.60v-1.80h-0.60ZM108.45,558.20h0.60v-4.38h-0.60ZM109.00,558.20h0.60v-0.98h-0.60ZM109.55,558.20h0.60v-4.22h-0.60ZM110.10,558.20h0.60v-3.90h-0.60ZM110.65,558.20h0.60v-0.92h-0.60ZM111.20,558.20h0.60v-3.92h-0.60ZM111.75,558.20h0.60v-3.19h-0.60ZM112.30,558.20h0.60v-1.82h-0.60ZM112.85,558.20h0.60v-5.01h-0.60ZM113.40,558.20h0.60v-0.91h-0.60ZM113.95,558.20h0.60v-1.48h-0.60ZM114.50,558.20h0.60v-3.97h-0.60ZM115.05,558.20h0.60v-1.01h-0.60ZM115.60,558.20h0.60v-1.09h-0.60ZM116.15,558.20h0.60v-2.87h-0.60ZM116.70,558.20h0.60v-3.92h-0.60ZM117.25,558.20h0.60v-2.17h-0.60ZM117.80,558.20h0.60v-2.57h-0.60ZM118.35,558.20h0.60v-3.14h-0.60ZM118.90,558.20h0.60v-3.50h-0.60ZM120.00,558.20h0.60v-1.29h-0.60ZM120.55,558.20h0.60v-4.35h-0.60ZM121.10,558.20h0.60v-5.22h-0.60ZM121.65,558.20h0.60v-2.06h-0.60ZM122.20,558.20h0.60v-5.02h-0.60ZM122.75,558.20h0.60v-3.58h-0.60ZM123.30,558.20h0.60v-3.07h-0.60ZM123.85,558.20h0.60v-2.75h-0.60ZM124.40,558.20h0.60v-3.75h-0.60ZM124.95,558.20h0.60v-2.66h-0.60ZM125.50,558.20h0.60v-1.55h-0.60ZM126.05,558.20h0.60v-3.73h-0.60ZM126.60,558.20h0.60v-2.68h-0.60ZM127.15,558.20h0.60v-1.86h-0.60ZM127.70,558.20h0.60v-1.75h-0.60ZM128.25,558.20h0.60v-2.06h-0.60ZM128.80,558.20h0.60v-3.02h-0.60ZM129.35,558.20h0.60v-0.90h-0.60ZM129.90,558.20h0.60v-0.90h-0.60ZM130.45,558.20h0.60v-4.14h-0.60ZM131.00,558.20h0.60v-1.90h-0.60ZM131.55,558.20h0.60v-2.92h-0.60ZM132.10,558.20h0.60v-1.92h-0.60ZM132.65,558.20h0.60v-1.06h-0.60ZM133.20,558.20h0.60v-4.11h-0.60Z" fill="#c4161e"/>
<path d="M146.30,558.20h0.60v-2.07h-0.60ZM146.85,558.20h0.60v-1.16h-0.60ZM147.40,558.20h0.60v-5.61h-0.60ZM147.95,558.20h0.60v-2.31h-0.60ZM148.50,558.20h0.60v-1.57h-0.60ZM149.05,558.20h0.60v-1.98h-0.60ZM149.60,558.20h0.60v-5.59h-0.60ZM150.15,558.20h0.60v-2.82h-0.60ZM150.70,558.20h0.60v-2.32h-0.60ZM151.25,558.20h0.60v-2.46h-0.60ZM151.80,558.20h0.60v-0.93h-0.60ZM152.35,558.20h0.60v-1.75h-0.60ZM152.90,558.20h0.60v-1.18h-0.60ZM153.45,558.20h0.60v-3.13h-0.60ZM154.00,558.20h0.60v-1.75h-0.60ZM154.55,558.20h0.60v-4.40h-0.60ZM155.10,558.20h0.60v-3.27h-0.60ZM156.20,558.20h0.60v-1.57h-0.60ZM156.75,558.20h0.60v-1.73h-0.60ZM157.30,558.20h0.60v-1.72h-0.60ZM157.85,558.20h0.60v-1.70h-0.60ZM158.40,558.20h0.60v-1.19h-0.60ZM158.95,558.20h0.60v-1.14h-0.60ZM159.50,558.20h0.60v-0.95h-0.60ZM160.05,558.20h0.60v-0.92h-0.60ZM160.60,558.20h0.60v-0.99h-0.60ZM161.15,558.20h0.60v-1.29h-0.60ZM161.70,558.20h0.60v-3.07h-0.60ZM162.25,558.20h0.60v-1.24h-0.60ZM162.80,558.20h0.60v-2.44h-0.60ZM163.35,558.20h0.60v-2.57h-0.60ZM163.90,558.20h0.60v-1.82h-0.60ZM164.45,558.20h0.60v-2.07h-0.60ZM165.00,558.20h0.60v-2.02h-0.60ZM165.55,558.20h0.60v-3.24h-0.60ZM166.10,558.20h0.60v-3.49h-0.60ZM166.65,558.20h0.60v-1.77h-0.60ZM167.20,558.20h0.60v-1.87h-0.60ZM167.75,558.20h0.60v-1.04h-0.60ZM168.30,558.20h0.60v-1.86h-0.60ZM168.85,558.20h0.60v-1.15h-0.60ZM169.40,558.20h0.60v-1.10h-0.60ZM169.95,558.20h0.60v-2.56h-0.60ZM170.50,558.20h0.60v-2.37h-0.60ZM171.05,558.20h0.60v-3.30h-0.60ZM171.60,558.20h0.60v-1.35h-0.60ZM172.15,558.20h0.60v-2.12h-0.60ZM172.70,558.20h0.60v-2.23h-0.60ZM173.25,558.20h0.60v-3.24h-0.60ZM173.80,558.20h0.60v-3.29h-0.60ZM174.35,558.20h0.60v-4.08h-0.60ZM174.90,558.20h0.60v-6.58h-0.60ZM175.45,558.20h0.60v-7.21h-0.60ZM176.00,558.20h0.60v-4.40h-0.60ZM176.55,558.20h0.60v-3.48h-0.60ZM177.10,558.20h0.60v-1.86h-0.60ZM177.65,558.20h0.60v-3.18h-0.60ZM178.20,558.20h0.60v-3.06h-0.60ZM178.75,558.20h0.60v-3.58h-0.60ZM179.30,558.20h0.60v-1.56h-0.60ZM179.85,558.20h0.60v-3.30h-0.60ZM180.40,558.20h0.60v-1.64h-0.60ZM180.95,558.20h0.60v-2.10h-0.60ZM181.50,558.20h0.60v-1.57h-0.60ZM182.05,558.20h0.60v-2.45h-0.60ZM182.60,558.20h0.60v-3.51h-0.60ZM183.15,558.20h0.60v-3.35h-0.60ZM183.70,558.20h0.60v-3.51h-0.60ZM184.25,558.20h0.60v-1.96h-0.60ZM184.80,558.20h0.60v-1.67h-0.60ZM185.35,558.20h0.60v-1.32h-0.60ZM185.90,558.20h0.60v-1.37h-0.60ZM186.45,558.20h0.60v-1.05h-0.60ZM187.00,558.20h0.60v-2.13h-0.60ZM187.55,558.20h0.60v-0.91h-0.60ZM188.10,558.20h0.60v-1.04h-0.60ZM188.65,558.20h0.60v-5.79h-0.60ZM189.20,558.20h0.60v-1.00h-0.60ZM189.75,558.20h0.60v-1.05h-0.60ZM190.30,558.20h0.60v-3.17h-0.60ZM190.85,558.20h0.60v-3.93h-0.60ZM191.40,558.20h0.60v-3.60h-0.60ZM191.95,558.20h0.60v-3.92h-0.60ZM192.50,558.20h0.60v-1.21h-0.60ZM193.05,558.20h0.60v-3.32h-0.60ZM193.60,558.20h0.60v-4.28h-0.60ZM194.15,558.20h0.60v-3.89h-0.60ZM194.70,558.20h0.60v-3.96h-0.60ZM195.80,558.20h0.60v-4.41h-0.60ZM196.35,558.20h0.60v-3.53h-0.60ZM196.90,558.20h0.60v-2.03h-0.60ZM197.45,558.20h0.60v-2.38h-0.60ZM198.00,558.20h0.60v-1.83h-0.60ZM198.55,558.20h0.60v-3.12h-0.60ZM199.10,558.20h0.60v-1.42h-0.60ZM199.65,558.20h0.60v-1.37h-0.60ZM200.20,558.20h0.60v-0.91h-0.60ZM200.75,558.20h0.60v-2.23h-0.60ZM201.30,558.20h0.60v-3.16h-0.60ZM201.85,558.20h0.60v-4.76h-0.60ZM202.40,558.20h0.60v-2.51h-0.60ZM202.95,558.20h0.60v-5.74h-0.60ZM203.50,558.20h0.60v-5.15h-0.60ZM204.05,558.20h0.60v-2.50h-0.60ZM204.60,558.20h0.60v-3.39h-0.60ZM205.15,558.20h0.60v-5.09h-0.60ZM205.70,558.20h0.60v-4.38h-0.60ZM206.25,558.20h0.60v-1.77h-0.60ZM206.80,558.20h0.60v-3.04h-0.60ZM207.35,558.20h0.60v-1.38h-0.60ZM207.90,558.20h0.60v-0.92h-0.60ZM208.45,558.20h0.60v-1.59h-0.60ZM209.00,558.20h0.60v-2.18h-0.60ZM209.55,558.20h0.60v-3.41h-0.60ZM210.10,558.20h0.60v-2.51h-0.60ZM210.65,558.20h0.60v-4.40h-0.60ZM211.20,558.20h0.60v-5.36h-0.60ZM211.75,558.20h0.60v-3.54h-0.60ZM212.30,558.20h0.60v-3.62h-0.60ZM212.85,558.20h0.60v-4.48h-0.60ZM213.40,558.20h0.60v-3.67h-0.60ZM213.95,558.20h0.60v-1.62h-0.60ZM214.50,558.20h0.60v-0.99h-0.60ZM215.05,558.20h0.60v-0.96h-0.60ZM215.60,558.20h0.60v-4.13h-0.60ZM216.15,558.20h0.60v-1.37h-0.60ZM216.70,558.20h0.60v-0.91h-0.60ZM217.25,558.20h0.60v-2.71h-0.60ZM217.80,558.20h0.60v-2.89h-0.60ZM218.35,558.20h0.60v-1.52h-0.60ZM218.90,558.20h0.60v-3.41h-0.60ZM219.45,558.20h0.60v-1.86h-0.60ZM220.00,558.20h0.60v-1.28h-0.60ZM220.55,558.20h0.60v-1.75h-0.60ZM221.10,558.20h0.60v-1.47h-0.60ZM221.65,558.20h0.60v-2.11h-0.60ZM222.20,558.20h0.60v-1.81h-0.60ZM222.75,558.20h0.60v-1.12h-0.60ZM223.30,558.20h0.60v-3.18h-0.60ZM223.85,558.20h0.60v-1.03h-0.60ZM224.40,558.20h0.60v-0.94h-0.60ZM224.95,558.20h0.60v-1.71h-0.60ZM225.50,558.20h0.60v-1.67h-0.60ZM226.05,558.20h0.60v-1.11h-0.60ZM226.60,558.20h0.60v-2.78h-0.60ZM227.15,558.20h0.60v-1.58h-0.60ZM227.70,558.20h0.60v-0.93h-0.60ZM228.25,558.20h0.60v-3.12h-0.60ZM228.80,558.20h0.60v-1.47h-0.60ZM229.35,558.20h0.60v-2.36h-0.60ZM230.45,558.20h0.60v-0.97h-0.60ZM231.00,558.20h0.60v-1.84h-0.60ZM231.55,558.20h0.60v-1.14h-0.60ZM232.10,558.20h0.60v-1.01h-0.60ZM233.20,558.20h0.60v-1.72h-0.60ZM233.75,558.20h0.60v-1.46h-0.60ZM234.30,558.20h0.60v-1.02h-0.60ZM234.85,558.20h0.60v-3.63h-0.60ZM235.40,558.20h0.60v-2.78h-0.60ZM235.95,558.20h0.60v-3.95h-0.60ZM236.50,558.20h0.60v-1.87h-0.60ZM237.05,558.20h0.60v-0.91h-0.60ZM237.60,558.20h0.60v-4.69h-0.60ZM238.15,558.20h0.60v-2.05h-0.60ZM238.70,558.20h0.60v-1.44h-0.60ZM239.25,558.20h0.60v-0.92h-0.60ZM239.80,558.20h0.60v-4.40h-0.60ZM240.35,558.20h0.60v-6.40h-0.60ZM240.90,558.20h0.60v-5.44h-0.60ZM241.45,558.20h0.60v-0.91h-0.60ZM242.00,558.20h0.60v-1.12h-0.60ZM242.55,558.20h0.60v-3.88h-0.60ZM243.10,558.20h0.60v-3.16h-0.60ZM243.65,558.20h0.60v-3.39h-0.60ZM244.20,558.20h0.60v-0.90h-0.60ZM244.75,558.20h0.60v-2.96h-0.60ZM245.30,558.20h0.60v-0.95h-0.60ZM245.85,558.20h0.60v-2.01h-0.60ZM246.40,558.20h0.60v-1.17h-0.60ZM246.95,558.20h0.60v-3.43h-0.60ZM247.50,558.20h0.60v-3.55h-0.60ZM248.05,558.20h0.60v-1.08h-0.60ZM248.60,558.20h0.60v-2.13h-0.60ZM249.15,558.20h0.60v-2.79h-0.60ZM249.70,558.20h0.60v-3.09h-0.60ZM250.25,558.20h0.60v-0.91h-0.60ZM250.80,558.20h0.60v-1.11h-0.60ZM251.35,558.20h0.60v-5.35h-0.60ZM251.90,558.20h0.60v-4.60h-0.60ZM252.45,558.20h0.60v-0.97h-0.60ZM253.00,558.20h0.60v-1.83h-0.60ZM253.55,558.20h0.60v-0.99h-0.60ZM254.10,558.20h0.60v-6.21h-0.60ZM254.65,558.20h0.60v-3.38h-0.60ZM255.20,558.20h0.60v-1.16h-0.60ZM255.75,558.20h0.60v-1.62h-0.60ZM256.30,558.20h0.60v-2.19h-0.60ZM256.85,558.20h0.60v-4.67h-0.60ZM257.40,558.20h0.60v-2.13h-0.60ZM257.95,558.20h0.60v-1.20h-0.60ZM258.50,558.20h0.60v-1.51h-0.60ZM259.05,558.20h0.60v-4.59h-0.60ZM259.60,558.20h0.60v-1.00h-0.60ZM260.15,558.20h0.60v-0.92h-0.60ZM260.70,558.20h0.60v-2.18h-0.60ZM261.25,558.20h0.60v-2.88h-0.60ZM261.80,558.20h0.60v-1.08h-0.60ZM262.35,558.20h0.60v-2.62h-0.60ZM262.90,558.20h0.60v-3.25h-0.60ZM263.45,558.20h0.60v-2.77h-0.60ZM264.00,558.20h0.60v-3.35h-0.60ZM264.55,558.20h0.60v-2.53h-0.60ZM265.10,558.20h0.60v-1.19h-0.60ZM265.65,558.20h0.60v-1.35h-0.60ZM266.20,558.20h0.60v-5.46h-0.60ZM266.75,558.20h0.60v-2.58h-0.60ZM267.30,558.20h0.60v-4.87h-0.60ZM267.85,558.20h0.60v-1.44h-0.60ZM268.40,558.20h0.60v-3.14h-0.60ZM269.50,558.20h0.60v-1.06h-0.60ZM270.05,558.20h0.60v-2.76h-0.60ZM270.60,558.20h0.60v-4.18h-0.60ZM271.15,558.20h0.60v-1.34h-0.60ZM271.70,558.20h0.60v-4.12h-0.60ZM272.25,558.20h0.60v-1.69h-0.60ZM272.80,558.20h0.60v-2.74h-0.60ZM273.35,558.20h0.60v-0.90h-0.60ZM273.90,558.20h0.60v-3.22h-0.60ZM274.45,558.20h0.60v-2.47h-0.60ZM275.00,558.20h0.60v-1.32h-0.60ZM275.55,558.20h0.60v-1.72h-0.60ZM276.10,558.20h0.60v-1.60h-0.60ZM276.65,558.20h0.60v-1.98h-0.60ZM277.20,558.20h0.60v-2.39h-0.60ZM277.75,558.20h0.60v-1.07h-0.60ZM278.30,558.20h0.60v-3.76h-0.60ZM278.85,558.20h0.60v-2.13h-0.60ZM279.40,558.20h0.60v-0.92h-0.60ZM279.95,558.20h0.60v-1.26h-0.60ZM280.50,558.20h0.60v-1.48h-0.60ZM281.05,558.20h0.60v-2.25h-0.60Z" fill="#c4161e"/>
<line x1="134.30" y1="562.70" x2="138.90" y2="553.80" stroke="#111" stroke-width="1.25" />
<line x1="138.60" y1="562.70" x2="143.20" y2="553.80" stroke="#111" stroke-width="1.25" />
<text x="44.90" y="566.30" font-size="8.74" textLength="4.34" lengthAdjust="spacingAndGlyphs" stroke="#231f20" stroke-width="0.12" >6</text>
<path d="M43.00,580.80h0.60v-0.94h-0.60ZM43.55,580.80h0.60v-0.99h-0.60ZM44.10,580.80h0.60v-1.85h-0.60ZM44.65,580.80h0.60v-1.08h-0.60ZM45.20,580.80h0.60v-1.41h-0.60ZM45.75,580.80h0.60v-2.66h-0.60ZM46.30,580.80h0.60v-2.82h-0.60ZM46.85,580.80h0.60v-2.39h-0.60ZM47.40,580.80h0.60v-1.08h-0.60ZM47.95,580.80h0.60v-1.80h-0.60ZM48.50,580.80h0.60v-2.80h-0.60ZM49.05,580.80h0.60v-1.44h-0.60ZM49.60,580.80h0.60v-1.69h-0.60ZM50.15,580.80h0.60v-2.52h-0.60ZM50.70,580.80h0.60v-0.92h-0.60ZM51.25,580.80h0.60v-1.79h-0.60ZM51.80,580.80h0.60v-1.95h-0.60ZM52.35,580.80h0.60v-1.59h-0.60ZM52.90,580.80h0.60v-1.28h-0.60ZM53.45,580.80h0.60v-1.15h-0.60ZM54.00,580.80h0.60v-1.75h-0.60ZM54.55,580.80h0.60v-1.01h-0.60ZM55.10,580.80h0.60v-2.21h-0.60ZM55.65,580.80h0.60v-1.41h-0.60ZM56.20,580.80h0.60v-1.25h-0.60ZM56.75,580.80h0.60v-0.98h-0.60ZM57.30,580.80h0.60v-0.98h-0.60ZM57.85,580.80h0.60v-1.21h-0.60ZM58.40,580.80h0.60v-1.40h-0.60ZM58.95,580.80h0.60v-1.38h-0.60ZM60.05,580.80h0.60v-1.14h-0.60ZM60.60,580.80h0.60v-1.46h-0.60ZM61.70,580.80h0.60v-0.92h-0.60ZM62.25,580.80h0.60v-1.23h-0.60ZM62.80,580.80h0.60v-1.50h-0.60ZM63.35,580.80h0.60v-0.92h-0.60ZM63.90,580.80h0.60v-0.90h-0.60ZM64.45,580.80h0.60v-1.93h-0.60ZM65.00,580.80h0.60v-1.78h-0.60ZM65.55,580.80h0.60v-1.17h-0.60ZM66.10,580.80h0.60v-1.16h-0.60ZM66.65,580.80h0.60v-1.34h-0.60ZM67.20,580.80h0.60v-2.00h-0.60ZM67.75,580.80h0.60v-2.43h-0.60ZM68.30,580.80h0.60v-1.91h-0.60ZM68.85,580.80h0.60v-1.78h-0.60ZM69.40,580.80h0.60v-1.71h-0.60ZM69.95,580.80h0.60v-2.17h-0.60ZM70.50,580.80h0.60v-1.56h-0.60ZM71.05,580.80h0.60v-0.93h-0.60ZM71.60,580.80h0.60v-1.00h-0.60ZM72.70,580.80h0.60v-1.27h-0.60ZM73.25,580.80h0.60v-1.31h-0.60ZM73.80,580.80h0.60v-1.08h-0.60ZM74.35,580.80h0.60v-1.16h-0.60ZM74.90,580.80h0.60v-1.41h-0.60ZM75.45,580.80h0.60v-1.66h-0.60ZM76.00,580.80h0.60v-0.93h-0.60ZM76.55,580.80h0.60v-0.95h-0.60ZM77.10,580.80h0.60v-0.99h-0.60ZM77.65,580.80h0.60v-1.06h-0.60ZM78.20,580.80h0.60v-1.35h-0.60ZM78.75,580.80h0.60v-1.05h-0.60ZM79.30,580.80h0.60v-1.56h-0.60ZM79.85,580.80h0.60v-0.91h-0.60ZM80.40,580.80h0.60v-1.01h-0.60ZM80.95,580.80h0.60v-0.92h-0.60ZM81.50,580.80h0.60v-1.55h-0.60ZM82.05,580.80h0.60v-1.15h-0.60ZM82.60,580.80h0.60v-1.21h-0.60ZM83.15,580.80h0.60v-1.48h-0.60ZM83.70,580.80h0.60v-1.14h-0.60ZM84.25,580.80h0.60v-1.00h-0.60ZM84.80,580.80h0.60v-1.19h-0.60ZM85.35,580.80h0.60v-1.46h-0.60ZM85.90,580.80h0.60v-1.21h-0.60ZM86.45,580.80h0.60v-1.10h-0.60ZM87.00,580.80h0.60v-1.46h-0.60ZM87.55,580.80h0.60v-1.09h-0.60ZM88.10,580.80h0.60v-1.47h-0.60ZM88.65,580.80h0.60v-1.11h-0.60ZM89.20,580.80h0.60v-1.28h-0.60ZM89.75,580.80h0.60v-1.28h-0.60ZM90.30,580.80h0.60v-1.17h-0.60ZM90.85,580.80h0.60v-0.93h-0.60ZM91.40,580.80h0.60v-1.16h-0.60ZM91.95,580.80h0.60v-1.13h-0.60ZM92.50,580.80h0.60v-1.17h-0.60ZM93.05,580.80h0.60v-1.22h-0.60ZM93.60,580.80h0.60v-0.99h-0.60ZM94.15,580.80h0.60v-1.59h-0.60ZM94.70,580.80h0.60v-2.17h-0.60ZM95.25,580.80h0.60v-1.18h-0.60ZM95.80,580.80h0.60v-1.36h-0.60ZM96.35,580.80h0.60v-1.58h-0.60ZM96.90,580.80h0.60v-1.04h-0.60ZM97.45,580.80h0.60v-1.23h-0.60ZM98.00,580.80h0.60v-1.24h-0.60ZM98.55,580.80h0.60v-2.10h-0.60ZM99.10,580.80h0.60v-1.04h-0.60ZM99.65,580.80h0.60v-1.19h-0.60ZM100.20,580.80h0.60v-1.54h-0.60ZM100.75,580.80h0.60v-1.96h-0.60ZM101.30,580.80h0.60v-1.25h-0.60ZM101.85,580.80h0.60v-1.39h-0.60ZM102.40,580.80h0.60v-0.95h-0.60ZM102.95,580.80h0.60v-0.95h-0.60ZM104.05,580.80h0.60v-2.38h-0.60ZM104.60,580.80h0.60v-0.93h-0.60ZM105.15,580.80h0.60v-2.21h-0.60ZM105.70,580.80h0.60v-1.37h-0.60ZM106.25,580.80h0.60v-1.61h-0.60ZM106.80,580.80h0.60v-1.09h-0.60ZM107.35,580.80h0.60v-1.36h-0.60ZM107.90,580.80h0.60v-1.10h-0.60ZM108.45,580.80h0.60v-1.03h-0.60ZM109.00,580.80h0.60v-1.14h-0.60ZM109.55,580.80h0.60v-1.06h-0.60ZM110.10,580.80h0.60v-0.90h-0.60ZM110.65,580.80h0.60v-1.50h-0.60ZM111.20,580.80h0.60v-1.62h-0.60ZM111.75,580.80h0.60v-1.71h-0.60ZM112.30,580.80h0.60v-1.29h-0.60ZM112.85,580.80h0.60v-2.26h-0.60ZM113.40,580.80h0.60v-1.12h-0.60ZM113.95,580.80h0.60v-0.97h-0.60ZM114.50,580.80h0.60v-0.94h-0.60ZM115.05,580.80h0.60v-1.55h-0.60ZM115.60,580.80h0.60v-0.91h-0.60ZM116.70,580.80h0.60v-1.18h-0.60ZM117.25,580.80h0.60v-0.96h-0.60ZM117.80,580.80h0.60v-0.99h-0.60ZM118.35,580.80h0.60v-1.33h-0.60ZM118.90,580.80h0.60v-0.92h-0.60ZM119.45,580.80h0.60v-0.90h-0.60ZM120.00,580.80h0.60v-1.36h-0.60ZM120.55,580.80h0.60v-0.97h-0.60ZM121.10,580.80h0.60v-1.54h-0.60ZM121.65,580.80h0.60v-1.83h-0.60ZM122.20,580.80h0.60v-1.76h-0.60ZM122.75,580.80h0.60v-1.11h-0.60ZM123.30,580.80h0.60v-1.83h-0.60ZM123.85,580.80h0.60v-1.82h-0.60ZM124.40,580.80h0.60v-1.78h-0.60ZM124.95,580.80h0.60v-1.90h-0.60ZM125.50,580.80h0.60v-1.04h-0.60ZM126.05,580.80h0.60v-1.68h-0.60ZM126.60,580.80h0.60v-0.93h-0.60ZM127.15,580.80h0.60v-1.09h-0.60ZM128.25,580.80h0.60v-1.51h-0.60ZM128.80,580.80h0.60v-1.62h-0.60ZM129.35,580.80h0.60v-2.28h-0.60ZM129.90,580.80h0.60v-1.15h-0.60ZM130.45,580.80h0.60v-1.01h-0.60ZM131.00,580.80h0.60v-2.33h-0.60ZM131.55,580.80h0.60v-0.92h-0.60ZM132.10,580.80h0.60v-1.92h-0.60ZM132.65,580.80h0.60v-1.59h-0.60ZM133.20,580.80h0.60v-1.90h-0.60Z" fill="#3f6cb2"/>
<path d="M146.30,580.80h0.60v-1.12h-0.60ZM146.85,580.80h0.60v-1.48h-0.60ZM147.40,580.80h0.60v-1.23h-0.60ZM147.95,580.80h0.60v-1.51h-0.60ZM148.50,580.80h0.60v-1.47h-0.60ZM149.05,580.80h0.60v-1.00h-0.60ZM149.60,580.80h0.60v-1.59h-0.60ZM150.15,580.80h0.60v-1.36h-0.60ZM150.70,580.80h0.60v-0.94h-0.60ZM151.25,580.80h0.60v-1.92h-0.60ZM151.80,580.80h0.60v-0.95h-0.60ZM152.35,580.80h0.60v-0.91h-0.60ZM152.90,580.80h0.60v-2.87h-0.60ZM153.45,580.80h0.60v-1.01h-0.60ZM154.00,580.80h0.60v-0.92h-0.60ZM154.55,580.80h0.60v-1.33h-0.60ZM155.10,580.80h0.60v-1.43h-0.60ZM155.65,580.80h0.60v-1.81h-0.60ZM156.20,580.80h0.60v-1.52h-0.60ZM156.75,580.80h0.60v-1.07h-0.60ZM157.30,580.80h0.60v-1.45h-0.60ZM157.85,580.80h0.60v-1.27h-0.60ZM158.40,580.80h0.60v-1.32h-0.60ZM158.95,580.80h0.60v-1.42h-0.60ZM159.50,580.80h0.60v-1.19h-0.60ZM160.05,580.80h0.60v-1.42h-0.60ZM160.60,580.80h0.60v-1.01h-0.60ZM161.15,580.80h0.60v-1.52h-0.60ZM161.70,580.80h0.60v-0.91h-0.60ZM162.25,580.80h0.60v-1.53h-0.60ZM162.80,580.80h0.60v-1.75h-0.60ZM163.35,580.80h0.60v-1.06h-0.60ZM163.90,580.80h0.60v-1.13h-0.60ZM164.45,580.80h0.60v-2.11h-0.60ZM165.00,580.80h0.60v-1.29h-0.60ZM166.10,580.80h0.60v-1.57h-0.60ZM166.65,580.80h0.60v-1.39h-0.60ZM167.20,580.80h0.60v-0.95h-0.60ZM167.75,580.80h0.60v-1.45h-0.60ZM168.30,580.80h0.60v-2.02h-0.60ZM168.85,580.80h0.60v-3.54h-0.60ZM169.40,580.80h0.60v-2.68h-0.60ZM169.95,580.80h0.60v-2.21h-0.60ZM170.50,580.80h0.60v-1.03h-0.60ZM171.05,580.80h0.60v-0.96h-0.60ZM171.60,580.80h0.60v-0.94h-0.60ZM172.15,580.80h0.60v-1.71h-0.60ZM172.70,580.80h0.60v-1.08h-0.60ZM173.25,580.80h0.60v-0.95h-0.60ZM173.80,580.80h0.60v-0.94h-0.60ZM174.35,580.80h0.60v-1.42h-0.60ZM174.90,580.80h0.60v-1.30h-0.60ZM175.45,580.80h0.60v-1.14h-0.60ZM176.00,580.80h0.60v-1.47h-0.60ZM176.55,580.80h0.60v-1.75h-0.60ZM177.10,580.80h0.60v-2.99h-0.60ZM177.65,580.80h0.60v-2.30h-0.60ZM178.20,580.80h0.60v-1.67h-0.60ZM178.75,580.80h0.60v-1.18h-0.60ZM179.30,580.80h0.60v-0.96h-0.60ZM179.85,580.80h0.60v-0.99h-0.60ZM180.40,580.80h0.60v-1.44h-0.60ZM180.95,580.80h0.60v-1.22h-0.60ZM181.50,580.80h0.60v-0.97h-0.60ZM182.05,580.80h0.60v-1.46h-0.60ZM182.60,580.80h0.60v-1.17h-0.60ZM183.70,580.80h0.60v-1.06h-0.60ZM184.25,580.80h0.60v-1.41h-0.60ZM184.80,580.80h0.60v-1.15h-0.60ZM185.35,580.80h0.60v-1.13h-0.60ZM185.90,580.80h0.60v-1.15h-0.60ZM186.45,580.80h0.60v-0.93h-0.60ZM187.00,580.80h0.60v-0.94h-0.60ZM187.55,580.80h0.60v-1.36h-0.60ZM188.10,580.80h0.60v-0.94h-0.60ZM188.65,580.80h0.60v-0.91h-0.60ZM189.20,580.80h0.60v-1.07h-0.60ZM189.75,580.80h0.60v-1.11h-0.60ZM190.30,580.80h0.60v-1.35h-0.60ZM190.85,580.80h0.60v-0.95h-0.60ZM191.40,580.80h0.60v-1.10h-0.60ZM191.95,580.80h0.60v-0.94h-0.60ZM192.50,580.80h0.60v-1.81h-0.60ZM193.05,580.80h0.60v-1.63h-0.60ZM193.60,580.80h0.60v-1.23h-0.60ZM194.15,580.80h0.60v-1.21h-0.60ZM194.70,580.80h0.60v-1.19h-0.60ZM195.25,580.80h0.60v-1.08h-0.60ZM195.80,580.80h0.60v-1.48h-0.60ZM196.35,580.80h0.60v-1.07h-0.60ZM196.90,580.80h0.60v-1.34h-0.60ZM197.45,580.80h0.60v-1.54h-0.60ZM198.00,580.80h0.60v-1.03h-0.60ZM198.55,580.80h0.60v-0.92h-0.60ZM199.10,580.80h0.60v-0.92h-0.60ZM199.65,580.80h0.60v-1.18h-0.60ZM200.20,580.80h0.60v-1.12h-0.60ZM200.75,580.80h0.60v-1.01h-0.60ZM201.30,580.80h0.60v-1.19h-0.60ZM201.85,580.80h0.60v-1.93h-0.60ZM202.40,580.80h0.60v-1.20h-0.60ZM202.95,580.80h0.60v-0.90h-0.60ZM203.50,580.80h0.60v-1.93h-0.60ZM204.60,580.80h0.60v-1.32h-0.60ZM205.15,580.80h0.60v-1.51h-0.60ZM205.70,580.80h0.60v-1.34h-0.60ZM206.25,580.80h0.60v-2.47h-0.60ZM206.80,580.80h0.60v-1.81h-0.60ZM207.35,580.80h0.60v-0.90h-0.60ZM207.90,580.80h0.60v-0.90h-0.60ZM208.45,580.80h0.60v-1.10h-0.60ZM209.00,580.80h0.60v-2.07h-0.60ZM209.55,580.80h0.60v-2.30h-0.60ZM210.10,580.80h0.60v-3.41h-0.60ZM210.65,580.80h0.60v-1.91h-0.60ZM211.20,580.80h0.60v-2.50h-0.60ZM211.75,580.80h0.60v-1.36h-0.60ZM212.30,580.80h0.60v-0.90h-0.60ZM212.85,580.80h0.60v-1.14h-0.60ZM213.40,580.80h0.60v-1.04h-0.60ZM213.95,580.80h0.60v-1.40h-0.60ZM214.50,580.80h0.60v-1.42h-0.60ZM215.05,580.80h0.60v-1.03h-0.60ZM215.60,580.80h0.60v-1.38h-0.60ZM216.15,580.80h0.60v-1.36h-0.60ZM216.70,580.80h0.60v-1.44h-0.60ZM217.25,580.80h0.60v-0.98h-0.60ZM217.80,580.80h0.60v-1.15h-0.60ZM218.35,580.80h0.60v-0.90h-0.60ZM218.90,580.80h0.60v-1.41h-0.60ZM219.45,580.80h0.60v-1.41h-0.60ZM220.00,580.80h0.60v-0.92h-0.60ZM220.55,580.80h0.60v-1.46h-0.60ZM221.10,580.80h0.60v-0.93h-0.60ZM221.65,580.80h0.60v-0.99h-0.60ZM222.20,580.80h0.60v-1.07h-0.60ZM222.75,580.80h0.60v-1.53h-0.60ZM223.30,580.80h0.60v-0.99h-0.60ZM223.85,580.80h0.60v-0.91h-0.60ZM224.40,580.80h0.60v-0.90h-0.60ZM224.95,580.80h0.60v-0.99h-0.60ZM225.50,580.80h0.60v-1.23h-0.60ZM226.05,580.80h0.60v-0.92h-0.60ZM226.60,580.80h0.60v-2.62h-0.60ZM227.15,580.80h0.60v-1.00h-0.60ZM227.70,580.80h0.60v-1.39h-0.60ZM228.25,580.80h0.60v-1.67h-0.60ZM228.80,580.80h0.60v-1.73h-0.60ZM229.35,580.80h0.60v-1.94h-0.60ZM229.90,580.80h0.60v-1.26h-0.60ZM230.45,580.80h0.60v-0.95h-0.60ZM231.00,580.80h0.60v-0.98h-0.60ZM231.55,580.80h0.60v-0.90h-0.60ZM232.10,580.80h0.60v-1.78h-0.60ZM232.65,580.80h0.60v-1.38h-0.60ZM233.20,580.80h0.60v-1.48h-0.60ZM233.75,580.80h0.60v-1.48h-0.60ZM234.30,580.80h0.60v-0.95h-0.60ZM234.85,580.80h0.60v-0.96h-0.60ZM235.40,580.80h0.60v-0.94h-0.60ZM235.95,580.80h0.60v-1.95h-0.60ZM236.50,580.80h0.60v-2.28h-0.60ZM237.05,580.80h0.60v-1.90h-0.60ZM237.60,580.80h0.60v-1.82h-0.60ZM238.15,580.80h0.60v-0.91h-0.60ZM238.70,580.80h0.60v-2.09h-0.60ZM239.25,580.80h0.60v-2.58h-0.60ZM239.80,580.80h0.60v-1.95h-0.60ZM240.35,580.80h0.60v-2.20h-0.60ZM240.90,580.80h0.60v-1.46h-0.60ZM241.45,580.80h0.60v-1.79h-0.60ZM242.00,580.80h0.60v-2.08h-0.60ZM242.55,580.80h0.60v-1.91h-0.60ZM243.10,580.80h0.60v-0.90h-0.60ZM243.65,580.80h0.60v-1.28h-0.60ZM244.20,580.80h0.60v-0.96h-0.60ZM244.75,580.80h0.60v-2.03h-0.60ZM245.30,580.80h0.60v-1.27h-0.60ZM245.85,580.80h0.60v-0.90h-0.60ZM246.40,580.80h0.60v-3.03h-0.60ZM246.95,580.80h0.60v-3.94h-0.60ZM247.50,580.80h0.60v-3.17h-0.60ZM248.05,580.80h0.60v-2.87h-0.60ZM248.60,580.80h0.60v-2.21h-0.60ZM249.15,580.80h0.60v-1.47h-0.60ZM249.70,580.80h0.60v-2.37h-0.60ZM250.25,580.80h0.60v-2.09h-0.60ZM250.80,580.80h0.60v-1.46h-0.60ZM251.35,580.80h0.60v-2.22h-0.60ZM251.90,580.80h0.60v-1.87h-0.60ZM252.45,580.80h0.60v-0.98h-0.60ZM253.00,580.80h0.60v-1.06h-0.60ZM253.55,580.80h0.60v-1.82h-0.60ZM254.10,580.80h0.60v-0.90h-0.60ZM254.65,580.80h0.60v-2.58h-0.60ZM255.20,580.80h0.60v-1.01h-0.60ZM255.75,580.80h0.60v-1.17h-0.60ZM256.30,580.80h0.60v-0.91h-0.60ZM256.85,580.80h0.60v-1.08h-0.60ZM257.40,580.80h0.60v-1.83h-0.60ZM257.95,580.80h0.60v-2.14h-0.60ZM258.50,580.80h0.60v-1.05h-0.60ZM259.60,580.80h0.60v-1.13h-0.60ZM260.15,580.80h0.60v-2.00h-0.60ZM260.70,580.80h0.60v-0.90h-0.60ZM261.25,580.80h0.60v-0.99h-0.60ZM262.35,580.80h0.60v-0.99h-0.60ZM262.90,580.80h0.60v-1.37h-0.60ZM263.45,580.80h0.60v-3.00h-0.60ZM264.00,580.80h0.60v-2.87h-0.60ZM264.55,580.80h0.60v-1.08h-0.60ZM265.10,580.80h0.60v-2.14h-0.60ZM265.65,580.80h0.60v-1.02h-0.60ZM266.75,580.80h0.60v-1.12h-0.60ZM267.30,580.80h0.60v-1.24h-0.60ZM268.40,580.80h0.60v-2.02h-0.60ZM268.95,580.80h0.60v-1.76h-0.60ZM269.50,580.80h0.60v-0.96h-0.60ZM270.05,580.80h0.60v-0.93h-0.60ZM270.60,580.80h0.60v-1.00h-0.60ZM271.15,580.80h0.60v-0.95h-0.60ZM272.25,580.80h0.60v-1.66h-0.60ZM272.80,580.80h0.60v-1.78h-0.60ZM273.35,580.80h0.60v-1.52h-0.60ZM274.45,580.80h0.60v-0.99h-0.60ZM275.00,580.80h0.60v-1.00h-0.60ZM275.55,580.80h0.60v-1.65h-0.60ZM276.10,580.80h0.60v-1.08h-0.60ZM276.65,580.80h0.60v-1.84h-0.60ZM277.20,580.80h0.60v-1.15h-0.60ZM277.75,580.80h0.60v-1.48h-0.60ZM278.30,580.80h0.60v-0.91h-0.60ZM278.85,580.80h0.60v-1.51h-0.60ZM279.40,580.80h0.60v-1.11h-0.60ZM279.95,580.80h0.60v-1.99h-0.60ZM280.50,580.80h0.60v-1.13h-0.60ZM281.05,580.80h0.60v-1.05h-0.60Z" fill="#3f6cb2"/>
<line x1="134.30" y1="585.30" x2="138.90" y2="576.40" stroke="#111" stroke-width="1.25" />
<line x1="138.60" y1="585.30" x2="143.20" y2="576.40" stroke="#111" stroke-width="1.25" />
<text x="44.90" y="588.60" font-size="8.74" textLength="8.68" lengthAdjust="spacingAndGlyphs" stroke="#231f20" stroke-width="0.12" >50</text>
<path d="M43.00,604.20h0.60v-0.94h-0.60ZM43.55,604.20h0.60v-1.13h-0.60ZM44.10,604.20h0.60v-1.18h-0.60ZM44.65,604.20h0.60v-1.09h-0.60ZM45.20,604.20h0.60v-0.94h-0.60ZM45.75,604.20h0.60v-1.12h-0.60ZM46.30,604.20h0.60v-0.91h-0.60ZM46.85,604.20h0.60v-1.32h-0.60ZM47.40,604.20h0.60v-0.94h-0.60ZM47.95,604.20h0.60v-0.94h-0.60ZM48.50,604.20h0.60v-1.14h-0.60ZM49.05,604.20h0.60v-1.04h-0.60ZM49.60,604.20h0.60v-0.91h-0.60ZM50.15,604.20h0.60v-1.13h-0.60ZM50.70,604.20h0.60v-1.05h-0.60ZM51.25,604.20h0.60v-0.98h-0.60ZM51.80,604.20h0.60v-1.08h-0.60ZM52.35,604.20h0.60v-0.95h-0.60ZM52.90,604.20h0.60v-0.91h-0.60ZM53.45,604.20h0.60v-1.17h-0.60ZM54.00,604.20h0.60v-1.15h-0.60ZM54.55,604.20h0.60v-1.29h-0.60ZM55.10,604.20h0.60v-1.22h-0.60ZM55.65,604.20h0.60v-1.00h-0.60ZM56.20,604.20h0.60v-0.92h-0.60ZM56.75,604.20h0.60v-0.98h-0.60ZM57.30,604.20h0.60v-0.90h-0.60ZM57.85,604.20h0.60v-1.11h-0.60ZM58.40,604.20h0.60v-0.90h-0.60ZM58.95,604.20h0.60v-0.96h-0.60ZM59.50,604.20h0.60v-0.91h-0.60ZM60.05,604.20h0.60v-1.11h-0.60ZM60.60,604.20h0.60v-0.98h-0.60ZM61.15,604.20h0.60v-0.99h-0.60ZM61.70,604.20h0.60v-0.90h-0.60ZM62.25,604.20h0.60v-0.90h-0.60ZM62.80,604.20h0.60v-0.99h-0.60ZM63.35,604.20h0.60v-0.94h-0.60ZM63.90,604.20h0.60v-0.93h-0.60ZM64.45,604.20h0.60v-1.07h-0.60ZM65.00,604.20h0.60v-1.01h-0.60ZM65.55,604.20h0.60v-1.18h-0.60ZM66.10,604.20h0.60v-1.41h-0.60ZM66.65,604.20h0.60v-1.66h-0.60ZM67.20,604.20h0.60v-2.78h-0.60ZM67.75,604.20h0.60v-3.52h-0.60ZM68.30,604.20h0.60v-2.23h-0.60ZM68.85,604.20h0.60v-1.47h-0.60ZM69.40,604.20h0.60v-1.28h-0.60ZM69.95,604.20h0.60v-1.15h-0.60ZM70.50,604.20h0.60v-0.97h-0.60ZM71.05,604.20h0.60v-0.97h-0.60ZM71.60,604.20h0.60v-1.03h-0.60ZM72.15,604.20h0.60v-1.03h-0.60ZM72.70,604.20h0.60v-0.98h-0.60ZM73.25,604.20h0.60v-0.94h-0.60ZM73.80,604.20h0.60v-0.92h-0.60ZM74.35,604.20h0.60v-1.08h-0.60ZM74.90,604.20h0.60v-1.12h-0.60ZM75.45,604.20h0.60v-0.92h-0.60ZM76.00,604.20h0.60v-1.04h-0.60ZM76.55,604.20h0.60v-0.94h-0.60ZM77.10,604.20h0.60v-1.13h-0.60ZM77.65,604.20h0.60v-1.13h-0.60ZM78.20,604.20h0.60v-1.04h-0.60ZM78.75,604.20h0.60v-0.97h-0.60ZM79.30,604.20h0.60v-1.04h-0.60ZM79.85,604.20h0.60v-0.92h-0.60ZM80.40,604.20h0.60v-0.90h-0.60ZM80.95,604.20h0.60v-0.99h-0.60ZM81.50,604.20h0.60v-1.02h-0.60ZM82.05,604.20h0.60v-0.95h-0.60ZM82.60,604.20h0.60v-0.99h-0.60ZM83.15,604.20h0.60v-1.05h-0.60ZM83.70,604.20h0.60v-0.91h-0.60ZM84.25,604.20h0.60v-1.09h-0.60ZM84.80,604.20h0.60v-0.91h-0.60ZM85.35,604.20h0.60v-1.02h-0.60ZM85.90,604.20h0.60v-1.08h-0.60ZM86.45,604.20h0.60v-1.16h-0.60ZM87.00,604.20h0.60v-0.90h-0.60ZM87.55,604.20h0.60v-0.92h-0.60ZM88.10,604.20h0.60v-1.11h-0.60ZM88.65,604.20h0.60v-0.97h-0.60ZM89.20,604.20h0.60v-1.13h-0.60ZM89.75,604.20h0.60v-1.03h-0.60ZM90.30,604.20h0.60v-0.92h-0.60ZM90.85,604.20h0.60v-1.19h-0.60ZM91.40,604.20h0.60v-0.90h-0.60ZM91.95,604.20h0.60v-0.92h-0.60ZM92.50,604.20h0.60v-0.95h-0.60ZM93.05,604.20h0.60v-0.97h-0.60ZM93.60,604.20h0.60v-0.97h-0.60ZM94.15,604.20h0.60v-0.90h-0.60ZM94.70,604.20h0.60v-1.18h-0.60ZM95.25,604.20h0.60v-1.04h-0.60ZM95.80,604.20h0.60v-0.90h-0.60ZM96.35,604.20h0.60v-0.91h-0.60ZM96.90,604.20h0.60v-1.01h-0.60ZM97.45,604.20h0.60v-0.95h-0.60ZM98.00,604.20h0.60v-1.25h-0.60ZM98.55,604.20h0.60v-1.06h-0.60ZM99.10,604.20h0.60v-1.21h-0.60ZM99.65,604.20h0.60v-1.09h-0.60ZM100.20,604.20h0.60v-0.92h-0.60ZM100.75,604.20h0.60v-0.90h-0.60ZM101.30,604.20h0.60v-1.31h-0.60ZM101.85,604.20h0.60v-1.14h-0.60ZM102.40,604.20h0.60v-1.28h-0.60ZM102.95,604.20h0.60v-0.91h-0.60ZM103.50,604.20h0.60v-0.97h-0.60ZM104.05,604.20h0.60v-1.31h-0.60ZM104.60,604.20h0.60v-0.94h-0.60ZM105.15,604.20h0.60v-1.15h-0.60ZM105.70,604.20h0.60v-0.92h-0.60ZM106.25,604.20h0.60v-1.06h-0.60ZM106.80,604.20h0.60v-0.98h-0.60ZM107.35,604.20h0.60v-1.21h-0.60ZM107.90,604.20h0.60v-0.91h-0.60ZM108.45,604.20h0.60v-1.01h-0.60ZM109.00,604.20h0.60v-1.02h-0.60ZM109.55,604.20h0.60v-0.96h-0.60ZM110.10,604.20h0.60v-1.04h-0.60ZM110.65,604.20h0.60v-1.02h-0.60ZM111.20,604.20h0.60v-1.08h-0.60ZM111.75,604.20h0.60v-1.09h-0.60ZM112.30,604.20h0.60v-0.96h-0.60ZM112.85,604.20h0.60v-0.92h-0.60ZM113.40,604.20h0.60v-0.93h-0.60ZM113.95,604.20h0.60v-1.30h-0.60ZM114.50,604.20h0.60v-0.94h-0.60ZM115.05,604.20h0.60v-1.07h-0.60ZM115.60,604.20h0.60v-0.92h-0.60ZM116.15,604.20h0.60v-1.24h-0.60ZM116.70,604.20h0.60v-1.08h-0.60ZM117.25,604.20h0.60v-1.24h-0.60ZM117.80,604.20h0.60v-0.91h-0.60ZM118.35,604.20h0.60v-1.34h-0.60ZM118.90,604.20h0.60v-1.17h-0.60ZM119.45,604.20h0.60v-1.01h-0.60ZM120.00,604.20h0.60v-1.05h-0.60ZM120.55,604.20h0.60v-1.07h-0.60ZM121.10,604.20h0.60v-0.90h-0.60ZM121.65,604.20h0.60v-0.98h-0.60ZM122.20,604.20h0.60v-1.13h-0.60ZM122.75,604.20h0.60v-0.91h-0.60ZM123.30,604.20h0.60v-0.97h-0.60ZM123.85,604.20h0.60v-0.90h-0.60ZM124.40,604.20h0.60v-1.00h-0.60ZM124.95,604.20h0.60v-1.26h-0.60ZM125.50,604.20h0.60v-0.92h-0.60ZM126.05,604.20h0.60v-1.26h-0.60ZM126.60,604.20h0.60v-0.90h-0.60ZM127.15,604.20h0.60v-0.98h-0.60ZM127.70,604.20h0.60v-1.02h-0.60ZM128.25,604.20h0.60v-0.92h-0.60ZM128.80,604.20h0.60v-0.96h-0.60ZM129.35,604.20h0.60v-0.95h-0.60ZM129.90,604.20h0.60v-0.90h-0.60ZM130.45,604.20h0.60v-0.91h-0.60ZM131.00,604.20h0.60v-1.02h-0.60ZM131.55,604.20h0.60v-1.01h-0.60ZM132.10,604.20h0.60v-1.09h-0.60ZM132.65,604.20h0.60v-0.93h-0.60ZM133.20,604.20h0.60v-1.21h-0.60Z" fill="#231f20"/>
<path d="M146.30,604.20h0.60v-1.09h-0.60ZM146.85,604.20h0.60v-0.94h-0.60ZM147.40,604.20h0.60v-1.06h-0.60ZM147.95,604.20h0.60v-0.91h-0.60ZM148.50,604.20h0.60v-1.06h-0.60ZM149.05,604.20h0.60v-1.07h-0.60ZM149.60,604.20h0.60v-1.11h-0.60ZM150.15,604.20h0.60v-1.09h-0.60ZM150.70,604.20h0.60v-1.02h-0.60ZM151.25,604.20h0.60v-0.95h-0.60ZM151.80,604.20h0.60v-0.96h-0.60ZM152.35,604.20h0.60v-0.91h-0.60ZM152.90,604.20h0.60v-0.96h-0.60ZM153.45,604.20h0.60v-0.94h-0.60ZM154.00,604.20h0.60v-0.93h-0.60ZM154.55,604.20h0.60v-1.21h-0.60ZM155.10,604.20h0.60v-0.90h-0.60ZM155.65,604.20h0.60v-1.05h-0.60ZM156.20,604.20h0.60v-0.91h-0.60ZM156.75,604.20h0.60v-0.99h-0.60ZM157.30,604.20h0.60v-1.03h-0.60ZM157.85,604.20h0.60v-0.92h-0.60ZM158.40,604.20h0.60v-1.26h-0.60ZM158.95,604.20h0.60v-1.13h-0.60ZM159.50,604.20h0.60v-0.91h-0.60ZM160.05,604.20h0.60v-1.21h-0.60ZM160.60,604.20h0.60v-0.98h-0.60ZM161.15,604.20h0.60v-1.05h-0.60ZM161.70,604.20h0.60v-0.96h-0.60ZM162.25,604.20h0.60v-0.93h-0.60ZM162.80,604.20h0.60v-0.91h-0.60ZM163.35,604.20h0.60v-0.99h-0.60ZM163.90,604.20h0.60v-0.99h-0.60ZM164.45,604.20h0.60v-0.94h-0.60ZM165.00,604.20h0.60v-1.73h-0.60ZM165.55,604.20h0.60v-2.69h-0.60ZM166.10,604.20h0.60v-3.91h-0.60ZM166.65,604.20h0.60v-4.25h-0.60ZM167.20,604.20h0.60v-3.12h-0.60ZM167.75,604.20h0.60v-4.73h-0.60ZM168.30,604.20h0.60v-9.44h-0.60ZM168.85,604.20h0.60v-13.78h-0.60ZM169.40,604.20h0.60v-8.67h-0.60ZM169.95,604.20h0.60v-9.27h-0.60ZM170.50,604.20h0.60v-7.51h-0.60ZM171.05,604.20h0.60v-5.25h-0.60ZM171.60,604.20h0.60v-3.23h-0.60ZM172.15,604.20h0.60v-1.48h-0.60ZM172.70,604.20h0.60v-0.91h-0.60ZM173.25,604.20h0.60v-0.96h-0.60ZM173.80,604.20h0.60v-1.71h-0.60ZM174.35,604.20h0.60v-4.20h-0.60ZM174.90,604.20h0.60v-9.22h-0.60ZM175.45,604.20h0.60v-9.33h-0.60ZM176.00,604.20h0.60v-5.59h-0.60ZM176.55,604.20h0.60v-6.15h-0.60ZM177.10,604.20h0.60v-7.83h-0.60ZM177.65,604.20h0.60v-11.23h-0.60ZM178.20,604.20h0.60v-5.57h-0.60ZM178.75,604.20h0.60v-2.02h-0.60ZM179.30,604.20h0.60v-1.26h-0.60ZM179.85,604.20h0.60v-1.04h-0.60ZM180.40,604.20h0.60v-0.96h-0.60ZM180.95,604.20h0.60v-0.92h-0.60ZM181.50,604.20h0.60v-0.90h-0.60ZM182.05,604.20h0.60v-0.91h-0.60ZM182.60,604.20h0.60v-1.13h-0.60ZM183.15,604.20h0.60v-0.91h-0.60ZM183.70,604.20h0.60v-0.96h-0.60ZM184.25,604.20h0.60v-1.16h-0.60ZM184.80,604.20h0.60v-0.92h-0.60ZM185.35,604.20h0.60v-0.97h-0.60ZM185.90,604.20h0.60v-0.95h-0.60ZM186.45,604.20h0.60v-1.11h-0.60ZM187.00,604.20h0.60v-1.06h-0.60ZM187.55,604.20h0.60v-1.30h-0.60ZM188.10,604.20h0.60v-0.93h-0.60ZM188.65,604.20h0.60v-1.24h-0.60ZM189.20,604.20h0.60v-1.25h-0.60ZM189.75,604.20h0.60v-1.93h-0.60ZM190.30,604.20h0.60v-1.93h-0.60ZM190.85,604.20h0.60v-1.18h-0.60ZM191.40,604.20h0.60v-1.01h-0.60ZM191.95,604.20h0.60v-1.23h-0.60ZM192.50,604.20h0.60v-0.94h-0.60ZM193.05,604.20h0.60v-1.07h-0.60ZM193.60,604.20h0.60v-0.93h-0.60ZM194.15,604.20h0.60v-1.11h-0.60ZM194.70,604.20h0.60v-1.09h-0.60ZM195.25,604.20h0.60v-1.05h-0.60ZM195.80,604.20h0.60v-1.14h-0.60ZM196.35,604.20h0.60v-1.22h-0.60ZM196.90,604.20h0.60v-1.34h-0.60ZM197.45,604.20h0.60v-0.91h-0.60ZM198.00,604.20h0.60v-1.21h-0.60ZM198.55,604.20h0.60v-0.99h-0.60ZM199.10,604.20h0.60v-0.90h-0.60ZM199.65,604.20h0.60v-1.12h-0.60ZM200.20,604.20h0.60v-1.01h-0.60ZM200.75,604.20h0.60v-1.12h-0.60ZM201.30,604.20h0.60v-0.98h-0.60ZM201.85,604.20h0.60v-0.91h-0.60ZM202.40,604.20h0.60v-1.09h-0.60ZM202.95,604.20h0.60v-1.97h-0.60ZM203.50,604.20h0.60v-5.71h-0.60ZM204.05,604.20h0.60v-8.06h-0.60ZM204.60,604.20h0.60v-4.57h-0.60ZM205.15,604.20h0.60v-2.53h-0.60ZM205.70,604.20h0.60v-3.20h-0.60ZM206.25,604.20h0.60v-4.80h-0.60ZM206.80,604.20h0.60v-8.54h-0.60ZM207.35,604.20h0.60v-6.15h-0.60ZM207.90,604.20h0.60v-3.78h-0.60ZM208.45,604.20h0.60v-3.76h-0.60ZM209.00,604.20h0.60v-8.01h-0.60ZM209.55,604.20h0.60v-6.63h-0.60ZM210.10,604.20h0.60v-2.74h-0.60ZM210.65,604.20h0.60v-1.15h-0.60ZM211.20,604.20h0.60v-1.31h-0.60ZM211.75,604.20h0.60v-1.14h-0.60ZM212.30,604.20h0.60v-0.96h-0.60ZM212.85,604.20h0.60v-0.91h-0.60ZM213.40,604.20h0.60v-1.14h-0.60ZM213.95,604.20h0.60v-1.06h-0.60ZM214.50,604.20h0.60v-0.92h-0.60ZM215.05,604.20h0.60v-0.93h-0.60ZM215.60,604.20h0.60v-0.90h-0.60ZM216.15,604.20h0.60v-1.01h-0.60ZM216.70,604.20h0.60v-0.94h-0.60ZM217.25,604.20h0.60v-0.97h-0.60ZM217.80,604.20h0.60v-0.93h-0.60ZM218.35,604.20h0.60v-1.01h-0.60ZM218.90,604.20h0.60v-1.04h-0.60ZM219.45,604.20h0.60v-0.99h-0.60ZM220.00,604.20h0.60v-1.12h-0.60ZM220.55,604.20h0.60v-0.96h-0.60ZM221.10,604.20h0.60v-1.03h-0.60ZM221.65,604.20h0.60v-1.14h-0.60ZM222.20,604.20h0.60v-0.91h-0.60ZM222.75,604.20h0.60v-1.08h-0.60ZM223.30,604.20h0.60v-0.96h-0.60ZM223.85,604.20h0.60v-0.97h-0.60ZM224.40,604.20h0.60v-0.91h-0.60ZM224.95,604.20h0.60v-1.06h-0.60ZM225.50,604.20h0.60v-1.30h-0.60ZM226.05,604.20h0.60v-2.72h-0.60ZM226.60,604.20h0.60v-3.41h-0.60ZM227.15,604.20h0.60v-2.05h-0.60ZM227.70,604.20h0.60v-0.90h-0.60ZM228.25,604.20h0.60v-0.90h-0.60ZM228.80,604.20h0.60v-0.98h-0.60ZM229.35,604.20h0.60v-0.98h-0.60ZM229.90,604.20h0.60v-1.01h-0.60ZM230.45,604.20h0.60v-0.94h-0.60ZM231.00,604.20h0.60v-0.94h-0.60ZM231.55,604.20h0.60v-1.69h-0.60ZM232.10,604.20h0.60v-2.24h-0.60ZM232.65,604.20h0.60v-1.29h-0.60ZM233.20,604.20h0.60v-0.90h-0.60ZM233.75,604.20h0.60v-1.06h-0.60ZM234.30,604.20h0.60v-0.90h-0.60ZM234.85,604.20h0.60v-0.91h-0.60ZM235.40,604.20h0.60v-0.94h-0.60ZM235.95,604.20h0.60v-0.91h-0.60ZM236.50,604.20h0.60v-0.92h-0.60ZM237.05,604.20h0.60v-1.19h-0.60ZM237.60,604.20h0.60v-1.05h-0.60ZM238.15,604.20h0.60v-0.90h-0.60ZM238.70,604.20h0.60v-1.16h-0.60ZM239.25,604.20h0.60v-0.95h-0.60ZM239.80,604.20h0.60v-0.97h-0.60ZM240.35,604.20h0.60v-0.91h-0.60ZM240.90,604.20h0.60v-1.15h-0.60ZM241.45,604.20h0.60v-0.92h-0.60ZM242.00,604.20h0.60v-1.02h-0.60ZM242.55,604.20h0.60v-0.91h-0.60ZM243.10,604.20h0.60v-1.03h-0.60ZM243.65,604.20h0.60v-0.92h-0.60ZM244.20,604.20h0.60v-0.99h-0.60ZM244.75,604.20h0.60v-1.45h-0.60ZM245.30,604.20h0.60v-2.15h-0.60ZM245.85,604.20h0.60v-2.95h-0.60ZM246.40,604.20h0.60v-5.78h-0.60ZM246.95,604.20h0.60v-12.76h-0.60ZM247.50,604.20h0.60v-13.72h-0.60ZM248.05,604.20h0.60v-7.53h-0.60ZM248.60,604.20h0.60v-3.38h-0.60ZM249.15,604.20h0.60v-2.71h-0.60ZM249.70,604.20h0.60v-1.76h-0.60ZM250.25,604.20h0.60v-1.13h-0.60ZM250.80,604.20h0.60v-0.93h-0.60ZM251.35,604.20h0.60v-0.97h-0.60ZM251.90,604.20h0.60v-0.96h-0.60ZM252.45,604.20h0.60v-0.99h-0.60ZM253.00,604.20h0.60v-0.94h-0.60ZM253.55,604.20h0.60v-1.09h-0.60ZM254.10,604.20h0.60v-0.91h-0.60ZM254.65,604.20h0.60v-1.01h-0.60ZM255.20,604.20h0.60v-1.02h-0.60ZM255.75,604.20h0.60v-0.90h-0.60ZM256.30,604.20h0.60v-0.99h-0.60ZM256.85,604.20h0.60v-1.03h-0.60ZM257.40,604.20h0.60v-0.94h-0.60ZM257.95,604.20h0.60v-0.91h-0.60ZM258.50,604.20h0.60v-0.96h-0.60ZM259.05,604.20h0.60v-1.04h-0.60ZM259.60,604.20h0.60v-2.01h-0.60ZM260.15,604.20h0.60v-3.16h-0.60ZM260.70,604.20h0.60v-4.07h-0.60ZM261.25,604.20h0.60v-2.69h-0.60ZM261.80,604.20h0.60v-1.53h-0.60ZM262.35,604.20h0.60v-0.91h-0.60ZM262.90,604.20h0.60v-0.93h-0.60ZM263.45,604.20h0.60v-0.91h-0.60ZM264.00,604.20h0.60v-0.95h-0.60ZM264.55,604.20h0.60v-1.05h-0.60ZM265.10,604.20h0.60v-1.08h-0.60ZM265.65,604.20h0.60v-0.90h-0.60ZM266.20,604.20h0.60v-1.04h-0.60ZM266.75,604.20h0.60v-0.91h-0.60ZM267.30,604.20h0.60v-1.05h-0.60ZM267.85,604.20h0.60v-1.04h-0.60ZM268.40,604.20h0.60v-0.95h-0.60ZM268.95,604.20h0.60v-0.96h-0.60ZM269.50,604.20h0.60v-1.39h-0.60ZM270.05,604.20h0.60v-2.11h-0.60ZM270.60,604.20h0.60v-1.30h-0.60ZM271.15,604.20h0.60v-0.92h-0.60ZM271.70,604.20h0.60v-0.93h-0.60ZM272.25,604.20h0.60v-1.00h-0.60ZM272.80,604.20h0.60v-0.92h-0.60ZM273.35,604.20h0.60v-0.96h-0.60ZM273.90,604.20h0.60v-0.99h-0.60ZM274.45,604.20h0.60v-0.90h-0.60ZM275.00,604.20h0.60v-0.90h-0.60ZM275.55,604.20h0.60v-0.97h-0.60ZM276.10,604.20h0.60v-1.09h-0.60ZM276.65,604.20h0.60v-0.93h-0.60ZM277.20,604.20h0.60v-0.92h-0.60ZM277.75,604.20h0.60v-1.04h-0.60ZM278.30,604.20h0.60v-0.90h-0.60ZM278.85,604.20h0.60v-1.04h-0.60ZM279.40,604.20h0.60v-1.08h-0.60ZM279.95,604.20h0.60v-0.91h-0.60ZM280.50,604.20h0.60v-0.94h-0.60ZM281.05,604.20h0.60v-0.99h-0.60Z" fill="#231f20"/>
<line x1="134.30" y1="608.70" x2="138.90" y2="599.80" stroke="#111" stroke-width="1.25" />
<line x1="138.60" y1="608.70" x2="143.20" y2="599.80" stroke="#111" stroke-width="1.25" />
<line x1="41.30" y1="604.30" x2="133.40" y2="604.30" stroke="#222" stroke-width="1.0" />
<line x1="146.30" y1="604.30" x2="281.40" y2="604.30" stroke="#222" stroke-width="1.0" />
<text x="22.70" y="467.30" font-size="8.96" textLength="28.46" lengthAdjust="spacingAndGlyphs" text-anchor="middle" stroke="#231f20" stroke-width="0.12" transform="rotate(-90 22.70 467.30)" >H3K9ac</text>
<text x="37.20" y="457.80" font-size="8.96" textLength="12.44" lengthAdjust="spacingAndGlyphs" text-anchor="middle" stroke="#231f20" stroke-width="0.12" transform="rotate(-90 37.20 457.80)" >WT</text>
<text x="37.20" y="480.30" font-size="8.96" textLength="11.56" lengthAdjust="spacingAndGlyphs" text-anchor="middle" stroke="#231f20" stroke-width="0.12" transform="rotate(-90 37.20 480.30)" >KO</text>
<line x1="27.20" y1="450.80" x2="27.20" y2="486.40" stroke="#777" stroke-width="1.1" />
<text x="22.70" y="513.50" font-size="8.96" textLength="32.91" lengthAdjust="spacingAndGlyphs" text-anchor="middle" stroke="#231f20" stroke-width="0.12" transform="rotate(-90 22.70 513.50)" >H3K27ac</text>
<text x="37.20" y="503.80" font-size="8.96" textLength="12.44" lengthAdjust="spacingAndGlyphs" text-anchor="middle" stroke="#231f20" stroke-width="0.12" transform="rotate(-90 37.20 503.80)" >WT</text>
<text x="37.20" y="526.00" font-size="8.96" textLength="11.56" lengthAdjust="spacingAndGlyphs" text-anchor="middle" stroke="#231f20" stroke-width="0.12" transform="rotate(-90 37.20 526.00)" >KO</text>
<line x1="27.20" y1="497.20" x2="27.20" y2="532.80" stroke="#777" stroke-width="1.1" />
<text x="22.70" y="559.70" font-size="8.96" textLength="28.46" lengthAdjust="spacingAndGlyphs" text-anchor="middle" stroke="#231f20" stroke-width="0.12" transform="rotate(-90 22.70 559.70)" >H4K8ac</text>
<text x="37.20" y="550.50" font-size="8.96" textLength="12.44" lengthAdjust="spacingAndGlyphs" text-anchor="middle" stroke="#231f20" stroke-width="0.12" transform="rotate(-90 37.20 550.50)" >WT</text>
<text x="37.20" y="573.00" font-size="8.96" textLength="11.56" lengthAdjust="spacingAndGlyphs" text-anchor="middle" stroke="#231f20" stroke-width="0.12" transform="rotate(-90 37.20 573.00)" >KO</text>
<line x1="27.20" y1="543.60" x2="27.20" y2="577.60" stroke="#777" stroke-width="1.1" />
<text x="37.20" y="593.40" font-size="8.96" textLength="21.34" lengthAdjust="spacingAndGlyphs" text-anchor="middle" stroke="#231f20" stroke-width="0.12" transform="rotate(-90 37.20 593.40)" >BRD4</text>
<text x="48.7" y="614.5" font-size="8.4" textLength="22.6" lengthAdjust="spacingAndGlyphs" fill="#231f20" stroke="#231f20" stroke-width="0.12"><tspan font-style="italic">Myc</tspan> H</text>
<text x="116.00" y="626.60" font-size="8.96" textLength="61.83" lengthAdjust="spacingAndGlyphs" text-anchor="middle" stroke="#231f20" stroke-width="0.12" >Chr15: 62000000</text>
<text x="195.80" y="626.60" font-size="8.96" textLength="61.83" lengthAdjust="spacingAndGlyphs" text-anchor="middle" stroke="#231f20" stroke-width="0.12" >Chr15: 63600000</text>
<text x="167.40" y="614.90" font-size="8.29" textLength="9.05" lengthAdjust="spacingAndGlyphs" text-anchor="middle" stroke="#231f20" stroke-width="0.12" >E1</text>
<text x="177.30" y="614.90" font-size="8.29" textLength="9.05" lengthAdjust="spacingAndGlyphs" text-anchor="middle" stroke="#231f20" stroke-width="0.12" >E2</text>
<text x="203.20" y="614.90" font-size="8.29" textLength="9.05" lengthAdjust="spacingAndGlyphs" text-anchor="middle" stroke="#231f20" stroke-width="0.12" >E3</text>
<text x="212.70" y="614.90" font-size="8.29" textLength="9.05" lengthAdjust="spacingAndGlyphs" text-anchor="middle" stroke="#231f20" stroke-width="0.12" >E4</text>
<text x="247.90" y="614.90" font-size="8.29" textLength="9.05" lengthAdjust="spacingAndGlyphs" text-anchor="middle" stroke="#231f20" stroke-width="0.12" >E5</text>
<line x1="260.50" y1="609.40" x2="281.50" y2="609.40" stroke="#111" stroke-width="1.0" />
<text x="272.10" y="619.60" font-size="9.07" textLength="31.53" lengthAdjust="spacingAndGlyphs" text-anchor="middle" stroke="#231f20" stroke-width="0.12" >25000bp</text>
<text x="300.90" y="452.60" font-size="10.50" font-weight="bold" fill="#000" stroke="#000" stroke-width="0.55" >G</text>
<line x1="340.40" y1="458.30" x2="340.40" y2="521.70" stroke="#231f20" stroke-width="1.0" />
<line x1="339.90" y1="521.20" x2="393.80" y2="521.20" stroke="#231f20" stroke-width="1.0" />
<line x1="337.60" y1="459.60" x2="340.40" y2="459.60" stroke="#231f20" stroke-width="0.9" />
<text x="334.80" y="462.50" font-size="9.52" textLength="11.82" lengthAdjust="spacingAndGlyphs" text-anchor="end" stroke="#231f20" stroke-width="0.12" >2.0</text>
<line x1="337.60" y1="475.00" x2="340.40" y2="475.00" stroke="#231f20" stroke-width="0.9" />
<text x="334.80" y="477.90" font-size="9.52" textLength="11.82" lengthAdjust="spacingAndGlyphs" text-anchor="end" stroke="#231f20" stroke-width="0.12" >1.5</text>
<line x1="337.60" y1="490.40" x2="340.40" y2="490.40" stroke="#231f20" stroke-width="0.9" />
<text x="334.80" y="493.30" font-size="9.52" textLength="11.82" lengthAdjust="spacingAndGlyphs" text-anchor="end" stroke="#231f20" stroke-width="0.12" >1.0</text>
<line x1="337.60" y1="505.80" x2="340.40" y2="505.80" stroke="#231f20" stroke-width="0.9" />
<text x="334.80" y="508.70" font-size="9.52" textLength="11.82" lengthAdjust="spacingAndGlyphs" text-anchor="end" stroke="#231f20" stroke-width="0.12" >0.5</text>
<line x1="337.60" y1="521.20" x2="340.40" y2="521.20" stroke="#231f20" stroke-width="0.9" />
<text x="334.80" y="524.10" font-size="9.52" textLength="4.73" lengthAdjust="spacingAndGlyphs" text-anchor="end" stroke="#231f20" stroke-width="0.12" >0</text>
<line x1="353.85" y1="471.30" x2="353.85" y2="468.53" stroke="#231f20" stroke-width="0.9" />
<line x1="349.15" y1="468.53" x2="358.55" y2="468.53" stroke="#231f20" stroke-width="1.1" />
<rect x="345.20" y="471.30" width="17.30" height="49.90" fill="#a6022c" />
<line x1="380.30" y1="508.88" x2="380.30" y2="506.11" stroke="#231f20" stroke-width="0.9" />
<line x1="375.60" y1="506.11" x2="385.00" y2="506.11" stroke="#231f20" stroke-width="1.1" />
<rect x="371.60" y="508.88" width="17.40" height="12.32" fill="#2c4c8a" />
<text x="342.0" y="464.20" font-size="8.0" textLength="24.3" lengthAdjust="spacingAndGlyphs" fill="#231f20" stroke="#231f20" stroke-width="0.12"><tspan font-style="italic">Myc</tspan> E2</text>
<text x="380.30" y="505.91" font-size="9.18" textLength="9.57" lengthAdjust="spacingAndGlyphs" text-anchor="middle" stroke="#231f20" stroke-width="0.12" >***</text>
<text x="353.00" y="534.20" font-size="8.51" textLength="11.82" lengthAdjust="spacingAndGlyphs" text-anchor="middle" stroke="#231f20" stroke-width="0.12" >WT</text>
<text x="380.00" y="534.20" font-size="8.51" textLength="10.98" lengthAdjust="spacingAndGlyphs" text-anchor="middle" stroke="#231f20" stroke-width="0.12" >KO</text>
<text x="316.20" y="488.60" font-size="8.62" textLength="34.24" lengthAdjust="spacingAndGlyphs" text-anchor="middle" stroke="#231f20" stroke-width="0.12" transform="rotate(-90 316.20 488.60)" >% of input</text>
<line x1="340.40" y1="548.70" x2="340.40" y2="608.80" stroke="#231f20" stroke-width="1.0" />
<line x1="339.90" y1="608.30" x2="393.80" y2="608.30" stroke="#231f20" stroke-width="1.0" />
<line x1="337.60" y1="550.55" x2="340.40" y2="550.55" stroke="#231f20" stroke-width="0.9" />
<text x="334.80" y="553.45" font-size="9.52" textLength="11.82" lengthAdjust="spacingAndGlyphs" text-anchor="end" stroke="#231f20" stroke-width="0.12" >2.5</text>
<line x1="337.60" y1="562.10" x2="340.40" y2="562.10" stroke="#231f20" stroke-width="0.9" />
<text x="334.80" y="565.00" font-size="9.52" textLength="11.82" lengthAdjust="spacingAndGlyphs" text-anchor="end" stroke="#231f20" stroke-width="0.12" >2.0</text>
<line x1="337.60" y1="573.65" x2="340.40" y2="573.65" stroke="#231f20" stroke-width="0.9" />
<text x="334.80" y="576.55" font-size="9.52" textLength="11.82" lengthAdjust="spacingAndGlyphs" text-anchor="end" stroke="#231f20" stroke-width="0.12" >1.5</text>
<line x1="337.60" y1="585.20" x2="340.40" y2="585.20" stroke="#231f20" stroke-width="0.9" />
<text x="334.80" y="588.10" font-size="9.52" textLength="11.82" lengthAdjust="spacingAndGlyphs" text-anchor="end" stroke="#231f20" stroke-width="0.12" >1.0</text>
<line x1="337.60" y1="596.75" x2="340.40" y2="596.75" stroke="#231f20" stroke-width="0.9" />
<text x="334.80" y="599.65" font-size="9.52" textLength="11.82" lengthAdjust="spacingAndGlyphs" text-anchor="end" stroke="#231f20" stroke-width="0.12" >0.5</text>
<line x1="337.60" y1="608.30" x2="340.40" y2="608.30" stroke="#231f20" stroke-width="0.9" />
<text x="334.80" y="611.20" font-size="9.52" textLength="4.73" lengthAdjust="spacingAndGlyphs" text-anchor="end" stroke="#231f20" stroke-width="0.12" >0</text>
<line x1="353.85" y1="562.10" x2="353.85" y2="557.02" stroke="#231f20" stroke-width="0.9" />
<line x1="349.15" y1="557.02" x2="358.55" y2="557.02" stroke="#231f20" stroke-width="1.1" />
<rect x="345.20" y="562.10" width="17.30" height="46.20" fill="#a6022c" />
<line x1="380.30" y1="596.75" x2="380.30" y2="593.52" stroke="#231f20" stroke-width="0.9" />
<line x1="375.60" y1="593.52" x2="385.00" y2="593.52" stroke="#231f20" stroke-width="1.1" />
<rect x="371.60" y="596.75" width="17.40" height="11.55" fill="#2c4c8a" />
<text x="342.0" y="554.60" font-size="8.0" textLength="24.3" lengthAdjust="spacingAndGlyphs" fill="#231f20" stroke="#231f20" stroke-width="0.12"><tspan font-style="italic">Myc</tspan> E3</text>
<text x="380.30" y="593.32" font-size="9.18" textLength="9.57" lengthAdjust="spacingAndGlyphs" text-anchor="middle" stroke="#231f20" stroke-width="0.12" >***</text>
<text x="353.00" y="621.30" font-size="8.51" textLength="11.82" lengthAdjust="spacingAndGlyphs" text-anchor="middle" stroke="#231f20" stroke-width="0.12" >WT</text>
<text x="380.00" y="621.30" font-size="8.51" textLength="10.98" lengthAdjust="spacingAndGlyphs" text-anchor="middle" stroke="#231f20" stroke-width="0.12" >KO</text>
<text x="316.20" y="576.50" font-size="8.62" textLength="34.24" lengthAdjust="spacingAndGlyphs" text-anchor="middle" stroke="#231f20" stroke-width="0.12" transform="rotate(-90 316.20 576.50)" >% of input</text></svg></body></html>
